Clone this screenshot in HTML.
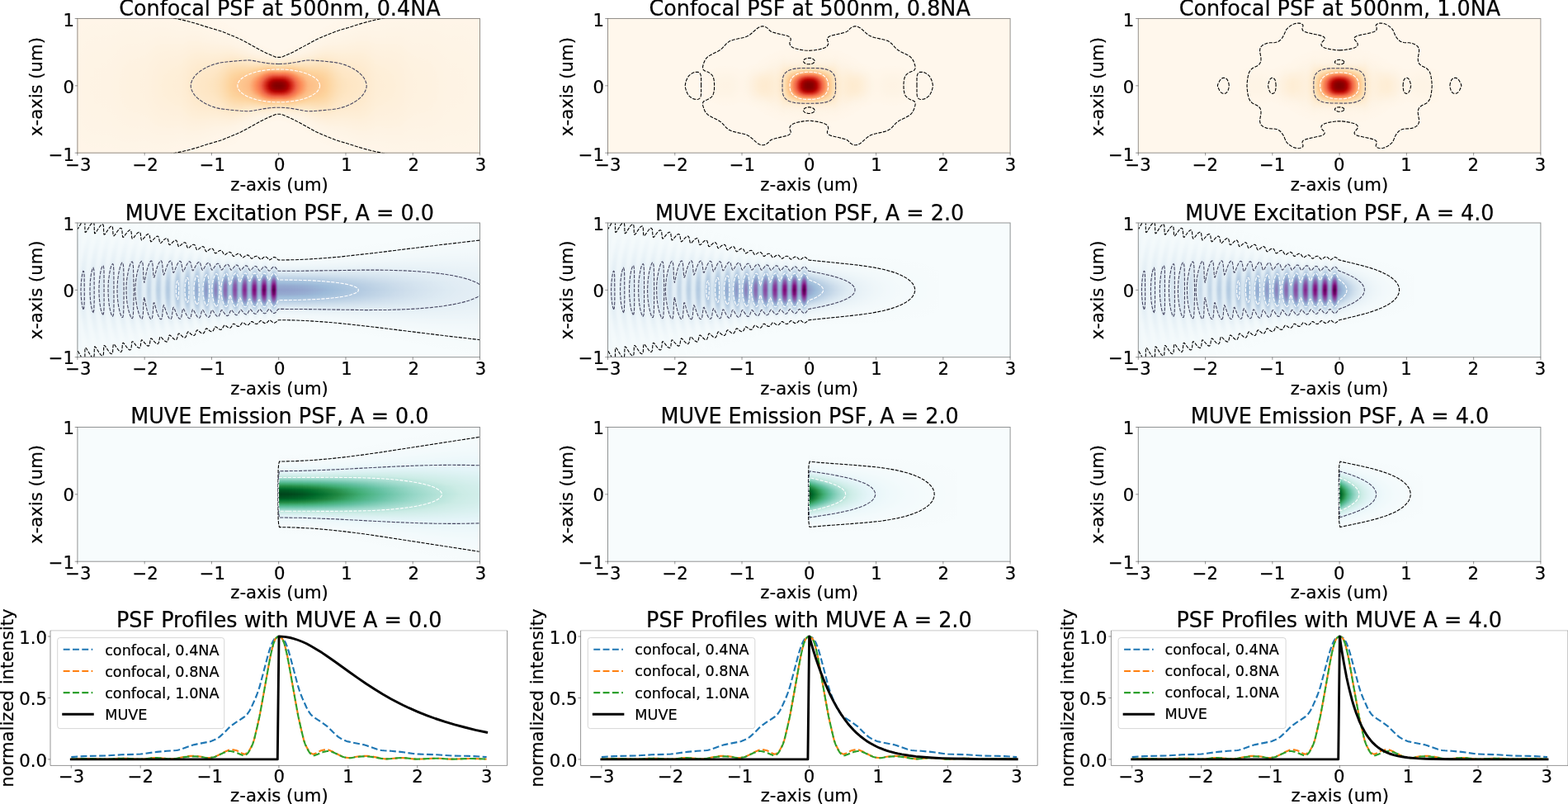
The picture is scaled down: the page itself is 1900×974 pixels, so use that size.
<!DOCTYPE html>
<html lang="en"><head><meta charset="utf-8"><title>PSF comparison</title>
<style>html,body{margin:0;padding:0;background:#fff}body{width:1900px;height:974px;overflow:hidden}svg{display:block}text{font-family:'DejaVu Sans','Liberation Sans',sans-serif;fill:#000;text-anchor:middle;stroke:#000;stroke-width:.22px}.e{text-anchor:end}.s{text-anchor:start}stop{stop-color:#fff}</style>
</head><body>
<svg width="1900" height="974" viewBox="0 0 1900 974" role="img" aria-label="PSF comparison figure">
<defs><filter id="cm0" filterUnits="userSpaceOnUse" x="0" y="0" width="1900" height="700" color-interpolation-filters="sRGB"><feComponentTransfer><feFuncR type="table" tableValues="1.0004 .9994 .9984 .9974 .9965 .9955 .9945 .9935 .9926 .9926 .9926 .9926 .9925 .9915 .9905 .9896 .9878 .975 .9622 .9495 .9358 .9122 .8886 .8649 .8402 .8048 .7694 .7339 .6968 .6456 .5944 .5432 .4984"/><feFuncG type="table" tableValues=".969 .9543 .9395 .9247 .9099 .8902 .8705 .8508 .831 .8064 .7818 .7572 .7316 .6863 .6411 .5958 .5509 .5115 .4721 .4328 .3924 .3402 .2881 .2359 .1842 .137 .0897 .0425 .0004 .0004 .0004 .0004 .0004"/><feFuncB type="table" tableValues=".9259 .8905 .855 .8196 .7841 .7427 .7014 .6601 .6192 .5936 .568 .5424 .5161 .4737 .4314 .3891 .3484 .3316 .3149 .2982 .2796 .2392 .1989 .1585 .1191 .0886 .0581 .0276 .0004 .0004 .0004 .0004 .0004"/></feComponentTransfer></filter><filter id="cm1" filterUnits="userSpaceOnUse" x="0" y="0" width="1900" height="700" color-interpolation-filters="sRGB"><feComponentTransfer><feFuncR type="table" tableValues=".969 .9464 .9238 .9011 .8783 .8458 .8134 .7809 .7484 .7159 .6834 .651 .6192 .6015 .5837 .566 .5494 .5494 .5494 .5494 .5491 .5452 .5412 .5373 .5331 .5262 .5193 .5124 .5007 .4495 .3983 .3471 .3024"/><feFuncG type="table" tableValues=".9886 .9729 .9571 .9414 .9255 .9009 .8763 .8517 .8271 .8045 .7819 .7592 .7359 .6985 .6611 .6237 .586 .5437 .5013 .459 .4168 .3754 .3341 .2928 .2507 .2015 .1523 .1031 .0576 .0428 .0281 .0133 .0004"/><feFuncB type="table" tableValues=".9926 .9837 .9748 .966 .957 .9433 .9295 .9157 .902 .8902 .8784 .8666 .8544 .8347 .815 .7953 .7756 .7549 .7342 .7136 .693 .6733 .6536 .6339 .613 .5806 .5481 .5156 .4814 .4332 .3849 .3367 .2945"/></feComponentTransfer></filter><filter id="cm2" filterUnits="userSpaceOnUse" x="0" y="0" width="1900" height="700" color-interpolation-filters="sRGB"><feComponentTransfer><feFuncR type="table" tableValues=".969 .9513 .9336 .9159 .8981 .8734 .8488 .8242 .7988 .7486 .6984 .6482 .598 .5479 .4977 .4475 .3981 .3617 .3253 .2889 .253 .2235 .1939 .1644 .1344 .1 .0655 .0311 .0004 .0004 .0004 .0004 .0004"/><feFuncG type="table" tableValues=".9886 .9817 .9749 .968 .961 .9522 .9433 .9345 .9253 .9056 .8859 .8662 .8464 .8248 .8031 .7815 .76 .7403 .7206 .7009 .6801 .6456 .6112 .5767 .5427 .5132 .4837 .4541 .4234 .3831 .3427 .3024 .2671"/><feFuncB type="table" tableValues=".9926 .9886 .9847 .9807 .9766 .9579 .9392 .9205 .9015 .8729 .8444 .8158 .7869 .7505 .7141 .6777 .6407 .5954 .5502 .5049 .4594 .4111 .3629 .3147 .2687 .2441 .2195 .1949 .1711 .1544 .1377 .1209 .1063"/></feComponentTransfer></filter><filter id="blr" filterUnits="userSpaceOnUse" x="0" y="0" width="1900" height="700"><feGaussianBlur stdDeviation="1.3"/></filter><linearGradient id="gG" x1="0" y1="0" x2="0" y2="1"><stop offset="0" stop-opacity="0"/><stop offset=".042" stop-opacity="0"/><stop offset=".083" stop-opacity=".001"/><stop offset=".125" stop-opacity=".003"/><stop offset=".167" stop-opacity=".009"/><stop offset=".208" stop-opacity=".027"/><stop offset=".25" stop-opacity=".071"/><stop offset=".292" stop-opacity=".159"/><stop offset=".333" stop-opacity=".309"/><stop offset=".375" stop-opacity=".516"/><stop offset=".417" stop-opacity=".745"/><stop offset=".458" stop-opacity=".929"/><stop offset=".5" stop-opacity="1"/><stop offset=".542" stop-opacity=".929"/><stop offset=".583" stop-opacity=".745"/><stop offset=".625" stop-opacity=".516"/><stop offset=".667" stop-opacity=".309"/><stop offset=".708" stop-opacity=".159"/><stop offset=".75" stop-opacity=".071"/><stop offset=".792" stop-opacity=".027"/><stop offset=".833" stop-opacity=".009"/><stop offset=".875" stop-opacity=".003"/><stop offset=".917" stop-opacity=".001"/><stop offset=".958" stop-opacity="0"/><stop offset="1" stop-opacity="0"/></linearGradient><linearGradient id="gA" x1="0" y1="0" x2="0" y2="1"><stop offset="0" stop-opacity=".003"/><stop offset=".042" stop-opacity=".008"/><stop offset=".083" stop-opacity=".02"/><stop offset=".125" stop-opacity=".043"/><stop offset=".167" stop-opacity=".086"/><stop offset=".208" stop-opacity=".157"/><stop offset=".25" stop-opacity=".262"/><stop offset=".292" stop-opacity=".401"/><stop offset=".333" stop-opacity=".564"/><stop offset=".375" stop-opacity=".731"/><stop offset=".417" stop-opacity=".875"/><stop offset=".458" stop-opacity=".969"/><stop offset=".5" stop-opacity="1"/><stop offset=".542" stop-opacity=".969"/><stop offset=".583" stop-opacity=".875"/><stop offset=".625" stop-opacity=".731"/><stop offset=".667" stop-opacity=".564"/><stop offset=".708" stop-opacity=".401"/><stop offset=".75" stop-opacity=".262"/><stop offset=".792" stop-opacity=".157"/><stop offset=".833" stop-opacity=".086"/><stop offset=".875" stop-opacity=".043"/><stop offset=".917" stop-opacity=".02"/><stop offset=".958" stop-opacity=".008"/><stop offset="1" stop-opacity=".003"/></linearGradient><linearGradient id="gB" x1="0" y1="0" x2="0" y2="1"><stop offset="0" stop-opacity=".003"/><stop offset=".042" stop-opacity=".009"/><stop offset=".083" stop-opacity=".025"/><stop offset=".125" stop-opacity=".06"/><stop offset=".167" stop-opacity=".125"/><stop offset=".208" stop-opacity=".227"/><stop offset=".25" stop-opacity=".368"/><stop offset=".292" stop-opacity=".534"/><stop offset=".333" stop-opacity=".701"/><stop offset=".375" stop-opacity=".843"/><stop offset=".417" stop-opacity=".941"/><stop offset=".458" stop-opacity=".99"/><stop offset=".5" stop-opacity="1"/><stop offset=".542" stop-opacity=".99"/><stop offset=".583" stop-opacity=".941"/><stop offset=".625" stop-opacity=".843"/><stop offset=".667" stop-opacity=".701"/><stop offset=".708" stop-opacity=".534"/><stop offset=".75" stop-opacity=".368"/><stop offset=".792" stop-opacity=".227"/><stop offset=".833" stop-opacity=".125"/><stop offset=".875" stop-opacity=".06"/><stop offset=".917" stop-opacity=".025"/><stop offset=".958" stop-opacity=".009"/><stop offset="1" stop-opacity=".003"/></linearGradient><radialGradient id="halo"><stop offset="0" stop-opacity=".06"/><stop offset=".35" stop-opacity=".045"/><stop offset=".6" stop-opacity=".022"/><stop offset=".8" stop-opacity=".008"/><stop offset="1" stop-opacity="0"/></radialGradient><clipPath id="cp00"><rect x="93.9" y="22.5" width="487.6" height="162.7"/></clipPath><clipPath id="cp01"><rect x="736.5" y="22.5" width="487.6" height="162.7"/></clipPath><clipPath id="cp02"><rect x="1379.3" y="22.5" width="487.6" height="162.7"/></clipPath><clipPath id="cp10"><rect x="93.9" y="270" width="487.6" height="162.7"/></clipPath><clipPath id="cl10"><rect x="91.9" y="270" width="246.1" height="162.7"/></clipPath><clipPath id="cp11"><rect x="736.5" y="270" width="487.6" height="162.7"/></clipPath><clipPath id="cl11"><rect x="734.5" y="270" width="245.5" height="162.7"/></clipPath><clipPath id="cp12"><rect x="1379.3" y="270" width="487.6" height="162.7"/></clipPath><clipPath id="cl12"><rect x="1377.3" y="270" width="245.7" height="162.7"/></clipPath><clipPath id="cp20"><rect x="93.9" y="517.5" width="487.6" height="162.7"/></clipPath><clipPath id="cp21"><rect x="736.5" y="517.5" width="487.6" height="162.7"/></clipPath><clipPath id="cp22"><rect x="1379.3" y="517.5" width="487.6" height="162.7"/></clipPath></defs>
<g id="ax00">
<rect x="93.9" y="22.5" width="487.6" height="162.7" fill="#fff7ec"/>
<g clip-path="url(#cp00)"><g filter="url(#cm0)"><rect x="92.9" y="21.5" width="489.6" height="164.7" fill="#000"/><g fill="url(#gA)"><rect x="93.9" y="-120.3" width="1.1" height="448.3" opacity=".019"/><rect x="95" y="-119.5" width="1" height="446.8" opacity=".02"/><rect x="96" y="-118.8" width="1" height="445.3" opacity=".02"/><rect x="97" y="-118.1" width="1" height="443.9" opacity=".021"/><rect x="98" y="-117.4" width="1" height="442.5" opacity=".021"/><rect x="99" y="-116.7" width="1" height="441.1" opacity=".022"/><rect x="100" y="-116" width="1" height="439.6" opacity=".022"/><rect x="101" y="-115.2" width="1" height="438.2" opacity=".023"/><rect x="102" y="-114.5" width="1" height="436.7" opacity=".023"/><rect x="103" y="-113.8" width="1" height="435.3" opacity=".024"/><rect x="104" y="-113.1" width="1" height="433.8" opacity=".024"/><rect x="105" y="-112.4" width="1" height="432.4" opacity=".024"/><rect x="106" y="-111.6" width="1" height="431" opacity=".025"/><rect x="107" y="-110.9" width="1" height="429.5" opacity=".025"/><rect x="108" y="-110.2" width="1" height="428" opacity=".025"/><rect x="109" y="-109.4" width="1" height="426.6" opacity=".026"/><rect x="110" y="-108.7" width="1" height="425.1" opacity=".026"/><rect x="111" y="-108" width="1" height="423.7" opacity=".026"/><rect x="112" y="-107.3" width="1" height="422.2" opacity=".026"/><rect x="113" y="-106.5" width="1" height="420.7" opacity=".026"/><rect x="114" y="-105.8" width="1" height="419.3" opacity=".027"/><rect x="115" y="-105.1" width="1" height="417.8" opacity=".027"/><rect x="116" y="-104.3" width="1" height="416.3" opacity=".027"/><rect x="117" y="-103.6" width="1" height="414.9" opacity=".027"/><rect x="118" y="-102.8" width="1" height="413.4" opacity=".027"/><rect x="119" y="-102.1" width="1" height="411.9" opacity=".027"/><rect x="120" y="-101.4" width="1" height="410.4" opacity=".027"/><rect x="121" y="-100.6" width="1" height="409" opacity=".027"/><rect x="122" y="-99.9" width="1" height="407.5" opacity=".028"/><rect x="123" y="-99.1" width="1" height="406" opacity=".028"/><rect x="124" y="-98.4" width="1" height="404.5" opacity=".028"/><rect x="125" y="-97.7" width="1" height="403" opacity=".028"/><rect x="126" y="-96.9" width="1" height="401.5" opacity=".028"/><rect x="127" y="-96.2" width="1" height="400" opacity=".028"/><rect x="128" y="-95.4" width="1" height="398.5" opacity=".028"/><rect x="129" y="-94.7" width="1" height="397" opacity=".028"/><rect x="130" y="-93.9" width="1" height="395.5" opacity=".029"/><rect x="131" y="-93.2" width="1" height="394" opacity=".029"/><rect x="132" y="-92.4" width="1" height="392.5" opacity=".029"/><rect x="133" y="-91.7" width="1" height="391" opacity=".029"/><rect x="134" y="-90.9" width="1" height="389.5" opacity=".029"/><rect x="135" y="-90.2" width="1" height="388" opacity=".03"/><rect x="136" y="-89.4" width="1" height="386.5" opacity=".03"/><rect x="137" y="-88.7" width="1" height="385" opacity=".031"/><rect x="138" y="-87.9" width="1" height="383.5" opacity=".031"/><rect x="139" y="-87.1" width="1" height="382" opacity=".031"/><rect x="140" y="-86.4" width="1" height="380.5" opacity=".032"/><rect x="141" y="-85.6" width="1" height="378.9" opacity=".032"/><rect x="142" y="-84.9" width="1" height="377.4" opacity=".033"/><rect x="143" y="-84.1" width="1" height="375.9" opacity=".033"/><rect x="144" y="-83.3" width="1" height="374.4" opacity=".034"/><rect x="145" y="-82.6" width="1" height="372.8" opacity=".034"/><rect x="146" y="-81.8" width="1" height="371.3" opacity=".035"/><rect x="147" y="-81" width="1" height="369.8" opacity=".035"/><rect x="148" y="-80.3" width="1" height="368.3" opacity=".036"/><rect x="149" y="-79.5" width="1" height="366.7" opacity=".036"/><rect x="150" y="-78.7" width="1" height="365.2" opacity=".037"/><rect x="151" y="-78" width="1" height="363.7" opacity=".037"/><rect x="152" y="-77.2" width="1" height="362.1" opacity=".037"/><rect x="153" y="-76.4" width="1" height="360.6" opacity=".038"/><rect x="154" y="-75.7" width="1" height="359" opacity=".038"/><rect x="155" y="-74.9" width="1" height="357.5" opacity=".038"/><rect x="156" y="-74.1" width="1" height="356" opacity=".039"/><rect x="157" y="-73.4" width="1" height="354.4" opacity=".039"/><rect x="158" y="-72.6" width="1" height="352.9" opacity=".039"/><rect x="159" y="-71.8" width="1" height="351.3" opacity=".039"/><rect x="160" y="-71" width="1" height="349.8" opacity=".039"/><rect x="161" y="-70.3" width="1" height="348.2" opacity=".04"/><rect x="162" y="-69.5" width="1" height="346.7" opacity=".04"/><rect x="163" y="-68.7" width="1" height="345.1" opacity=".04"/><rect x="164" y="-67.9" width="1" height="343.5" opacity=".04"/><rect x="165" y="-67.1" width="1" height="342" opacity=".04"/><rect x="166" y="-66.4" width="1" height="340.4" opacity=".041"/><rect x="167" y="-65.6" width="1" height="338.9" opacity=".041"/><rect x="168" y="-64.8" width="1" height="337.3" opacity=".041"/><rect x="169" y="-64" width="1" height="335.7" opacity=".041"/><rect x="170" y="-63.2" width="1" height="334.2" opacity=".042"/><rect x="171" y="-62.5" width="1" height="332.6" opacity=".042"/><rect x="172" y="-61.7" width="1" height="331" opacity=".042"/><rect x="173" y="-60.9" width="1" height="329.5" opacity=".043"/><rect x="174" y="-60.1" width="1" height="327.9" opacity=".043"/><rect x="175" y="-59.3" width="1" height="326.3" opacity=".043"/><rect x="176" y="-58.5" width="1" height="324.8" opacity=".044"/><rect x="177" y="-57.7" width="1" height="323.2" opacity=".045"/><rect x="178" y="-57" width="1" height="321.6" opacity=".045"/><rect x="179" y="-56.2" width="1" height="320" opacity=".046"/><rect x="180" y="-55.4" width="1" height="318.5" opacity=".047"/><rect x="181" y="-54.6" width="1" height="316.9" opacity=".048"/><rect x="182" y="-53.8" width="1" height="315.3" opacity=".049"/><rect x="183" y="-53" width="1" height="313.7" opacity=".05"/><rect x="184" y="-52.2" width="1" height="312.1" opacity=".051"/><rect x="185" y="-51.4" width="1" height="310.5" opacity=".052"/><rect x="186" y="-50.6" width="1" height="308.9" opacity=".053"/><rect x="187" y="-49.8" width="1" height="307.4" opacity=".054"/><rect x="188" y="-49" width="1" height="305.8" opacity=".055"/><rect x="189" y="-48.2" width="1" height="304.2" opacity=".056"/><rect x="190" y="-47.4" width="1" height="302.6" opacity=".057"/><rect x="191" y="-46.6" width="1" height="301" opacity=".058"/><rect x="192" y="-45.9" width="1" height="299.4" opacity=".059"/><rect x="193" y="-45.1" width="1" height="297.8" opacity=".06"/><rect x="194" y="-44.3" width="1" height="296.2" opacity=".061"/><rect x="195" y="-43.5" width="1" height="294.6" opacity=".061"/><rect x="196" y="-42.7" width="1" height="293" opacity=".062"/><rect x="197" y="-41.9" width="1" height="291.4" opacity=".063"/><rect x="198" y="-41.1" width="1" height="289.8" opacity=".063"/><rect x="199" y="-40.3" width="1" height="288.2" opacity=".064"/><rect x="200" y="-39.5" width="1" height="286.6" opacity=".064"/><rect x="201" y="-38.7" width="1" height="285" opacity=".065"/><rect x="202" y="-37.8" width="1" height="283.4" opacity=".065"/><rect x="203" y="-37" width="1" height="281.8" opacity=".066"/><rect x="204" y="-36.2" width="1" height="280.2" opacity=".067"/><rect x="205" y="-35.4" width="1" height="278.6" opacity=".067"/><rect x="206" y="-34.6" width="1" height="277" opacity=".068"/><rect x="207" y="-33.8" width="1" height="275.4" opacity=".068"/><rect x="208" y="-33" width="1" height="273.7" opacity=".069"/><rect x="209" y="-32.2" width="1" height="272.1" opacity=".069"/><rect x="210" y="-31.4" width="1" height="270.5" opacity=".07"/><rect x="211" y="-30.6" width="1" height="268.9" opacity=".07"/><rect x="212" y="-29.8" width="1" height="267.3" opacity=".071"/><rect x="213" y="-29" width="1" height="265.7" opacity=".071"/><rect x="214" y="-28.2" width="1" height="264.1" opacity=".072"/><rect x="215" y="-27.4" width="1" height="262.4" opacity=".072"/><rect x="216" y="-26.6" width="1" height="260.8" opacity=".073"/><rect x="217" y="-25.7" width="1" height="259.2" opacity=".074"/><rect x="218" y="-24.9" width="1" height="257.5" opacity=".074"/><rect x="219" y="-24.1" width="1" height="255.9" opacity=".076"/><rect x="220" y="-23.3" width="1" height="254.2" opacity=".077"/><rect x="221" y="-22.4" width="1" height="252.6" opacity=".079"/><rect x="222" y="-21.6" width="1" height="250.9" opacity=".082"/><rect x="223" y="-20.8" width="1" height="249.2" opacity=".084"/><rect x="224" y="-19.9" width="1" height="247.6" opacity=".086"/><rect x="225" y="-19.1" width="1" height="245.9" opacity=".089"/><rect x="226" y="-18.2" width="1" height="244.2" opacity=".091"/><rect x="227" y="-17.4" width="1" height="242.5" opacity=".094"/><rect x="228" y="-16.6" width="1" height="240.8" opacity=".096"/><rect x="229" y="-15.7" width="1" height="239.1" opacity=".099"/><rect x="230" y="-14.8" width="1" height="237.4" opacity=".102"/><rect x="231" y="-14" width="1" height="235.7" opacity=".104"/><rect x="232" y="-13.1" width="1" height="234" opacity=".106"/><rect x="233" y="-12.3" width="1" height="232.3" opacity=".109"/><rect x="234" y="-11.4" width="1" height="230.6" opacity=".111"/><rect x="235" y="-10.6" width="1" height="228.8" opacity=".113"/><rect x="236" y="-9.7" width="1" height="227.1" opacity=".115"/><rect x="237" y="-8.9" width="1" height="225.4" opacity=".117"/><rect x="238" y="-8" width="1" height="223.7" opacity=".119"/><rect x="239" y="-7.1" width="1" height="222" opacity=".121"/><rect x="240" y="-6.3" width="1" height="220.3" opacity=".123"/><rect x="241" y="-5.4" width="1" height="218.6" opacity=".124"/><rect x="242" y="-4.6" width="1" height="216.9" opacity=".125"/><rect x="243" y="-3.7" width="1" height="215.1" opacity=".127"/><rect x="244" y="-2.9" width="1" height="213.4" opacity=".128"/><rect x="245" y="-2" width="1" height="211.7" opacity=".129"/><rect x="246" y="-1.2" width="1" height="210" opacity=".131"/><rect x="247" y="-.3" width="1" height="208.4" opacity=".132"/><rect x="248" y=".5" width="1" height="206.7" opacity=".133"/><rect x="249" y="1.4" width="1" height="205" opacity=".135"/><rect x="250" y="2.2" width="1" height="203.3" opacity=".136"/><rect x="251" y="3" width="1" height="201.6" opacity=".137"/><rect x="252" y="3.9" width="1" height="200" opacity=".138"/><rect x="253" y="4.7" width="1" height="198.3" opacity=".14"/><rect x="254" y="5.5" width="1" height="196.6" opacity=".141"/><rect x="255" y="6.4" width="1" height="195" opacity=".143"/><rect x="256" y="7.2" width="1" height="193.4" opacity=".145"/><rect x="257" y="8" width="1" height="191.7" opacity=".147"/><rect x="258" y="8.8" width="1" height="190.1" opacity=".149"/><rect x="259" y="9.6" width="1" height="188.5" opacity=".152"/><rect x="260" y="10.4" width="1" height="186.9" opacity=".154"/><rect x="261" y="11.2" width="1" height="185.2" opacity=".157"/><rect x="262" y="12" width="1" height="183.6" opacity=".16"/><rect x="263" y="12.8" width="1" height="182" opacity=".164"/><rect x="264" y="13.6" width="1" height="180.4" opacity=".168"/><rect x="265" y="14.4" width="1" height="178.8" opacity=".172"/><rect x="266" y="15.2" width="1" height="177.2" opacity=".176"/><rect x="267" y="16" width="1" height="175.6" opacity=".181"/><rect x="268" y="16.8" width="1" height="174" opacity=".186"/><rect x="269" y="17.6" width="1" height="172.4" opacity=".192"/><rect x="270" y="18.4" width="1" height="170.8" opacity=".198"/><rect x="271" y="19.2" width="1" height="169.3" opacity=".204"/><rect x="272" y="20" width="1" height="167.7" opacity=".21"/><rect x="273" y="20.8" width="1" height="166.1" opacity=".217"/><rect x="274" y="21.6" width="1" height="164.5" opacity=".224"/><rect x="275" y="22.4" width="1" height="162.9" opacity=".23"/><rect x="276" y="23.2" width="1" height="161.3" opacity=".238"/><rect x="277" y="24" width="1" height="159.8" opacity=".245"/><rect x="278" y="24.8" width="1" height="158.2" opacity=".252"/><rect x="279" y="25.5" width="1" height="156.6" opacity=".259"/><rect x="280" y="26.3" width="1" height="155" opacity=".265"/><rect x="281" y="27.1" width="1" height="153.5" opacity=".271"/><rect x="282" y="27.9" width="1" height="151.9" opacity=".277"/><rect x="283" y="28.7" width="1" height="150.3" opacity=".282"/><rect x="284" y="29.5" width="1" height="148.8" opacity=".287"/><rect x="285" y="30.3" width="1" height="147.2" opacity=".292"/><rect x="286" y="31" width="1" height="145.6" opacity=".297"/><rect x="287" y="31.8" width="1" height="144" opacity=".301"/><rect x="288" y="32.6" width="1" height="142.5" opacity=".306"/><rect x="289" y="33.4" width="1" height="140.9" opacity=".31"/><rect x="290" y="34.2" width="1" height="139.3" opacity=".315"/><rect x="291" y="35" width="1" height="137.7" opacity=".319"/><rect x="292" y="35.8" width="1" height="136.1" opacity=".324"/><rect x="293" y="36.6" width="1" height="134.6" opacity=".328"/><rect x="294" y="37.4" width="1" height="133" opacity=".333"/><rect x="295" y="38.1" width="1" height="131.4" opacity=".337"/><rect x="296" y="38.9" width="1" height="129.8" opacity=".342"/><rect x="297" y="39.7" width="1" height="128.2" opacity=".347"/><rect x="298" y="40.6" width="1" height="126.6" opacity=".353"/><rect x="299" y="41.4" width="1" height="124.9" opacity=".36"/><rect x="300" y="42.3" width="1" height="123.2" opacity=".368"/><rect x="301" y="43.1" width="1" height="121.4" opacity=".376"/><rect x="302" y="44" width="1" height="119.6" opacity=".386"/><rect x="303" y="44.9" width="1" height="117.9" opacity=".398"/><rect x="304" y="45.8" width="1" height="116.1" opacity=".411"/><rect x="305" y="46.7" width="1" height="114.4" opacity=".425"/><rect x="306" y="47.5" width="1" height="112.7" opacity=".441"/><rect x="307" y="48.3" width="1" height="111.1" opacity=".457"/><rect x="308" y="49.1" width="1" height="109.5" opacity=".472"/><rect x="309" y="49.9" width="1" height="108" opacity=".487"/><rect x="310" y="50.6" width="1" height="106.5" opacity=".503"/><rect x="311" y="51.2" width="1" height="105.2" opacity=".52"/><rect x="312" y="51.8" width="1" height="104" opacity=".538"/><rect x="313" y="52.4" width="1" height="102.9" opacity=".558"/><rect x="314" y="52.9" width="1" height="101.9" opacity=".579"/><rect x="315" y="53.4" width="1" height="100.8" opacity=".602"/><rect x="316" y="54" width="1" height="99.8" opacity=".627"/><rect x="317" y="54.5" width="1" height="98.8" opacity=".653"/><rect x="318" y="55" width="1" height="97.8" opacity=".679"/><rect x="319" y="55.4" width="1" height="96.8" opacity=".705"/><rect x="320" y="55.9" width="1" height="95.9" opacity=".732"/><rect x="321" y="56.4" width="1" height="94.9" opacity=".758"/><rect x="322" y="56.8" width="1" height="94" opacity=".785"/><rect x="323" y="57.3" width="1" height="93.1" opacity=".811"/><rect x="324" y="57.7" width="1" height="92.3" opacity=".837"/><rect x="325" y="58.1" width="1" height="91.4" opacity=".862"/><rect x="326" y="58.5" width="1" height="90.6" opacity=".885"/><rect x="327" y="58.9" width="1" height="89.9" opacity=".906"/><rect x="328" y="59.3" width="1" height="89.2" opacity=".926"/><rect x="329" y="59.6" width="1" height="88.5" opacity=".944"/><rect x="330" y="59.9" width="1" height="87.8" opacity=".958"/><rect x="331" y="60.2" width="1" height="87.2" opacity=".97"/><rect x="332" y="60.5" width="1" height="86.7" opacity=".98"/><rect x="333" y="60.8" width="1" height="86.2" opacity=".987"/><rect x="334" y="61.2" width="3" height="85.3" opacity=".996"/><rect x="337" y="61.4" width="4" height="85" opacity=".998"/><rect x="341" y="60.9" width="1" height="86" opacity=".989"/><rect x="342" y="60.6" width="1" height="86.5" opacity=".983"/><rect x="343" y="60.4" width="1" height="87" opacity=".974"/><rect x="344" y="60.1" width="1" height="87.6" opacity=".963"/><rect x="345" y="59.7" width="1" height="88.2" opacity=".95"/><rect x="346" y="59.4" width="1" height="88.9" opacity=".933"/><rect x="347" y="59.1" width="1" height="89.6" opacity=".914"/><rect x="348" y="58.7" width="1" height="90.3" opacity=".893"/><rect x="349" y="58.3" width="1" height="91.1" opacity=".871"/><rect x="350" y="57.9" width="1" height="91.9" opacity=".847"/><rect x="351" y="57.5" width="1" height="92.8" opacity=".821"/><rect x="352" y="57" width="1" height="93.6" opacity=".795"/><rect x="353" y="56.6" width="1" height="94.5" opacity=".769"/><rect x="354" y="56.1" width="1" height="95.5" opacity=".742"/><rect x="355" y="55.6" width="1" height="96.4" opacity=".716"/><rect x="356" y="55.2" width="1" height="97.4" opacity=".689"/><rect x="357" y="54.7" width="1" height="98.4" opacity=".663"/><rect x="358" y="54.2" width="1" height="99.4" opacity=".637"/><rect x="359" y="53.6" width="1" height="100.4" opacity=".612"/><rect x="360" y="53.1" width="1" height="101.4" opacity=".588"/><rect x="361" y="52.6" width="1" height="102.5" opacity=".566"/><rect x="362" y="52.1" width="1" height="103.5" opacity=".546"/><rect x="363" y="51.5" width="1" height="104.7" opacity=".527"/><rect x="364" y="50.9" width="1" height="106" opacity=".509"/><rect x="365" y="50.2" width="1" height="107.4" opacity=".493"/><rect x="366" y="49.4" width="1" height="108.9" opacity=".478"/><rect x="367" y="48.6" width="1" height="110.4" opacity=".463"/><rect x="368" y="47.8" width="1" height="112" opacity=".447"/><rect x="369" y="47" width="1" height="113.7" opacity=".431"/><rect x="370" y="46.1" width="1" height="115.4" opacity=".417"/><rect x="371" y="45.3" width="1" height="117.2" opacity=".403"/><rect x="372" y="44.4" width="1" height="118.9" opacity=".391"/><rect x="373" y="43.5" width="1" height="120.7" opacity=".38"/><rect x="374" y="42.6" width="1" height="122.5" opacity=".371"/><rect x="375" y="41.8" width="1" height="124.2" opacity=".363"/><rect x="376" y="40.9" width="1" height="125.9" opacity=".356"/><rect x="377" y="40.1" width="1" height="127.6" opacity=".35"/><rect x="378" y="39.3" width="1" height="129.2" opacity=".344"/><rect x="379" y="38.5" width="1" height="130.8" opacity=".339"/><rect x="380" y="37.7" width="1" height="132.4" opacity=".335"/><rect x="381" y="36.9" width="1" height="133.9" opacity=".33"/><rect x="382" y="36.1" width="1" height="135.5" opacity=".325"/><rect x="383" y="35.3" width="1" height="137.1" opacity=".321"/><rect x="384" y="34.5" width="1" height="138.7" opacity=".316"/><rect x="385" y="33.7" width="1" height="140.3" opacity=".312"/><rect x="386" y="32.9" width="1" height="141.8" opacity=".308"/><rect x="387" y="32.1" width="1" height="143.4" opacity=".303"/><rect x="388" y="31.4" width="1" height="145" opacity=".299"/><rect x="389" y="30.6" width="1" height="146.6" opacity=".294"/><rect x="390" y="29.8" width="1" height="148.1" opacity=".289"/><rect x="391" y="29" width="1" height="149.7" opacity=".284"/><rect x="392" y="28.2" width="1" height="151.3" opacity=".279"/><rect x="393" y="27.4" width="1" height="152.8" opacity=".273"/><rect x="394" y="26.6" width="1" height="154.4" opacity=".268"/><rect x="395" y="25.9" width="1" height="156" opacity=".262"/><rect x="396" y="25.1" width="1" height="157.6" opacity=".255"/><rect x="397" y="24.3" width="1" height="159.1" opacity=".248"/><rect x="398" y="23.5" width="1" height="160.7" opacity=".241"/><rect x="399" y="22.7" width="1" height="162.3" opacity=".233"/><rect x="400" y="21.9" width="1" height="163.9" opacity=".226"/><rect x="401" y="21.1" width="1" height="165.5" opacity=".22"/><rect x="402" y="20.3" width="1" height="167" opacity=".213"/><rect x="403" y="19.5" width="1" height="168.6" opacity=".207"/><rect x="404" y="18.7" width="1" height="170.2" opacity=".2"/><rect x="405" y="18" width="1" height="171.8" opacity=".194"/><rect x="406" y="17.2" width="1" height="173.4" opacity=".188"/><rect x="407" y="16.4" width="1" height="175" opacity=".183"/><rect x="408" y="15.6" width="1" height="176.6" opacity=".178"/><rect x="409" y="14.8" width="1" height="178.2" opacity=".173"/><rect x="410" y="14" width="1" height="179.8" opacity=".169"/><rect x="411" y="13.2" width="1" height="181.4" opacity=".165"/><rect x="412" y="12.4" width="1" height="183" opacity=".162"/><rect x="413" y="11.6" width="1" height="184.6" opacity=".158"/><rect x="414" y="10.7" width="1" height="186.2" opacity=".155"/><rect x="415" y="9.9" width="1" height="187.8" opacity=".153"/><rect x="416" y="9.1" width="1" height="189.4" opacity=".15"/><rect x="417" y="8.3" width="1" height="191.1" opacity=".148"/><rect x="418" y="7.5" width="1" height="192.7" opacity=".146"/><rect x="419" y="6.7" width="1" height="194.3" opacity=".144"/><rect x="420" y="5.9" width="1" height="196" opacity=".142"/><rect x="421" y="5" width="1" height="197.6" opacity=".14"/><rect x="422" y="4.2" width="1" height="199.3" opacity=".139"/><rect x="423" y="3.4" width="1" height="201" opacity=".138"/><rect x="424" y="2.5" width="1" height="202.6" opacity=".136"/><rect x="425" y="1.7" width="1" height="204.3" opacity=".135"/><rect x="426" y=".9" width="1" height="206" opacity=".134"/><rect x="427" y="0" width="1" height="207.7" opacity=".133"/><rect x="428" y="-.8" width="1" height="209.4" opacity=".131"/><rect x="429" y="-1.7" width="1" height="211.1" opacity=".13"/><rect x="430" y="-2.5" width="1" height="212.8" opacity=".129"/><rect x="431" y="-3.4" width="1" height="214.5" opacity=".127"/><rect x="432" y="-4.2" width="1" height="216.2" opacity=".126"/><rect x="433" y="-5.1" width="1" height="217.9" opacity=".125"/><rect x="434" y="-5.9" width="1" height="219.6" opacity=".123"/><rect x="435" y="-6.8" width="1" height="221.3" opacity=".122"/><rect x="436" y="-7.7" width="1" height="223" opacity=".12"/><rect x="437" y="-8.5" width="1" height="224.7" opacity=".118"/><rect x="438" y="-9.4" width="1" height="226.4" opacity=".116"/><rect x="439" y="-10.2" width="1" height="228.2" opacity=".114"/><rect x="440" y="-11.1" width="1" height="229.9" opacity=".112"/><rect x="441" y="-11.9" width="1" height="231.6" opacity=".11"/><rect x="442" y="-12.8" width="1" height="233.3" opacity=".107"/><rect x="443" y="-13.7" width="1" height="235" opacity=".105"/><rect x="444" y="-14.5" width="1" height="236.7" opacity=".103"/><rect x="445" y="-15.4" width="1" height="238.4" opacity=".1"/><rect x="446" y="-16.2" width="1" height="240.1" opacity=".097"/><rect x="447" y="-17.1" width="1" height="241.8" opacity=".095"/><rect x="448" y="-17.9" width="1" height="243.5" opacity=".092"/><rect x="449" y="-18.8" width="1" height="245.2" opacity=".09"/><rect x="450" y="-19.6" width="1" height="246.9" opacity=".087"/><rect x="451" y="-20.4" width="1" height="248.6" opacity=".085"/><rect x="452" y="-21.3" width="1" height="250.2" opacity=".083"/><rect x="453" y="-22.1" width="1" height="251.9" opacity=".08"/><rect x="454" y="-22.9" width="1" height="253.6" opacity=".078"/><rect x="455" y="-23.8" width="1" height="255.2" opacity=".076"/><rect x="456" y="-24.6" width="1" height="256.9" opacity=".075"/><rect x="457" y="-25.4" width="1" height="258.5" opacity=".074"/><rect x="458" y="-26.2" width="1" height="260.2" opacity=".073"/><rect x="459" y="-27" width="1" height="261.8" opacity=".072"/><rect x="460" y="-27.9" width="1" height="263.4" opacity=".072"/><rect x="461" y="-28.7" width="1" height="265" opacity=".071"/><rect x="462" y="-29.5" width="1" height="266.6" opacity=".071"/><rect x="463" y="-30.3" width="1" height="268.3" opacity=".07"/><rect x="464" y="-31.1" width="1" height="269.9" opacity=".07"/><rect x="465" y="-31.9" width="1" height="271.5" opacity=".069"/><rect x="466" y="-32.7" width="1" height="273.1" opacity=".069"/><rect x="467" y="-33.5" width="1" height="274.7" opacity=".068"/><rect x="468" y="-34.3" width="1" height="276.3" opacity=".068"/><rect x="469" y="-35.1" width="1" height="277.9" opacity=".067"/><rect x="470" y="-35.9" width="1" height="279.5" opacity=".067"/><rect x="471" y="-36.7" width="1" height="281.1" opacity=".066"/><rect x="472" y="-37.5" width="1" height="282.8" opacity=".066"/><rect x="473" y="-38.3" width="1" height="284.4" opacity=".065"/><rect x="474" y="-39.1" width="1" height="286" opacity=".065"/><rect x="475" y="-39.9" width="1" height="287.6" opacity=".064"/><rect x="476" y="-40.7" width="1" height="289.2" opacity=".063"/><rect x="477" y="-41.5" width="1" height="290.8" opacity=".063"/><rect x="478" y="-42.3" width="1" height="292.4" opacity=".062"/><rect x="479" y="-43.1" width="1" height="294" opacity=".062"/><rect x="480" y="-43.9" width="1" height="295.6" opacity=".061"/><rect x="481" y="-44.7" width="1" height="297.2" opacity=".06"/><rect x="482" y="-45.5" width="1" height="298.8" opacity=".059"/><rect x="483" y="-46.3" width="1" height="300.4" opacity=".059"/><rect x="484" y="-47.1" width="1" height="302" opacity=".058"/><rect x="485" y="-47.9" width="1" height="303.5" opacity=".057"/><rect x="486" y="-48.7" width="1" height="305.1" opacity=".056"/><rect x="487" y="-49.5" width="1" height="306.7" opacity=".055"/><rect x="488" y="-50.3" width="1" height="308.3" opacity=".054"/><rect x="489" y="-51.1" width="1" height="309.9" opacity=".052"/><rect x="490" y="-51.9" width="1" height="311.5" opacity=".051"/><rect x="491" y="-52.7" width="1" height="313.1" opacity=".05"/><rect x="492" y="-53.5" width="1" height="314.7" opacity=".049"/><rect x="493" y="-54.3" width="1" height="316.2" opacity=".048"/><rect x="494" y="-55.1" width="1" height="317.8" opacity=".047"/><rect x="495" y="-55.8" width="1" height="319.4" opacity=".046"/><rect x="496" y="-56.6" width="1" height="321" opacity=".046"/><rect x="497" y="-57.4" width="1" height="322.6" opacity=".045"/><rect x="498" y="-58.2" width="1" height="324.1" opacity=".044"/><rect x="499" y="-59" width="1" height="325.7" opacity=".044"/><rect x="500" y="-59.8" width="1" height="327.3" opacity=".043"/><rect x="501" y="-60.6" width="1" height="328.8" opacity=".043"/><rect x="502" y="-61.4" width="1" height="330.4" opacity=".042"/><rect x="503" y="-62.1" width="1" height="332" opacity=".042"/><rect x="504" y="-62.9" width="1" height="333.6" opacity=".042"/><rect x="505" y="-63.7" width="1" height="335.1" opacity=".041"/><rect x="506" y="-64.5" width="1" height="336.7" opacity=".041"/><rect x="507" y="-65.3" width="1" height="338.2" opacity=".041"/><rect x="508" y="-66.1" width="1" height="339.8" opacity=".041"/><rect x="509" y="-66.8" width="1" height="341.4" opacity=".041"/><rect x="510" y="-67.6" width="1" height="342.9" opacity=".04"/><rect x="511" y="-68.4" width="1" height="344.5" opacity=".04"/><rect x="512" y="-69.2" width="1" height="346" opacity=".04"/><rect x="513" y="-69.9" width="1" height="347.6" opacity=".04"/><rect x="514" y="-70.7" width="1" height="349.1" opacity=".04"/><rect x="515" y="-71.5" width="1" height="350.7" opacity=".039"/><rect x="516" y="-72.3" width="1" height="352.2" opacity=".039"/><rect x="517" y="-73" width="1" height="353.8" opacity=".039"/><rect x="518" y="-73.8" width="1" height="355.3" opacity=".039"/><rect x="519" y="-74.6" width="1" height="356.9" opacity=".038"/><rect x="520" y="-75.4" width="1" height="358.4" opacity=".038"/><rect x="521" y="-76.1" width="1" height="360" opacity=".038"/><rect x="522" y="-76.9" width="1" height="361.5" opacity=".038"/><rect x="523" y="-77.7" width="1" height="363" opacity=".037"/><rect x="524" y="-78.4" width="1" height="364.6" opacity=".037"/><rect x="525" y="-79.2" width="1" height="366.1" opacity=".036"/><rect x="526" y="-80" width="1" height="367.6" opacity=".036"/><rect x="527" y="-80.7" width="1" height="369.2" opacity=".036"/><rect x="528" y="-81.5" width="1" height="370.7" opacity=".035"/><rect x="529" y="-82.3" width="1" height="372.2" opacity=".035"/><rect x="530" y="-83" width="1" height="373.8" opacity=".034"/><rect x="531" y="-83.8" width="1" height="375.3" opacity=".034"/><rect x="532" y="-84.6" width="1" height="376.8" opacity=".033"/><rect x="533" y="-85.3" width="1" height="378.3" opacity=".033"/><rect x="534" y="-86.1" width="1" height="379.9" opacity=".032"/><rect x="535" y="-86.8" width="1" height="381.4" opacity=".032"/><rect x="536" y="-87.6" width="1" height="382.9" opacity=".031"/><rect x="537" y="-88.3" width="1" height="384.4" opacity=".031"/><rect x="538" y="-89.1" width="1" height="385.9" opacity=".03"/><rect x="539" y="-89.9" width="1" height="387.4" opacity=".03"/><rect x="540" y="-90.6" width="1" height="388.9" opacity=".03"/><rect x="541" y="-91.4" width="1" height="390.4" opacity=".029"/><rect x="542" y="-92.1" width="1" height="391.9" opacity=".029"/><rect x="543" y="-92.9" width="1" height="393.4" opacity=".029"/><rect x="544" y="-93.6" width="1" height="394.9" opacity=".029"/><rect x="545" y="-94.4" width="1" height="396.4" opacity=".028"/><rect x="546" y="-95.1" width="1" height="397.9" opacity=".028"/><rect x="547" y="-95.9" width="1" height="399.4" opacity=".028"/><rect x="548" y="-96.6" width="1" height="400.9" opacity=".028"/><rect x="549" y="-97.4" width="1" height="402.4" opacity=".028"/><rect x="550" y="-98.1" width="1" height="403.9" opacity=".028"/><rect x="551" y="-98.8" width="1" height="405.4" opacity=".028"/><rect x="552" y="-99.6" width="1" height="406.9" opacity=".028"/><rect x="553" y="-100.3" width="1" height="408.4" opacity=".028"/><rect x="554" y="-101.1" width="1" height="409.8" opacity=".027"/><rect x="555" y="-101.8" width="1" height="411.3" opacity=".027"/><rect x="556" y="-102.6" width="1" height="412.8" opacity=".027"/><rect x="557" y="-103.3" width="1" height="414.3" opacity=".027"/><rect x="558" y="-104" width="1" height="415.8" opacity=".027"/><rect x="559" y="-104.8" width="1" height="417.2" opacity=".027"/><rect x="560" y="-105.5" width="1" height="418.7" opacity=".027"/><rect x="561" y="-106.2" width="1" height="420.2" opacity=".027"/><rect x="562" y="-107" width="1" height="421.6" opacity=".026"/><rect x="563" y="-107.7" width="1" height="423.1" opacity=".026"/><rect x="564" y="-108.4" width="1" height="424.6" opacity=".026"/><rect x="565" y="-109.2" width="1" height="426" opacity=".026"/><rect x="566" y="-109.9" width="1" height="427.5" opacity=".025"/><rect x="567" y="-110.6" width="1" height="428.9" opacity=".025"/><rect x="568" y="-111.3" width="1" height="430.4" opacity=".025"/><rect x="569" y="-112.1" width="1" height="431.8" opacity=".024"/><rect x="570" y="-112.8" width="1" height="433.3" opacity=".024"/><rect x="571" y="-113.5" width="1" height="434.7" opacity=".024"/><rect x="572" y="-114.2" width="1" height="436.2" opacity=".023"/><rect x="573" y="-115" width="1" height="437.6" opacity=".023"/><rect x="574" y="-115.7" width="1" height="439" opacity=".022"/><rect x="575" y="-116.4" width="1" height="440.5" opacity=".022"/><rect x="576" y="-117.1" width="1" height="441.9" opacity=".022"/><rect x="577" y="-117.8" width="1" height="443.3" opacity=".021"/><rect x="578" y="-118.5" width="1" height="444.8" opacity=".021"/><rect x="579" y="-119.3" width="1" height="446.2" opacity=".02"/><rect x="580" y="-120.1" width="1.5" height="448" opacity=".019"/></g></g><g fill="none" stroke-width="1.1" stroke-dasharray="4.15 1.5"><path d="M204.4 20.9 220.4 24 230.9 26.6 239.6 29.1 253.3 33.5 263.7 36.5 268.9 38.2 280.6 42.9 287.3 45.7 292.2 48 297 50.5 317.6 61.8 324.1 64.9 332.4 68.5 334.1 69.1 335.8 69.4 337.7 69.4 339.6 69.4 341.3 69.1 343 68.5 351.3 64.9 357.8 61.8 378.4 50.5 383.2 48 388.1 45.7 394.8 42.9 406.5 38.2 411.7 36.5 422.1 33.5 435.8 29.1 444.5 26.6 455 24 471 20.9M204.4 186.8 220.4 183.7 230.9 181.1 239.6 178.6 253.3 174.2 263.7 171.2 268.9 169.5 280.6 164.8 287.3 162 292.2 159.7 297 157.2 317.6 145.9 324.1 142.8 332.4 139.2 334.1 138.6 335.8 138.3 337.7 138.3 339.6 138.3 341.3 138.6 343 139.2 351.3 142.8 357.8 145.9 378.4 157.2 383.2 159.7 388.1 162 394.8 164.8 406.5 169.5 411.7 171.2 422.1 174.2 435.8 178.6 444.5 181.1 455 183.7 471 186.8" stroke="#000"/><path d="M337.7 77.5 344.1 77.3 350.4 76.7 358.3 75.5 369.2 73.4 372.4 73 377.2 73 386.7 73.6 397.8 74.7 404.1 75.4 408.9 76.1 413.5 77.2 418.1 78.6 424 81.1 428.2 83.3 432.2 85.8 436 88.8 438.3 91 440.3 93.5 441.2 94.8 442.7 97.6 443.8 100.7 444.1 102.3 444.2 103.8 444.1 105.4 443.8 107 442.7 110.1 441.2 112.9 440.3 114.2 438.3 116.7 436 118.9 432.2 121.9 428.2 124.4 424 126.6 418.1 129.1 413.5 130.5 410.4 131.3 407.3 131.9 401 132.7 385.1 134.2 375.6 134.8 372.4 134.7 369.2 134.3 358.3 132.2 352 131.2 345.7 130.5 340.9 130.2 332.9 130.3 326.6 130.8 318.7 131.9 306.2 134.3 301.4 134.8 298.2 134.7 291.9 134.3 279.2 133.2 271.3 132.3 266.5 131.6 263.4 130.9 260.3 130.1 257.3 129.1 254.3 128 250 125.9 247.2 124.4 244.5 122.7 241.9 120.9 239.4 118.9 237.1 116.7 236 115.5 234.2 112.9 233.4 111.5 232.1 108.6 231.6 107 231.3 105.4 231.2 103.9 231.3 102.3 231.6 100.7 232.1 99.1 232.7 97.6 234.2 94.8 236 92.2 238.2 89.9 240.6 87.8 243.2 85.8 245.8 84.1 248.6 82.5 251.4 81.1 255.8 79.2 258.8 78.1 261.9 77.2 265 76.4 268.1 75.8 274.4 75 290.3 73.5 299.8 72.9 303 73 306.2 73.4 317.1 75.5 325 76.7 331.3 77.3Z" stroke="#454560"/><path d="M387.6 103.8 387.4 102.3 386.6 100 385.2 97.7 383.8 96.2 382.2 94.8 379.2 92.8 375.6 90.9 373 89.7 368.6 88.2 365.4 87.2 362.1 86.4 356.8 85.4 353.1 84.9 347.4 84.3 343.6 84 337.7 83.9 331.8 84 328 84.3 322.3 84.9 318.6 85.4 313.3 86.4 310 87.2 305.3 88.7 302.4 89.7 298.5 91.5 296.2 92.8 293.2 94.8 291.6 96.2 290.2 97.7 288.8 100 288 102.3 287.8 103.8 288 105.4 288.8 107.7 290.2 110 291.6 111.5 294.2 113.6 296.2 114.9 298.5 116.2 302.4 118 305.3 119 310 120.5 313.3 121.3 318.6 122.3 324.2 123.1 328 123.4 331.8 123.7 337.7 123.8 343.6 123.7 347.4 123.4 353.1 122.8 356.8 122.3 362.1 121.3 365.4 120.5 368.6 119.5 373 118 376.9 116.2 379.2 114.9 382.2 112.9 383.8 111.5 385.2 110 386.6 107.7 387.4 105.4Z" stroke="#fff"/></g></g>
<path d="M93.9 185.2v3.2M175.17 185.2v3.2M256.43 185.2v3.2M337.7 185.2v3.2M418.97 185.2v3.2M500.23 185.2v3.2M581.5 185.2v3.2M93.9 22.5h-3.2M93.9 103.85h-3.2M93.9 185.2h-3.2" stroke="#000" stroke-opacity="0.42" stroke-width="1.0" fill="none"/>
<rect x="93.9" y="22.5" width="487.6" height="162.7" fill="none" stroke="#000" stroke-opacity="0.42" stroke-width="1.0"/>
<text x="94.9" y="207.3" font-size="21.2">−3</text>
<text x="176.17" y="207.3" font-size="21.2">−2</text>
<text x="257.43" y="207.3" font-size="21.2">−1</text>
<text x="338.7" y="207.3" font-size="21.2">0</text>
<text x="419.97" y="207.3" font-size="21.2">1</text>
<text x="501.23" y="207.3" font-size="21.2">2</text>
<text x="582.5" y="207.3" font-size="21.2">3</text>
<text x="90.05" y="31.8" font-size="21.2" class="e">1</text>
<text x="90.05" y="113.15" font-size="21.2" class="e">0</text>
<text x="90.05" y="194.5" font-size="21.2" class="e">−1</text>
<text x="338.55" y="230.8" font-size="21.2">z-axis (um)</text>
<text transform="translate(51.1 105.05) rotate(-90) scale(1 1)" font-size="21.2">x-axis (um)</text>
<text transform="translate(338.9 19.2) scale(1 1.025)" font-size="25.47">Confocal PSF at 500nm, 0.4NA</text>
</g>
<g id="ax01">
<rect x="736.5" y="22.5" width="487.6" height="162.7" fill="#fff7ec"/>
<g clip-path="url(#cp01)"><g filter="url(#cm0)"><rect x="735.5" y="21.5" width="489.6" height="164.7" fill="#000"/><ellipse cx="980.3" cy="103.8" rx="81.3" ry="50.4" fill="url(#halo)"/><g fill="url(#gB)"><rect x="858" y="71.3" width="1" height="65.1" opacity=".006"/><rect x="859" y="71.3" width="1" height="65.1" opacity=".007"/><rect x="860" y="71.3" width="1" height="65.1" opacity=".008"/><rect x="861" y="71.3" width="1" height="65.1" opacity=".01"/><rect x="862" y="71.3" width="1" height="65.1" opacity=".011"/><rect x="863" y="71.3" width="1" height="65.1" opacity=".013"/><rect x="864" y="71.3" width="1" height="65.1" opacity=".014"/><rect x="865" y="71.3" width="1" height="65.1" opacity=".015"/><rect x="866" y="71.3" width="1" height="65.1" opacity=".017"/><rect x="867" y="71.3" width="1" height="65.1" opacity=".018"/><rect x="868" y="71.3" width="1" height="65.1" opacity=".019"/><rect x="869" y="71.3" width="1" height="65.1" opacity=".021"/><rect x="870" y="71.3" width="1" height="65.1" opacity=".022"/><rect x="871" y="71.3" width="1" height="65.1" opacity=".024"/><rect x="872" y="71.3" width="1" height="65.1" opacity=".025"/><rect x="873" y="71.3" width="3" height="65.1" opacity=".026"/><rect x="876" y="71.3" width="4" height="65.1" opacity=".027"/><rect x="880" y="71.3" width="4" height="65.1" opacity=".027"/><rect x="884" y="71.3" width="1" height="65.1" opacity=".026"/><rect x="885" y="71.3" width="1" height="65.1" opacity=".026"/><rect x="886" y="71.3" width="1" height="65.1" opacity=".025"/><rect x="887" y="71.3" width="1" height="65.1" opacity=".024"/><rect x="888" y="71.3" width="1" height="65.1" opacity=".022"/><rect x="889" y="71.3" width="1" height="65.1" opacity=".021"/><rect x="890" y="71.3" width="1" height="65.1" opacity=".02"/><rect x="891" y="71.3" width="1" height="65.1" opacity=".019"/><rect x="892" y="71.3" width="1" height="65.1" opacity=".017"/><rect x="893" y="71.3" width="1" height="65.1" opacity=".016"/><rect x="894" y="71.3" width="1" height="65.1" opacity=".014"/><rect x="895" y="71.3" width="1" height="65.1" opacity=".013"/><rect x="896" y="71.3" width="4" height="65.1" opacity=".012"/><rect x="900" y="71.3" width="1" height="65.1" opacity=".014"/><rect x="901" y="71.3" width="1" height="65.1" opacity=".015"/><rect x="902" y="71.3" width="1" height="65.1" opacity=".016"/><rect x="903" y="71.3" width="1" height="65.1" opacity=".017"/><rect x="904" y="71.3" width="1" height="65.1" opacity=".019"/><rect x="905" y="71.3" width="1" height="65.1" opacity=".022"/><rect x="906" y="71.3" width="1" height="65.1" opacity=".025"/><rect x="907" y="71.3" width="1" height="65.1" opacity=".028"/><rect x="908" y="71.3" width="1" height="65.1" opacity=".032"/><rect x="909" y="71.3" width="1" height="65.1" opacity=".035"/><rect x="910" y="71.3" width="1" height="65.1" opacity=".038"/><rect x="911" y="71.3" width="1" height="65.1" opacity=".042"/><rect x="912" y="71.3" width="1" height="65.1" opacity=".046"/><rect x="913" y="71.3" width="1" height="65.1" opacity=".05"/><rect x="914" y="71.3" width="1" height="65.1" opacity=".054"/><rect x="915" y="71.3" width="1" height="65.1" opacity=".057"/><rect x="916" y="71.3" width="1" height="65.1" opacity=".06"/><rect x="917" y="71.3" width="1" height="65.1" opacity=".064"/><rect x="918" y="71.3" width="1" height="65.1" opacity=".067"/><rect x="919" y="71.3" width="1" height="65.1" opacity=".07"/><rect x="920" y="71.3" width="1" height="65.1" opacity=".073"/><rect x="921" y="71.3" width="1" height="65.1" opacity=".075"/><rect x="922" y="71.3" width="1" height="65.1" opacity=".077"/><rect x="923" y="71.1" width="4" height="65.5" opacity=".078"/><rect x="927" y="70.1" width="1" height="67.5" opacity=".077"/><rect x="928" y="69.5" width="1" height="68.6" opacity=".075"/><rect x="929" y="68.9" width="1" height="70" opacity=".074"/><rect x="930" y="68.1" width="1" height="71.5" opacity=".072"/><rect x="931" y="67.3" width="1" height="73" opacity=".069"/><rect x="932" y="66.5" width="1" height="74.7" opacity=".066"/><rect x="933" y="65.7" width="1" height="76.3" opacity=".062"/><rect x="934" y="64.8" width="1" height="78" opacity=".059"/><rect x="935" y="64" width="1" height="79.7" opacity=".055"/><rect x="936" y="63.2" width="1" height="81.3" opacity=".052"/><rect x="937" y="62.5" width="1" height="82.7" opacity=".048"/><rect x="938" y="61.8" width="1" height="84.1" opacity=".044"/><rect x="939" y="60.9" width="2" height="85.8" opacity=".043"/><rect x="941" y="60.3" width="1" height="87.1" opacity=".046"/><rect x="942" y="60" width="1" height="87.6" opacity=".05"/><rect x="943" y="59.9" width="1" height="87.8" opacity=".055"/><rect x="944" y="59.9" width="1" height="87.8" opacity=".062"/><rect x="945" y="60" width="1" height="87.7" opacity=".072"/><rect x="946" y="60.1" width="1" height="87.5" opacity=".083"/><rect x="947" y="60.3" width="1" height="87.2" opacity=".096"/><rect x="948" y="60.5" width="1" height="86.7" opacity=".11"/><rect x="949" y="60.8" width="1" height="86.2" opacity=".127"/><rect x="950" y="62.3" width="1" height="83.1" opacity=".146"/><rect x="951" y="64.4" width="1" height="78.8" opacity=".168"/><rect x="952" y="65.6" width="1" height="76.5" opacity=".196"/><rect x="953" y="66.5" width="1" height="74.8" opacity=".226"/><rect x="954" y="67.2" width="1" height="73.3" opacity=".255"/><rect x="955" y="67.8" width="1" height="72.1" opacity=".286"/><rect x="956" y="68.4" width="1" height="70.9" opacity=".317"/><rect x="957" y="69" width="1" height="69.6" opacity=".349"/><rect x="958" y="69.6" width="1" height="68.4" opacity=".383"/><rect x="959" y="70.2" width="1" height="67.2" opacity=".422"/><rect x="960" y="70.8" width="1" height="66.2" opacity=".459"/><rect x="961" y="71.2" width="1" height="65.2" opacity=".497"/><rect x="962" y="71.6" width="1" height="64.5" opacity=".536"/><rect x="963" y="71.9" width="1" height="63.9" opacity=".576"/><rect x="964" y="72" width="1" height="63.7" opacity=".615"/><rect x="965" y="72.1" width="1" height="63.5" opacity=".653"/><rect x="966" y="72.2" width="1" height="63.2" opacity=".692"/><rect x="967" y="72.3" width="1" height="63.1" opacity=".731"/><rect x="968" y="72.4" width="1" height="62.9" opacity=".771"/><rect x="969" y="72.5" width="1" height="62.7" opacity=".809"/><rect x="970" y="72.6" width="1" height="62.6" opacity=".844"/><rect x="971" y="72.6" width="1" height="62.4" opacity=".877"/><rect x="972" y="72.7" width="1" height="62.3" opacity=".905"/><rect x="973" y="72.8" width="1" height="62.2" opacity=".931"/><rect x="974" y="72.8" width="1" height="62.1" opacity=".952"/><rect x="975" y="72.8" width="1" height="62" opacity=".97"/><rect x="976" y="72.9" width="1" height="61.9" opacity=".983"/><rect x="977" y="72.9" width="1" height="61.9" opacity=".99"/><rect x="978" y="72.9" width="4" height="61.8" opacity="1"/><rect x="982" y="72.9" width="1" height="61.9" opacity=".994"/><rect x="983" y="72.9" width="1" height="61.9" opacity=".987"/><rect x="984" y="72.9" width="1" height="62" opacity=".979"/><rect x="985" y="72.8" width="1" height="62" opacity=".963"/><rect x="986" y="72.8" width="1" height="62.1" opacity=".944"/><rect x="987" y="72.7" width="1" height="62.2" opacity=".921"/><rect x="988" y="72.7" width="1" height="62.3" opacity=".894"/><rect x="989" y="72.6" width="1" height="62.5" opacity=".864"/><rect x="990" y="72.5" width="1" height="62.6" opacity=".831"/><rect x="991" y="72.5" width="1" height="62.8" opacity=".794"/><rect x="992" y="72.4" width="1" height="62.9" opacity=".755"/><rect x="993" y="72.3" width="1" height="63.1" opacity=".716"/><rect x="994" y="72.2" width="1" height="63.3" opacity=".677"/><rect x="995" y="72.1" width="1" height="63.5" opacity=".638"/><rect x="996" y="72" width="1" height="63.8" opacity=".599"/><rect x="997" y="71.8" width="1" height="64.1" opacity=".56"/><rect x="998" y="71.5" width="1" height="64.7" opacity=".521"/><rect x="999" y="71.1" width="1" height="65.6" opacity=".482"/><rect x="1000" y="70.6" width="1" height="66.6" opacity=".445"/><rect x="1001" y="70" width="1" height="67.7" opacity=".406"/><rect x="1002" y="69.4" width="1" height="68.9" opacity=".369"/><rect x="1003" y="68.8" width="1" height="70.1" opacity=".336"/><rect x="1004" y="68.2" width="1" height="71.4" opacity=".304"/><rect x="1005" y="67.6" width="1" height="72.6" opacity=".273"/><rect x="1006" y="66.9" width="1" height="73.9" opacity=".243"/><rect x="1007" y="66.2" width="1" height="75.4" opacity=".214"/><rect x="1008" y="65.2" width="1" height="77.3" opacity=".185"/><rect x="1009" y="63.6" width="1" height="80.4" opacity=".158"/><rect x="1010" y="61.5" width="1" height="84.7" opacity=".138"/><rect x="1011" y="60.6" width="1" height="86.4" opacity=".12"/><rect x="1012" y="60.4" width="1" height="86.9" opacity=".105"/><rect x="1013" y="60.2" width="1" height="87.3" opacity=".091"/><rect x="1014" y="60.1" width="1" height="87.6" opacity=".078"/><rect x="1015" y="60" width="1" height="87.8" opacity=".067"/><rect x="1016" y="59.9" width="1" height="87.9" opacity=".059"/><rect x="1017" y="60" width="1" height="87.8" opacity=".053"/><rect x="1018" y="60.1" width="1" height="87.4" opacity=".048"/><rect x="1019" y="60.4" width="1" height="86.8" opacity=".045"/><rect x="1020" y="61.1" width="2" height="85.4" opacity=".042"/><rect x="1022" y="62.1" width="1" height="83.6" opacity=".045"/><rect x="1023" y="62.8" width="1" height="82.2" opacity=".049"/><rect x="1024" y="63.5" width="1" height="80.6" opacity=".053"/><rect x="1025" y="64.3" width="1" height="79" opacity=".057"/><rect x="1026" y="65.2" width="1" height="77.4" opacity=".06"/><rect x="1027" y="66" width="1" height="75.7" opacity=".064"/><rect x="1028" y="66.8" width="1" height="74" opacity=".067"/><rect x="1029" y="67.7" width="1" height="72.4" opacity=".07"/><rect x="1030" y="68.4" width="1" height="70.9" opacity=".073"/><rect x="1031" y="69.1" width="1" height="69.4" opacity=".074"/><rect x="1032" y="69.8" width="1" height="68.2" opacity=".076"/><rect x="1033" y="70.3" width="1" height="67.1" opacity=".077"/><rect x="1034" y="71.2" width="4" height="65.3" opacity=".078"/><rect x="1038" y="71.3" width="1" height="65.1" opacity=".077"/><rect x="1039" y="71.3" width="1" height="65.1" opacity=".075"/><rect x="1040" y="71.3" width="1" height="65.1" opacity=".072"/><rect x="1041" y="71.3" width="1" height="65.1" opacity=".069"/><rect x="1042" y="71.3" width="1" height="65.1" opacity=".066"/><rect x="1043" y="71.3" width="1" height="65.1" opacity=".062"/><rect x="1044" y="71.3" width="1" height="65.1" opacity=".059"/><rect x="1045" y="71.3" width="1" height="65.1" opacity=".056"/><rect x="1046" y="71.3" width="1" height="65.1" opacity=".052"/><rect x="1047" y="71.3" width="1" height="65.1" opacity=".049"/><rect x="1048" y="71.3" width="1" height="65.1" opacity=".045"/><rect x="1049" y="71.3" width="1" height="65.1" opacity=".041"/><rect x="1050" y="71.3" width="1" height="65.1" opacity=".037"/><rect x="1051" y="71.3" width="1" height="65.1" opacity=".034"/><rect x="1052" y="71.3" width="1" height="65.1" opacity=".03"/><rect x="1053" y="71.3" width="1" height="65.1" opacity=".027"/><rect x="1054" y="71.3" width="1" height="65.1" opacity=".024"/><rect x="1055" y="71.3" width="1" height="65.1" opacity=".021"/><rect x="1056" y="71.3" width="1" height="65.1" opacity=".018"/><rect x="1057" y="71.3" width="1" height="65.1" opacity=".016"/><rect x="1058" y="71.3" width="1" height="65.1" opacity=".015"/><rect x="1059" y="71.3" width="1" height="65.1" opacity=".014"/><rect x="1060" y="71.3" width="2" height="65.1" opacity=".013"/><rect x="1062" y="71.3" width="3" height="65.1" opacity=".012"/><rect x="1065" y="71.3" width="1" height="65.1" opacity=".014"/><rect x="1066" y="71.3" width="1" height="65.1" opacity=".015"/><rect x="1067" y="71.3" width="1" height="65.1" opacity=".016"/><rect x="1068" y="71.3" width="1" height="65.1" opacity=".018"/><rect x="1069" y="71.3" width="1" height="65.1" opacity=".019"/><rect x="1070" y="71.3" width="1" height="65.1" opacity=".021"/><rect x="1071" y="71.3" width="1" height="65.1" opacity=".022"/><rect x="1072" y="71.3" width="1" height="65.1" opacity=".023"/><rect x="1073" y="71.3" width="1" height="65.1" opacity=".024"/><rect x="1074" y="71.3" width="1" height="65.1" opacity=".025"/><rect x="1075" y="71.3" width="2" height="65.1" opacity=".026"/><rect x="1077" y="71.3" width="4" height="65.1" opacity=".027"/><rect x="1081" y="71.3" width="4" height="65.1" opacity=".027"/><rect x="1085" y="71.3" width="2" height="65.1" opacity=".026"/><rect x="1087" y="71.3" width="1" height="65.1" opacity=".025"/><rect x="1088" y="71.3" width="1" height="65.1" opacity=".024"/><rect x="1089" y="71.3" width="1" height="65.1" opacity=".023"/><rect x="1090" y="71.3" width="1" height="65.1" opacity=".022"/><rect x="1091" y="71.3" width="1" height="65.1" opacity=".02"/><rect x="1092" y="71.3" width="1" height="65.1" opacity=".019"/><rect x="1093" y="71.3" width="1" height="65.1" opacity=".017"/><rect x="1094" y="71.3" width="1" height="65.1" opacity=".016"/><rect x="1095" y="71.3" width="1" height="65.1" opacity=".015"/><rect x="1096" y="71.3" width="1" height="65.1" opacity=".013"/><rect x="1097" y="71.3" width="1" height="65.1" opacity=".012"/><rect x="1098" y="71.3" width="1" height="65.1" opacity=".011"/><rect x="1099" y="71.3" width="1" height="65.1" opacity=".009"/><rect x="1100" y="71.3" width="1" height="65.1" opacity=".008"/><rect x="1101" y="71.3" width="1" height="65.1" opacity=".007"/></g></g><g fill="none" stroke-width="1.1" stroke-dasharray="4.15 1.5"><path d="M980.3 61.4 985.4 61 992.1 60 997.1 58.7 1000.2 57.4 1001.7 56.4 1002.3 55.9 1003.2 54.4 1003.5 53.6 1003.7 52.8 1003.7 51.9 1003.5 51 1002.5 48.6 1002.4 47.8 1002.4 47 1002.7 46.2 1003.3 45.5 1004.6 44.3 1005.4 43.9 1007 43.3 1019.4 40.4 1023.5 39.3 1025.2 38.7 1026.7 37.9 1027.3 37.5 1030.3 34.4 1031.7 33.4 1033.2 32.5 1034 32.3 1035.7 31.9 1037.4 31.9 1039 32.3 1040.6 32.9 1042.1 33.7 1044.2 35.3 1048.6 39.3 1051.2 41.5 1053.3 43 1055.5 44.1 1057.1 44.8 1059.6 45.5 1067.9 47.3 1072 48.3 1074.5 49.1 1076.8 50.1 1078.2 51.1 1080.2 52.7 1085.4 58.3 1087.3 60 1088.7 61 1091.6 62.7 1099.3 66.4 1101.5 67.7 1102.9 68.7 1104.1 69.9 1105.7 71.9 1107 74.1 1107.9 76.5 1108.9 79.8 1109.1 81.5 1108.9 83.2 1108.6 84 1108.1 84.7 1107.5 85.2 1106.7 85.7 1103.5 86.9 1101.2 88.1 1099.1 89.6 1097.9 90.8 1096.9 92.2 1096 94.5 1095.3 97.9 1095 101.3 1095 106.4 1095.3 109.8 1096 113.2 1096.9 115.5 1097.9 116.9 1099.8 118.7 1101.2 119.6 1102.7 120.5 1106.7 122 1107.5 122.5 1108.1 123 1108.6 123.7 1108.9 124.5 1109.1 126.2 1108.9 127.9 1107.6 132 1106.2 135.1 1105.2 136.5 1104.1 137.8 1102.9 139 1101.5 140 1097.8 142.1 1090.9 145.4 1088 147.2 1085.4 149.4 1080.2 155 1078.9 156.1 1077.5 157.1 1075.3 158.3 1072 159.4 1067.9 160.4 1059.6 162.2 1057.1 162.9 1055.5 163.6 1053.3 164.7 1051.2 166.2 1048.6 168.4 1044.2 172.4 1042.1 174 1039.9 175.1 1037.4 175.8 1035.7 175.8 1034.8 175.6 1034 175.4 1032.4 174.8 1030.3 173.3 1027.3 170.2 1025.9 169.3 1024.4 168.7 1018.5 167.1 1007.8 164.6 1005.4 163.8 1003.9 162.8 1003.3 162.2 1002.7 161.5 1002.4 160.7 1002.4 159.9 1002.5 159.1 1003.5 156.7 1003.7 155.8 1003.7 154.9 1003.2 153.3 1002.8 152.5 1001.7 151.3 999.4 149.9 997.9 149.3 995.4 148.5 990.4 147.4 984.5 146.6 982 146.3 979.5 146.3 976.9 146.5 973.5 146.9 969.3 147.6 966 148.3 963.5 149 961.2 149.9 958.9 151.3 957.8 152.5 957.4 153.3 956.9 154.9 956.9 155.8 957.1 156.7 958.1 159.1 958.2 159.9 958.2 160.7 957.9 161.5 957.3 162.2 956 163.4 955.2 163.8 953.6 164.4 941.2 167.3 937.1 168.4 935.4 169 933.9 169.8 933.3 170.2 930.3 173.3 928.9 174.3 927.4 175.2 926.6 175.4 924.9 175.8 923.2 175.8 921.6 175.4 920 174.8 918.5 174 916.4 172.4 912 168.4 909.4 166.2 907.3 164.7 905.1 163.6 903.5 162.9 901 162.2 892.7 160.4 888.6 159.4 886.1 158.6 883.8 157.6 882.4 156.6 880.4 155 875.2 149.4 872.6 147.2 869.7 145.4 863.6 142.4 860.6 140.8 858.4 139.5 857.1 138.4 855.9 137.2 854.4 135.1 853.3 132.8 852.5 130.4 851.7 127.9 851.5 126.2 851.7 124.5 852 123.7 852.5 123 853.1 122.5 853.9 122 857.1 120.8 859.4 119.6 861.5 118.1 862.7 116.9 863.7 115.5 864.6 113.2 865.2 110.6 865.5 108.1 865.6 102.2 865.3 97.9 864.6 94.5 863.7 92.2 862.7 90.8 860.8 89 859.4 88.1 857.9 87.2 853.9 85.7 853.1 85.2 852.5 84.7 852 84 851.7 83.2 851.5 82.4 851.6 80.7 852 79 853 75.7 854.4 72.6 855.4 71.2 856.5 69.9 858.4 68.2 860.6 66.9 863.6 65.3 869.7 62.3 872.6 60.5 875.2 58.3 880.4 52.7 882.4 51.1 883.8 50.1 886.1 49.1 888.6 48.3 892.7 47.3 901 45.5 903.5 44.8 905.1 44.1 907.3 43 909.4 41.5 912 39.3 916.4 35.3 918.5 33.7 920.7 32.6 923.2 31.9 924.9 31.9 925.8 32.1 926.6 32.3 928.2 32.9 930.3 34.4 933.3 37.5 934.7 38.4 936.2 39 942.1 40.6 953.6 43.3 955.2 43.9 956 44.3 957.3 45.5 957.9 46.2 958.2 47 958.2 47.8 958.1 48.6 957.1 51 956.9 51.9 956.9 52.8 957.1 53.6 957.4 54.4 958.3 55.9 958.9 56.4 960.4 57.4 963.5 58.7 968.5 60 975.2 61ZM1111 103.8 1111 94.5 1111.2 92.3 1111.5 90.8 1112.1 89.4 1112.9 88.3 1114.1 87.6 1114.8 87.4 1116.3 87.2 1118.5 87.4 1119.9 87.8 1121.3 88.4 1123.7 89.9 1125.9 91.8 1127.5 94.2 1129 97.5 1130 101 1130.4 103.8 1130 106.7 1129 110.2 1127.5 113.5 1125.9 115.9 1123.7 117.8 1121.3 119.3 1119.9 119.9 1118.5 120.3 1116.3 120.5 1114.8 120.3 1114.1 120.1 1112.9 119.4 1112.1 118.3 1111.5 116.9 1111.2 115.4 1111 113.2ZM849.6 103.8 849.6 94.5 849.4 92.3 849.1 90.8 848.5 89.4 847.7 88.3 846.5 87.6 845.8 87.4 844.3 87.2 842.1 87.4 840.7 87.8 839.3 88.4 836.9 89.9 834.7 91.8 833.1 94.2 831.6 97.5 830.6 101 830.2 103.8 830.6 106.7 831.6 110.2 833.1 113.5 834.7 115.9 836.9 117.8 839.3 119.3 840.7 119.9 842.1 120.3 844.3 120.5 845.8 120.3 846.5 120.1 847.7 119.4 848.5 118.3 849.1 116.9 849.4 115.4 849.6 113.2ZM987 74 987 73.4 986.3 72.3 985.1 71.4 984.3 71 982.4 70.4 980.3 70.2 978.2 70.4 977.2 70.7 975.5 71.4 974.8 71.8 973.9 72.9 973.6 73.4 973.6 74 973.6 74.6 973.9 75.2 974.8 76.3 975.5 76.7 977.2 77.4 978.2 77.6 980.3 77.8 982.4 77.6 983.4 77.4 985.1 76.7 986.3 75.8 987 74.6ZM987 133.7 987 133.1 986.3 131.9 985.1 131 983.4 130.3 981.4 129.9 980.3 129.9 979.2 129.9 977.2 130.3 975.5 131 974.8 131.4 973.9 132.5 973.6 133.1 973.6 133.7 973.6 134.3 973.9 134.8 974.8 135.9 975.5 136.3 977.2 137 979.2 137.4 980.3 137.5 981.4 137.4 983.4 137 985.1 136.3 986.3 135.4 987 134.3Z" stroke="#000"/><path d="M1012.6 103.8 1012.5 97.8 1012.1 94.8 1011.7 93.1 1011.2 91.7 1010.5 90.4 1009.3 88.7 1007.3 86.8 1005.4 85.6 1004 85 1001.5 84.1 999.7 83.6 995.3 82.9 991.2 82.6 987.5 82.5 971.1 82.5 967.9 82.7 964.1 83.1 961.9 83.4 959.1 84.1 956.6 85 954.5 86 952.8 87.3 951.3 88.7 950.1 90.4 949.1 92.4 948.5 94.8 948.2 96.7 948 100.7 948 107 948.1 109.9 948.3 112 948.7 113.8 949.1 115.3 950.1 117.3 950.9 118.5 952.2 120 953.9 121.3 955.9 122.4 958.2 123.3 960 123.8 963 124.5 965.3 124.8 969.4 125.1 973.1 125.2 985.1 125.2 991.2 125.1 995.3 124.8 998.7 124.3 1001.5 123.6 1004 122.7 1006.1 121.7 1008.4 120 1009.3 119 1010.2 117.9 1011.2 116 1011.9 113.8 1012.4 111 1012.6 108.6Z" stroke="#454560"/><path d="M1003.6 103.8 1003.6 101.9 1003.2 99.6 1002.9 98.3 1002.1 96.4 1001.5 95.3 1000.3 93.7 999.4 92.7 997.8 91.4 995.9 90.3 994.6 89.6 992.4 88.8 990.8 88.3 986.3 87.5 983.1 87.3 980.3 87.3 977.5 87.3 974.3 87.5 969.8 88.3 968.2 88.8 966 89.6 964.7 90.3 962.8 91.4 961.2 92.7 960.3 93.7 959.1 95.3 958.5 96.4 957.7 98.3 957.4 99.6 957 101.9 957 103.8 957 105.8 957.4 108.1 957.7 109.4 958.5 111.3 959.1 112.4 960.3 114 961.2 115 962.8 116.3 964.7 117.4 966 118.1 968.2 118.9 969.8 119.4 974.3 120.2 977.5 120.4 980.3 120.4 983.1 120.4 986.3 120.2 990.8 119.4 992.4 118.9 994.6 118.1 995.9 117.4 997.8 116.3 999.4 115 1000.3 114 1001.5 112.4 1002.1 111.3 1002.9 109.4 1003.2 108.1 1003.6 105.8Z" stroke="#fff"/></g></g>
<path d="M736.5 185.2v3.2M817.77 185.2v3.2M899.03 185.2v3.2M980.3 185.2v3.2M1061.57 185.2v3.2M1142.83 185.2v3.2M1224.1 185.2v3.2M736.5 22.5h-3.2M736.5 103.85h-3.2M736.5 185.2h-3.2" stroke="#000" stroke-opacity="0.42" stroke-width="1.0" fill="none"/>
<rect x="736.5" y="22.5" width="487.6" height="162.7" fill="none" stroke="#000" stroke-opacity="0.42" stroke-width="1.0"/>
<text x="736.85" y="207.3" font-size="21.2">−3</text>
<text x="818.12" y="207.3" font-size="21.2">−2</text>
<text x="899.38" y="207.3" font-size="21.2">−1</text>
<text x="980.65" y="207.3" font-size="21.2">0</text>
<text x="1061.92" y="207.3" font-size="21.2">1</text>
<text x="1143.18" y="207.3" font-size="21.2">2</text>
<text x="1224.45" y="207.3" font-size="21.2">3</text>
<text x="732.05" y="31.8" font-size="21.2" class="e">1</text>
<text x="732.05" y="113.15" font-size="21.2" class="e">0</text>
<text x="732.05" y="194.5" font-size="21.2" class="e">−1</text>
<text x="980.65" y="230.8" font-size="21.2">z-axis (um)</text>
<text transform="translate(693.7 105.05) rotate(-90) scale(1 1)" font-size="21.2">x-axis (um)</text>
<text transform="translate(981.1 19.2) scale(1 1.025)" font-size="25.47">Confocal PSF at 500nm, 0.8NA</text>
</g>
<g id="ax02">
<rect x="1379.3" y="22.5" width="487.6" height="162.7" fill="#fff7ec"/>
<g clip-path="url(#cp02)"><g filter="url(#cm0)"><rect x="1378.3" y="21.5" width="489.6" height="164.7" fill="#000"/><ellipse cx="1623.1" cy="103.8" rx="81.3" ry="50.4" fill="url(#halo)" opacity=".75"/><g fill="url(#gB)"><rect x="1502" y="71.3" width="1" height="65.1" opacity=".006"/><rect x="1503" y="71.3" width="1" height="65.1" opacity=".008"/><rect x="1504" y="71.3" width="1" height="65.1" opacity=".009"/><rect x="1505" y="71.3" width="1" height="65.1" opacity=".01"/><rect x="1506" y="71.3" width="1" height="65.1" opacity=".011"/><rect x="1507" y="71.3" width="1" height="65.1" opacity=".012"/><rect x="1508" y="71.3" width="1" height="65.1" opacity=".013"/><rect x="1509" y="71.3" width="1" height="65.1" opacity=".014"/><rect x="1510" y="71.3" width="1" height="65.1" opacity=".016"/><rect x="1511" y="71.3" width="1" height="65.1" opacity=".017"/><rect x="1512" y="71.3" width="1" height="65.1" opacity=".018"/><rect x="1513" y="71.3" width="1" height="65.1" opacity=".02"/><rect x="1514" y="71.3" width="1" height="65.1" opacity=".021"/><rect x="1515" y="71.3" width="3" height="65.1" opacity=".022"/><rect x="1518" y="71.3" width="4" height="65.1" opacity=".023"/><rect x="1522" y="71.3" width="4" height="65.1" opacity=".023"/><rect x="1526" y="71.3" width="2" height="65.1" opacity=".023"/><rect x="1528" y="71.3" width="1" height="65.1" opacity=".022"/><rect x="1529" y="71.3" width="1" height="65.1" opacity=".021"/><rect x="1530" y="71.3" width="1" height="65.1" opacity=".02"/><rect x="1531" y="71.3" width="1" height="65.1" opacity=".019"/><rect x="1532" y="71.3" width="1" height="65.1" opacity=".018"/><rect x="1533" y="71.3" width="1" height="65.1" opacity=".018"/><rect x="1534" y="71.3" width="1" height="65.1" opacity=".017"/><rect x="1535" y="71.3" width="1" height="65.1" opacity=".015"/><rect x="1536" y="71.3" width="1" height="65.1" opacity=".014"/><rect x="1537" y="71.3" width="1" height="65.1" opacity=".013"/><rect x="1538" y="71.3" width="4" height="65.1" opacity=".011"/><rect x="1542" y="71.3" width="1" height="65.1" opacity=".012"/><rect x="1543" y="71.3" width="1" height="65.1" opacity=".013"/><rect x="1544" y="71.3" width="1" height="65.1" opacity=".014"/><rect x="1545" y="71.3" width="1" height="65.1" opacity=".015"/><rect x="1546" y="71.3" width="1" height="65.1" opacity=".017"/><rect x="1547" y="71.3" width="1" height="65.1" opacity=".019"/><rect x="1548" y="71.3" width="1" height="65.1" opacity=".022"/><rect x="1549" y="71.3" width="1" height="65.1" opacity=".025"/><rect x="1550" y="71.3" width="1" height="65.1" opacity=".028"/><rect x="1551" y="71.3" width="1" height="65.1" opacity=".032"/><rect x="1552" y="71.3" width="1" height="65.1" opacity=".035"/><rect x="1553" y="71.3" width="1" height="65.1" opacity=".038"/><rect x="1554" y="71.3" width="1" height="65.1" opacity=".042"/><rect x="1555" y="71.3" width="1" height="65.1" opacity=".045"/><rect x="1556" y="71.3" width="1" height="65.1" opacity=".049"/><rect x="1557" y="71.3" width="1" height="65.1" opacity=".052"/><rect x="1558" y="71.3" width="1" height="65.1" opacity=".054"/><rect x="1559" y="71.3" width="1" height="65.1" opacity=".057"/><rect x="1560" y="71.3" width="1" height="65.1" opacity=".059"/><rect x="1561" y="71.3" width="1" height="65.1" opacity=".062"/><rect x="1562" y="71.3" width="1" height="65.1" opacity=".064"/><rect x="1563" y="71.3" width="1" height="65.1" opacity=".065"/><rect x="1564" y="71.3" width="4" height="65.1" opacity=".067"/><rect x="1568" y="70.9" width="1" height="65.9" opacity=".064"/><rect x="1569" y="70.5" width="1" height="66.7" opacity=".062"/><rect x="1570" y="70" width="1" height="67.7" opacity=".06"/><rect x="1571" y="69.4" width="1" height="68.9" opacity=".058"/><rect x="1572" y="68.7" width="1" height="70.3" opacity=".056"/><rect x="1573" y="68" width="1" height="71.8" opacity=".054"/><rect x="1574" y="67.2" width="1" height="73.4" opacity=".051"/><rect x="1575" y="66.3" width="1" height="75" opacity=".047"/><rect x="1576" y="65.5" width="1" height="76.7" opacity=".044"/><rect x="1577" y="64.7" width="1" height="78.4" opacity=".041"/><rect x="1578" y="63.9" width="1" height="80" opacity=".039"/><rect x="1579" y="63.1" width="1" height="81.6" opacity=".036"/><rect x="1580" y="62.3" width="1" height="83" opacity=".033"/><rect x="1581" y="61.4" width="2" height="85" opacity=".031"/><rect x="1583" y="60.6" width="1" height="86.5" opacity=".033"/><rect x="1584" y="60.2" width="1" height="87.2" opacity=".038"/><rect x="1585" y="60" width="1" height="87.7" opacity=".043"/><rect x="1586" y="59.9" width="1" height="87.9" opacity=".049"/><rect x="1587" y="59.9" width="1" height="87.8" opacity=".058"/><rect x="1588" y="60" width="1" height="87.7" opacity=".069"/><rect x="1589" y="60.1" width="1" height="87.4" opacity=".082"/><rect x="1590" y="60.3" width="1" height="87.1" opacity=".096"/><rect x="1591" y="60.5" width="1" height="86.6" opacity=".111"/><rect x="1592" y="60.9" width="1" height="85.9" opacity=".128"/><rect x="1593" y="62.7" width="1" height="82.2" opacity=".148"/><rect x="1594" y="64.8" width="1" height="78.2" opacity=".172"/><rect x="1595" y="65.8" width="1" height="76.1" opacity=".202"/><rect x="1596" y="66.6" width="1" height="74.5" opacity=".231"/><rect x="1597" y="67.3" width="1" height="73.1" opacity=".261"/><rect x="1598" y="67.9" width="1" height="71.9" opacity=".291"/><rect x="1599" y="68.5" width="1" height="70.6" opacity=".323"/><rect x="1600" y="69.2" width="1" height="69.4" opacity=".355"/><rect x="1601" y="69.8" width="1" height="68.2" opacity=".39"/><rect x="1602" y="70.3" width="1" height="67" opacity=".429"/><rect x="1603" y="70.9" width="1" height="66" opacity=".467"/><rect x="1604" y="71.3" width="1" height="65.1" opacity=".505"/><rect x="1605" y="71.7" width="1" height="64.3" opacity=".544"/><rect x="1606" y="71.9" width="1" height="63.9" opacity=".584"/><rect x="1607" y="72" width="1" height="63.6" opacity=".622"/><rect x="1608" y="72.1" width="1" height="63.4" opacity=".661"/><rect x="1609" y="72.2" width="1" height="63.2" opacity=".7"/><rect x="1610" y="72.3" width="1" height="63" opacity=".739"/><rect x="1611" y="72.4" width="1" height="62.8" opacity=".779"/><rect x="1612" y="72.5" width="1" height="62.7" opacity=".816"/><rect x="1613" y="72.6" width="1" height="62.5" opacity=".851"/><rect x="1614" y="72.7" width="1" height="62.4" opacity=".883"/><rect x="1615" y="72.7" width="1" height="62.3" opacity=".911"/><rect x="1616" y="72.8" width="1" height="62.2" opacity=".935"/><rect x="1617" y="72.8" width="1" height="62.1" opacity=".956"/><rect x="1618" y="72.9" width="1" height="62" opacity=".974"/><rect x="1619" y="72.9" width="1" height="61.9" opacity=".985"/><rect x="1620" y="72.9" width="1" height="61.9" opacity=".991"/><rect x="1621" y="72.9" width="4" height="61.8" opacity="1"/><rect x="1625" y="72.9" width="1" height="61.9" opacity=".992"/><rect x="1626" y="72.9" width="1" height="61.9" opacity=".986"/><rect x="1627" y="72.9" width="1" height="62" opacity=".977"/><rect x="1628" y="72.8" width="1" height="62" opacity=".96"/><rect x="1629" y="72.8" width="1" height="62.1" opacity=".94"/><rect x="1630" y="72.7" width="1" height="62.2" opacity=".916"/><rect x="1631" y="72.7" width="1" height="62.4" opacity=".888"/><rect x="1632" y="72.6" width="1" height="62.5" opacity=".858"/><rect x="1633" y="72.5" width="1" height="62.6" opacity=".823"/><rect x="1634" y="72.4" width="1" height="62.8" opacity=".786"/><rect x="1635" y="72.4" width="1" height="63" opacity=".747"/><rect x="1636" y="72.3" width="1" height="63.2" opacity=".708"/><rect x="1637" y="72.2" width="1" height="63.4" opacity=".669"/><rect x="1638" y="72.1" width="1" height="63.6" opacity=".63"/><rect x="1639" y="71.9" width="1" height="63.8" opacity=".591"/><rect x="1640" y="71.7" width="1" height="64.2" opacity=".552"/><rect x="1641" y="71.4" width="1" height="64.9" opacity=".513"/><rect x="1642" y="71" width="1" height="65.8" opacity=".474"/><rect x="1643" y="70.5" width="1" height="66.8" opacity=".437"/><rect x="1644" y="69.9" width="1" height="67.9" opacity=".398"/><rect x="1645" y="69.3" width="1" height="69.1" opacity=".362"/><rect x="1646" y="68.7" width="1" height="70.4" opacity=".329"/><rect x="1647" y="68" width="1" height="71.6" opacity=".298"/><rect x="1648" y="67.4" width="1" height="72.8" opacity=".267"/><rect x="1649" y="66.8" width="1" height="74.2" opacity=".237"/><rect x="1650" y="66" width="1" height="75.7" opacity=".207"/><rect x="1651" y="65" width="1" height="77.7" opacity=".178"/><rect x="1652" y="63.2" width="1" height="81.3" opacity=".152"/><rect x="1653" y="61.2" width="1" height="85.4" opacity=".132"/><rect x="1654" y="60.6" width="1" height="86.5" opacity=".114"/><rect x="1655" y="60.3" width="1" height="87" opacity=".099"/><rect x="1656" y="60.2" width="1" height="87.4" opacity=".085"/><rect x="1657" y="60" width="1" height="87.6" opacity=".072"/><rect x="1658" y="60" width="1" height="87.8" opacity=".06"/><rect x="1659" y="59.9" width="1" height="87.9" opacity=".051"/><rect x="1660" y="60" width="1" height="87.7" opacity=".044"/><rect x="1661" y="60.2" width="1" height="87.3" opacity=".039"/><rect x="1662" y="60.5" width="1" height="86.7" opacity=".034"/><rect x="1663" y="61.3" width="2" height="85.2" opacity=".031"/><rect x="1665" y="62.2" width="1" height="83.3" opacity=".032"/><rect x="1666" y="62.9" width="1" height="81.9" opacity=".035"/><rect x="1667" y="63.7" width="1" height="80.3" opacity=".038"/><rect x="1668" y="64.5" width="1" height="78.7" opacity=".041"/><rect x="1669" y="65.3" width="1" height="77" opacity=".044"/><rect x="1670" y="66.2" width="1" height="75.3" opacity=".047"/><rect x="1671" y="67" width="1" height="73.7" opacity=".05"/><rect x="1672" y="67.8" width="1" height="72.1" opacity=".053"/><rect x="1673" y="68.6" width="1" height="70.6" opacity=".056"/><rect x="1674" y="69.3" width="1" height="69.2" opacity=".058"/><rect x="1675" y="69.9" width="1" height="67.9" opacity=".06"/><rect x="1676" y="70.4" width="1" height="66.9" opacity=".062"/><rect x="1677" y="70.8" width="1" height="66" opacity=".064"/><rect x="1678" y="71.1" width="1" height="65.4" opacity=".065"/><rect x="1679" y="71.3" width="4" height="65.1" opacity=".067"/><rect x="1683" y="71.3" width="1" height="65.1" opacity=".064"/><rect x="1684" y="71.3" width="1" height="65.1" opacity=".062"/><rect x="1685" y="71.3" width="1" height="65.1" opacity=".06"/><rect x="1686" y="71.3" width="1" height="65.1" opacity=".057"/><rect x="1687" y="71.3" width="1" height="65.1" opacity=".055"/><rect x="1688" y="71.3" width="1" height="65.1" opacity=".052"/><rect x="1689" y="71.3" width="1" height="65.1" opacity=".049"/><rect x="1690" y="71.3" width="1" height="65.1" opacity=".046"/><rect x="1691" y="71.3" width="1" height="65.1" opacity=".043"/><rect x="1692" y="71.3" width="1" height="65.1" opacity=".039"/><rect x="1693" y="71.3" width="1" height="65.1" opacity=".035"/><rect x="1694" y="71.3" width="1" height="65.1" opacity=".032"/><rect x="1695" y="71.3" width="1" height="65.1" opacity=".029"/><rect x="1696" y="71.3" width="1" height="65.1" opacity=".026"/><rect x="1697" y="71.3" width="1" height="65.1" opacity=".023"/><rect x="1698" y="71.3" width="1" height="65.1" opacity=".02"/><rect x="1699" y="71.3" width="1" height="65.1" opacity=".017"/><rect x="1700" y="71.3" width="1" height="65.1" opacity=".016"/><rect x="1701" y="71.3" width="1" height="65.1" opacity=".014"/><rect x="1702" y="71.3" width="1" height="65.1" opacity=".013"/><rect x="1703" y="71.3" width="1" height="65.1" opacity=".012"/><rect x="1704" y="71.3" width="4" height="65.1" opacity=".011"/><rect x="1708" y="71.3" width="1" height="65.1" opacity=".012"/><rect x="1709" y="71.3" width="1" height="65.1" opacity=".014"/><rect x="1710" y="71.3" width="1" height="65.1" opacity=".015"/><rect x="1711" y="71.3" width="1" height="65.1" opacity=".016"/><rect x="1712" y="71.3" width="1" height="65.1" opacity=".017"/><rect x="1713" y="71.3" width="1" height="65.1" opacity=".018"/><rect x="1714" y="71.3" width="1" height="65.1" opacity=".019"/><rect x="1715" y="71.3" width="1" height="65.1" opacity=".02"/><rect x="1716" y="71.3" width="1" height="65.1" opacity=".021"/><rect x="1717" y="71.3" width="2" height="65.1" opacity=".022"/><rect x="1719" y="71.3" width="4" height="65.1" opacity=".023"/><rect x="1723" y="71.3" width="4" height="65.1" opacity=".023"/><rect x="1727" y="71.3" width="4" height="65.1" opacity=".022"/><rect x="1731" y="71.3" width="1" height="65.1" opacity=".021"/><rect x="1732" y="71.3" width="1" height="65.1" opacity=".02"/><rect x="1733" y="71.3" width="1" height="65.1" opacity=".019"/><rect x="1734" y="71.3" width="1" height="65.1" opacity=".017"/><rect x="1735" y="71.3" width="1" height="65.1" opacity=".016"/><rect x="1736" y="71.3" width="1" height="65.1" opacity=".015"/><rect x="1737" y="71.3" width="1" height="65.1" opacity=".014"/><rect x="1738" y="71.3" width="1" height="65.1" opacity=".013"/><rect x="1739" y="71.3" width="1" height="65.1" opacity=".011"/><rect x="1740" y="71.3" width="1" height="65.1" opacity=".01"/><rect x="1741" y="71.3" width="1" height="65.1" opacity=".009"/><rect x="1742" y="71.3" width="1" height="65.1" opacity=".008"/><rect x="1743" y="71.3" width="1" height="65.1" opacity=".007"/></g></g><g fill="none" stroke-width="1.1" stroke-dasharray="4.15 1.5"><path d="M1623.1 60.9 1628 60.6 1634.6 59.6 1637.8 58.9 1640.2 58.3 1641.7 57.7 1643.3 56.9 1644.6 55.7 1645 55.1 1645.2 54.3 1645.2 53.4 1645 52.6 1644.2 51.1 1641.9 48.7 1641.5 48 1641.2 47.2 1641.1 46.3 1641.3 45.6 1641.8 45 1643.3 44 1645.7 43.1 1661.7 39.6 1665 38.6 1666.5 37.8 1667.2 37.3 1667.7 36.7 1668 36 1668.2 35.1 1668.2 34.3 1668 33.4 1667.3 31.8 1667.2 31 1667.4 30.3 1667.9 29.7 1669.4 28.7 1670.3 28.4 1671.9 28.1 1673.5 28.1 1675.2 28.2 1676.8 28.6 1678.4 29.1 1681.3 30.5 1683.4 31.9 1685.4 33.5 1687.1 35.3 1688 36.6 1690.6 42.7 1692.3 45.6 1694.4 48.1 1695.7 49.2 1697 50.2 1698.6 50.9 1701 51.5 1702.6 51.7 1707.6 51.8 1710.8 52.4 1713.2 53.2 1714.7 53.9 1716.2 54.7 1717.4 55.8 1718 56.4 1718.8 57.9 1719.4 59.5 1719.6 61.1 1719.4 63.6 1718.5 68.5 1718.2 71 1718.3 73.5 1718.7 75.1 1719.4 76.6 1719.8 77.3 1721 78.5 1723 80 1727.5 82.1 1728.9 83 1730.7 84.8 1732.1 86.8 1732.8 88.3 1733.3 89.9 1734.1 93.1 1734.9 98.9 1735.2 103.9 1734.9 108.8 1734.1 114.6 1733.3 117.8 1732.8 119.4 1732.1 120.9 1730.7 122.9 1728.9 124.7 1727.5 125.6 1723 127.7 1721 129.2 1719.8 130.4 1719.4 131.1 1718.7 132.6 1718.3 134.2 1718.2 136.7 1718.5 139.2 1719.4 144.1 1719.6 146.6 1719.4 148.2 1718.8 149.8 1718 151.3 1717.4 151.9 1716.8 152.5 1715.5 153.4 1714 154.2 1711.6 155.1 1708.4 155.8 1702.6 156 1701 156.2 1698.6 156.8 1696.3 158 1695 159 1693.9 160.2 1691.8 162.8 1690.2 165.7 1688.7 169.6 1688 171.1 1687.1 172.4 1686 173.6 1682.7 176.3 1680.6 177.6 1679.1 178.3 1677.6 178.9 1676 179.3 1672.7 179.7 1671.1 179.5 1669.4 179 1667.9 178 1667.4 177.4 1667.2 176.7 1667.3 175.9 1668.2 173.4 1668.2 172.6 1668 171.7 1667.7 171 1667.2 170.4 1665.8 169.5 1663.3 168.6 1660.9 167.9 1645.7 164.6 1643.3 163.7 1641.8 162.7 1641.3 162.1 1641.1 161.4 1641.2 160.5 1641.5 159.7 1641.9 159 1643.7 157.2 1644.7 155.9 1645.2 154.3 1645.2 153.4 1645 152.6 1644.6 152 1644 151.4 1643.3 150.8 1641.7 150 1639.4 149.2 1634.6 148.1 1630.5 147.4 1626.4 146.9 1623.1 146.8 1619.8 146.9 1614.9 147.5 1610 148.4 1606 149.4 1603.7 150.4 1602.2 151.4 1601.6 152 1601.2 152.6 1601 153.4 1601 154.3 1601.2 155.1 1602 156.6 1604.3 159 1604.7 159.7 1605 160.5 1605.1 161.4 1604.9 162.1 1604.4 162.7 1602.9 163.7 1600.5 164.6 1585.3 167.9 1582.9 168.6 1580.4 169.5 1579 170.4 1578.5 171 1578.2 171.7 1578 172.6 1578 173.4 1578.9 175.9 1579 176.7 1578.8 177.4 1578.3 178 1576.8 179 1575.1 179.5 1573.5 179.7 1570.2 179.3 1568.6 178.9 1567.1 178.3 1565.6 177.6 1563.5 176.3 1560.2 173.6 1559.1 172.4 1558.2 171.1 1557.5 169.6 1556 165.7 1554.4 162.8 1552.3 160.2 1551.2 159 1549.9 158 1547.6 156.8 1545.2 156.2 1543.6 156 1537.8 155.8 1534.6 155.1 1532.2 154.2 1530.7 153.4 1529.4 152.5 1528.8 151.9 1528.2 151.3 1527.4 149.8 1526.8 148.2 1526.6 146.6 1526.8 144.1 1527.7 139.2 1528 136.7 1527.9 134.2 1527.5 132.6 1526.8 131.1 1526.4 130.4 1525.2 129.2 1523.2 127.7 1518.7 125.6 1517.3 124.7 1515.5 122.9 1514.1 120.9 1513.4 119.4 1512.9 117.8 1512.1 114.6 1511.3 108.8 1511 103.8 1511.3 98.9 1512.1 93.1 1512.9 89.9 1513.4 88.3 1514.1 86.8 1515.5 84.8 1517.3 83 1518.7 82.1 1523.2 80 1525.2 78.5 1526.4 77.3 1526.8 76.6 1527.5 75.1 1527.9 73.5 1528 71 1527.7 68.5 1526.8 63.6 1526.6 61.1 1526.8 59.5 1527.4 57.9 1528.2 56.4 1528.8 55.8 1530 54.7 1531.5 53.9 1533 53.2 1535.4 52.4 1538.6 51.8 1543.6 51.7 1545.2 51.5 1547.6 50.9 1549.2 50.2 1550.5 49.2 1551.8 48.1 1553.9 45.6 1555.6 42.7 1558.2 36.6 1559.1 35.3 1560.8 33.5 1562.8 31.9 1564.9 30.5 1567.8 29.1 1569.4 28.6 1571 28.2 1572.7 28.1 1574.3 28.1 1575.9 28.4 1576.8 28.7 1578.3 29.7 1578.8 30.3 1579 31 1578.9 31.8 1578.2 33.4 1578 34.3 1578 35.1 1578.2 36 1578.5 36.7 1579 37.3 1579.7 37.8 1581.2 38.6 1584.5 39.6 1600.5 43.1 1602.9 44 1604.4 45 1604.9 45.6 1605.1 46.3 1605 47.2 1604.7 48 1604.3 48.7 1602 51.1 1601.2 52.6 1601 53.4 1601 54.3 1601.2 55.1 1601.6 55.7 1602.9 56.9 1604.5 57.7 1606 58.3 1608.4 58.9 1611.6 59.6 1618.2 60.6ZM1700.1 103.8 1700.2 101.6 1700.7 98.5 1701.1 97 1701.6 96 1702.7 94.9 1703.8 94.3 1704.9 94.3 1705.9 94.7 1707.1 95.9 1708 97.6 1709.2 101.2 1709.6 103.5 1709.4 105.4 1708.6 108.3 1708 110.1 1707.3 111.5 1706.2 112.7 1705.6 113.2 1704.9 113.4 1704.1 113.4 1703.4 113.2 1702.7 112.8 1702.1 112.3 1701.2 111.1 1700.7 109.6 1700.2 106.5ZM1546.1 103.8 1546 101.6 1545.5 98.5 1545.1 97 1544.6 96 1543.5 94.9 1542.4 94.3 1541.3 94.3 1540.3 94.7 1539.1 95.9 1538.2 97.6 1537 101.2 1536.6 103.5 1536.8 105.4 1537.6 108.3 1538.2 110.1 1538.9 111.5 1540 112.7 1540.6 113.2 1541.3 113.4 1542.1 113.4 1542.8 113.2 1543.5 112.8 1544.1 112.3 1545 111.1 1545.5 109.6 1546 106.5ZM1756.9 103.8 1757.1 102.2 1757.4 100.5 1758.1 98.5 1758.9 96.9 1759.6 95.9 1760.6 95 1761.8 94.5 1763 94.2 1764.3 94.4 1765.5 94.9 1766.5 95.6 1767.4 96.6 1768.4 98 1770.1 101.4 1770.6 102.6 1770.8 103.8 1770.6 105.1 1770.1 106.3 1768.4 109.7 1767.4 111.1 1766.5 112.1 1765.5 112.8 1764.3 113.3 1763 113.5 1761.8 113.2 1760.6 112.7 1759.6 111.8 1758.9 110.8 1758.1 109.2 1757.4 107.2 1757.1 105.5ZM1489.3 103.8 1489.1 102.2 1488.8 100.5 1488.1 98.5 1487.3 96.9 1486.6 95.9 1485.6 95 1484.4 94.5 1483.2 94.2 1481.9 94.4 1480.7 94.9 1479.7 95.6 1478.8 96.6 1477.8 98 1476.1 101.4 1475.6 102.6 1475.4 103.8 1475.6 105.1 1476.1 106.3 1477.8 109.7 1478.8 111.1 1479.7 112.1 1480.7 112.8 1481.9 113.3 1483.2 113.5 1484.4 113.2 1485.6 112.7 1486.6 111.8 1487.3 110.8 1488.1 109.2 1488.8 107.2 1489.1 105.5ZM1628.8 75.2 1628.5 74.4 1627.7 73.6 1627.1 73.3 1625.7 72.8 1623.1 72.4 1620.5 72.8 1619.1 73.3 1618 74 1617.5 74.8 1617.4 75.2 1617.5 75.6 1618 76.5 1619.1 77.2 1620.5 77.7 1623.1 78 1625.7 77.7 1627.1 77.2 1627.7 76.8 1628.5 76.1ZM1628.8 132.5 1628.5 131.6 1628.2 131.2 1627.1 130.5 1625.7 130 1623.1 129.7 1620.5 130 1619.1 130.5 1618 131.2 1617.5 132.1 1617.4 132.5 1617.5 132.9 1618 133.7 1619.1 134.4 1621.3 135.1 1623.1 135.3 1624.9 135.1 1627.1 134.4 1628.2 133.7 1628.5 133.3Z" stroke="#000"/><path d="M1654.4 103.8 1654.3 97.8 1653.9 94.8 1653.5 93.2 1653 91.8 1652.3 90.5 1651.2 88.8 1649.2 86.9 1647.4 85.8 1646 85.1 1643.6 84.3 1641.8 83.8 1637.6 83.1 1633.6 82.8 1630.1 82.7 1614.2 82.7 1611.1 82.9 1607.4 83.2 1605.3 83.6 1602.6 84.3 1600.2 85.1 1598.2 86.1 1596.5 87.4 1595 88.8 1593.9 90.5 1593 92.5 1592.3 94.8 1592 96.7 1591.8 100.7 1591.9 109.9 1592.2 112 1592.5 113.7 1593 115.2 1593.9 117.2 1594.6 118.3 1596 119.9 1597.6 121.2 1599.5 122.3 1601.7 123.2 1603.4 123.7 1606.3 124.3 1608.6 124.6 1612.6 124.9 1616.1 125 1627.8 125.1 1633.6 124.9 1637.6 124.6 1640.9 124.1 1643.6 123.4 1646 122.6 1648 121.6 1650.2 119.9 1652 117.8 1653 115.9 1653.7 113.7 1654.2 111 1654.3 108.6Z" stroke="#454560"/><path d="M1646.6 103.8 1646.5 101.9 1646.2 99.7 1645.8 98.4 1645.1 96.7 1644.4 95.6 1643.2 94 1642.3 93.1 1640.7 91.8 1638.8 90.7 1637.5 90.1 1633.6 88.8 1629.1 88.1 1623.1 87.8 1617.1 88.1 1612.6 88.8 1608.7 90.1 1607.4 90.7 1605.5 91.8 1603.9 93.1 1603 94 1601.8 95.6 1601.1 96.7 1600.4 98.4 1600 99.7 1599.7 101.9 1599.6 103.8 1599.7 105.8 1600 108 1600.4 109.3 1601.1 111 1601.8 112.1 1603 113.7 1603.9 114.6 1605.5 115.9 1607.4 117 1608.7 117.6 1612.6 118.9 1617.1 119.6 1623.1 119.9 1629.1 119.6 1633.6 118.9 1637.5 117.6 1638.8 117 1640.7 115.9 1642.3 114.6 1643.2 113.7 1644.4 112.1 1645.1 111 1645.8 109.3 1646.2 108 1646.5 105.8Z" stroke="#fff"/></g></g>
<path d="M1379.3 185.2v3.2M1460.57 185.2v3.2M1541.83 185.2v3.2M1623.1 185.2v3.2M1704.37 185.2v3.2M1785.63 185.2v3.2M1866.9 185.2v3.2M1379.3 22.5h-3.2M1379.3 103.85h-3.2M1379.3 185.2h-3.2" stroke="#000" stroke-opacity="0.42" stroke-width="1.0" fill="none"/>
<rect x="1379.3" y="22.5" width="487.6" height="162.7" fill="none" stroke="#000" stroke-opacity="0.42" stroke-width="1.0"/>
<text x="1379" y="207.3" font-size="21.2">−3</text>
<text x="1460.27" y="207.3" font-size="21.2">−2</text>
<text x="1541.53" y="207.3" font-size="21.2">−1</text>
<text x="1622.8" y="207.3" font-size="21.2">0</text>
<text x="1704.07" y="207.3" font-size="21.2">1</text>
<text x="1785.33" y="207.3" font-size="21.2">2</text>
<text x="1866.6" y="207.3" font-size="21.2">3</text>
<text x="1374.2" y="31.8" font-size="21.2" class="e">1</text>
<text x="1374.2" y="113.15" font-size="21.2" class="e">0</text>
<text x="1374.2" y="194.5" font-size="21.2" class="e">−1</text>
<text x="1622.95" y="230.8" font-size="21.2">z-axis (um)</text>
<text transform="translate(1336.5 105.05) rotate(-90) scale(1 1)" font-size="21.2">x-axis (um)</text>
<text transform="translate(1623.45 19.2) scale(1 1.025)" font-size="25.47">Confocal PSF at 500nm, 1.0NA</text>
</g>
<g id="ax10">
<rect x="93.9" y="270" width="487.6" height="162.7" fill="#f7fcfd"/>
<g clip-path="url(#cp10)"><g filter="url(#cm1)"><rect x="92.9" y="269" width="489.6" height="164.7" fill="#000"/><g fill="url(#gG)"><rect x="93.9" y="173.8" width="1.1" height="355" opacity=".115"/><rect x="95" y="174.5" width="1" height="353.7" opacity=".116"/><rect x="96" y="175.2" width="1" height="352.4" opacity=".117"/><rect x="97" y="175.8" width="1" height="351.1" opacity=".118"/><rect x="98" y="176.4" width="1" height="349.8" opacity=".119"/><rect x="99" y="177.1" width="1" height="348.5" opacity=".12"/><rect x="100" y="177.7" width="1" height="347.2" opacity=".12"/><rect x="101" y="178.4" width="1" height="345.9" opacity=".121"/><rect x="102" y="179" width="1" height="344.7" opacity=".122"/><rect x="103" y="179.7" width="1" height="343.4" opacity=".123"/><rect x="104" y="180.3" width="1" height="342.1" opacity=".124"/><rect x="105" y="181" width="1" height="340.8" opacity=".125"/><rect x="106" y="181.6" width="1" height="339.5" opacity=".126"/><rect x="107" y="182.2" width="1" height="338.2" opacity=".127"/><rect x="108" y="182.9" width="1" height="336.9" opacity=".128"/><rect x="109" y="183.5" width="1" height="335.7" opacity=".129"/><rect x="110" y="184.2" width="1" height="334.4" opacity=".13"/><rect x="111" y="184.8" width="1" height="333.1" opacity=".131"/><rect x="112" y="185.4" width="1" height="331.8" opacity=".132"/><rect x="113" y="186.1" width="1" height="330.5" opacity=".133"/><rect x="114" y="186.7" width="1" height="329.3" opacity=".134"/><rect x="115" y="187.4" width="1" height="328" opacity=".135"/><rect x="116" y="188" width="1" height="326.7" opacity=".136"/><rect x="117" y="188.6" width="1" height="325.4" opacity=".137"/><rect x="118" y="189.3" width="1" height="324.2" opacity=".138"/><rect x="119" y="189.9" width="1" height="322.9" opacity=".139"/><rect x="120" y="190.5" width="1" height="321.6" opacity=".14"/><rect x="121" y="191.2" width="1" height="320.3" opacity=".141"/><rect x="122" y="191.8" width="1" height="319.1" opacity=".143"/><rect x="123" y="192.4" width="1" height="317.8" opacity=".144"/><rect x="124" y="193.1" width="1" height="316.5" opacity=".145"/><rect x="125" y="193.7" width="1" height="315.3" opacity=".146"/><rect x="126" y="194.4" width="1" height="314" opacity=".147"/><rect x="127" y="195" width="1" height="312.7" opacity=".148"/><rect x="128" y="195.6" width="1" height="311.5" opacity=".15"/><rect x="129" y="196.3" width="1" height="310.2" opacity=".151"/><rect x="130" y="196.9" width="1" height="308.9" opacity=".152"/><rect x="131" y="197.5" width="1" height="307.7" opacity=".153"/><rect x="132" y="198.1" width="1" height="306.4" opacity=".155"/><rect x="133" y="198.8" width="1" height="305.1" opacity=".156"/><rect x="134" y="199.4" width="1" height="303.9" opacity=".157"/><rect x="135" y="200" width="1" height="302.6" opacity=".159"/><rect x="136" y="200.7" width="1" height="301.4" opacity=".16"/><rect x="137" y="201.3" width="1" height="300.1" opacity=".161"/><rect x="138" y="201.9" width="1" height="298.8" opacity=".163"/><rect x="139" y="202.6" width="1" height="297.6" opacity=".164"/><rect x="140" y="203.2" width="1" height="296.3" opacity=".165"/><rect x="141" y="203.8" width="1" height="295.1" opacity=".167"/><rect x="142" y="204.4" width="1" height="293.8" opacity=".168"/><rect x="143" y="205.1" width="1" height="292.6" opacity=".17"/><rect x="144" y="205.7" width="1" height="291.3" opacity=".171"/><rect x="145" y="206.3" width="1" height="290.1" opacity=".173"/><rect x="146" y="206.9" width="1" height="288.8" opacity=".174"/><rect x="147" y="207.6" width="1" height="287.6" opacity=".176"/><rect x="148" y="208.2" width="1" height="286.3" opacity=".177"/><rect x="149" y="208.8" width="1" height="285.1" opacity=".179"/><rect x="150" y="209.4" width="1" height="283.8" opacity=".18"/><rect x="151" y="210" width="1" height="282.6" opacity=".182"/><rect x="152" y="210.7" width="1" height="281.4" opacity=".183"/><rect x="153" y="211.3" width="1" height="280.1" opacity=".185"/><rect x="154" y="211.9" width="1" height="278.9" opacity=".187"/><rect x="155" y="212.5" width="1" height="277.6" opacity=".188"/><rect x="156" y="213.1" width="1" height="276.4" opacity=".19"/><rect x="157" y="213.8" width="1" height="275.2" opacity=".192"/><rect x="158" y="214.4" width="1" height="273.9" opacity=".193"/><rect x="159" y="215" width="1" height="272.7" opacity=".195"/><rect x="160" y="215.6" width="1" height="271.5" opacity=".197"/><rect x="161" y="216.2" width="1" height="270.3" opacity=".199"/><rect x="162" y="216.8" width="1" height="269" opacity=".201"/><rect x="163" y="217.5" width="1" height="267.8" opacity=".202"/><rect x="164" y="218.1" width="1" height="266.6" opacity=".204"/><rect x="165" y="218.7" width="1" height="265.3" opacity=".206"/><rect x="166" y="219.3" width="1" height="264.1" opacity=".208"/><rect x="167" y="219.9" width="1" height="262.9" opacity=".21"/><rect x="168" y="220.5" width="1" height="261.7" opacity=".212"/><rect x="169" y="221.1" width="1" height="260.5" opacity=".214"/><rect x="170" y="221.7" width="1" height="259.3" opacity=".216"/><rect x="171" y="222.3" width="1" height="258" opacity=".218"/><rect x="172" y="222.9" width="1" height="256.8" opacity=".22"/><rect x="173" y="223.5" width="1" height="255.6" opacity=".222"/><rect x="174" y="224.1" width="1" height="254.4" opacity=".224"/><rect x="175" y="224.8" width="1" height="253.2" opacity=".226"/><rect x="176" y="225.4" width="1" height="252" opacity=".229"/><rect x="177" y="226" width="1" height="250.8" opacity=".231"/><rect x="178" y="226.6" width="1" height="249.6" opacity=".233"/><rect x="179" y="227.2" width="1" height="248.4" opacity=".235"/><rect x="180" y="227.8" width="1" height="247.2" opacity=".238"/><rect x="181" y="228.4" width="1" height="246" opacity=".24"/><rect x="182" y="229" width="1" height="244.8" opacity=".242"/><rect x="183" y="229.6" width="1" height="243.6" opacity=".245"/><rect x="184" y="230.2" width="1" height="242.4" opacity=".247"/><rect x="185" y="230.7" width="1" height="241.2" opacity=".25"/><rect x="186" y="231.3" width="1" height="240" opacity=".252"/><rect x="187" y="231.9" width="1" height="238.8" opacity=".255"/><rect x="188" y="232.5" width="1" height="237.6" opacity=".257"/><rect x="189" y="233.1" width="1" height="236.5" opacity=".26"/><rect x="190" y="233.7" width="1" height="235.3" opacity=".262"/><rect x="191" y="234.3" width="1" height="234.1" opacity=".265"/><rect x="192" y="234.9" width="1" height="232.9" opacity=".268"/><rect x="193" y="235.5" width="1" height="231.8" opacity=".27"/><rect x="194" y="236.1" width="1" height="230.6" opacity=".273"/><rect x="195" y="236.6" width="1" height="229.4" opacity=".276"/><rect x="196" y="237.2" width="1" height="228.2" opacity=".279"/><rect x="197" y="237.8" width="1" height="227.1" opacity=".282"/><rect x="198" y="238.4" width="1" height="225.9" opacity=".284"/><rect x="199" y="239" width="1" height="224.8" opacity=".287"/><rect x="200" y="239.5" width="1" height="223.6" opacity=".29"/><rect x="201" y="240.1" width="1" height="222.4" opacity=".293"/><rect x="202" y="240.7" width="1" height="221.3" opacity=".296"/><rect x="203" y="241.3" width="1" height="220.1" opacity=".3"/><rect x="204" y="241.9" width="1" height="219" opacity=".303"/><rect x="205" y="242.4" width="1" height="217.9" opacity=".306"/><rect x="206" y="243" width="1" height="216.7" opacity=".309"/><rect x="207" y="243.6" width="1" height="215.6" opacity=".312"/><rect x="208" y="244.1" width="1" height="214.4" opacity=".316"/><rect x="209" y="244.7" width="1" height="213.3" opacity=".319"/><rect x="210" y="245.3" width="1" height="212.2" opacity=".323"/><rect x="211" y="245.8" width="1" height="211" opacity=".326"/><rect x="212" y="246.4" width="1" height="209.9" opacity=".33"/><rect x="213" y="247" width="1" height="208.8" opacity=".333"/><rect x="214" y="247.5" width="1" height="207.7" opacity=".337"/><rect x="215" y="248.1" width="1" height="206.6" opacity=".34"/><rect x="216" y="248.6" width="1" height="205.4" opacity=".344"/><rect x="217" y="249.2" width="1" height="204.3" opacity=".348"/><rect x="218" y="249.7" width="1" height="203.2" opacity=".352"/><rect x="219" y="250.3" width="1" height="202.1" opacity=".355"/><rect x="220" y="250.8" width="1" height="201" opacity=".359"/><rect x="221" y="251.4" width="1" height="199.9" opacity=".363"/><rect x="222" y="251.9" width="1" height="198.8" opacity=".367"/><rect x="223" y="252.5" width="1" height="197.7" opacity=".371"/><rect x="224" y="253" width="1" height="196.7" opacity=".375"/><rect x="225" y="253.6" width="1" height="195.6" opacity=".38"/><rect x="226" y="254.1" width="1" height="194.5" opacity=".384"/><rect x="227" y="254.6" width="1" height="193.4" opacity=".388"/><rect x="228" y="255.2" width="1" height="192.3" opacity=".392"/><rect x="229" y="255.7" width="1" height="191.3" opacity=".397"/><rect x="230" y="256.2" width="1" height="190.2" opacity=".401"/><rect x="231" y="256.8" width="1" height="189.1" opacity=".406"/><rect x="232" y="257.3" width="1" height="188.1" opacity=".41"/><rect x="233" y="257.8" width="1" height="187" opacity=".415"/><rect x="234" y="258.4" width="1" height="186" opacity=".42"/><rect x="235" y="258.9" width="1" height="184.9" opacity=".424"/><rect x="236" y="259.4" width="1" height="183.9" opacity=".429"/><rect x="237" y="259.9" width="1" height="182.9" opacity=".434"/><rect x="238" y="260.4" width="1" height="181.8" opacity=".439"/><rect x="239" y="260.9" width="1" height="180.8" opacity=".444"/><rect x="240" y="261.5" width="1" height="179.8" opacity=".449"/><rect x="241" y="262" width="1" height="178.8" opacity=".454"/><rect x="242" y="262.5" width="1" height="177.8" opacity=".459"/><rect x="243" y="263" width="1" height="176.8" opacity=".465"/><rect x="244" y="263.5" width="1" height="175.8" opacity=".47"/><rect x="245" y="264" width="1" height="174.8" opacity=".475"/><rect x="246" y="264.5" width="1" height="173.8" opacity=".481"/><rect x="247" y="265" width="1" height="172.8" opacity=".486"/><rect x="248" y="265.4" width="1" height="171.8" opacity=".492"/><rect x="249" y="265.9" width="1" height="170.8" opacity=".498"/><rect x="250" y="266.4" width="1" height="169.9" opacity=".503"/><rect x="251" y="266.9" width="1" height="168.9" opacity=".509"/><rect x="252" y="267.4" width="1" height="167.9" opacity=".515"/><rect x="253" y="267.9" width="1" height="167" opacity=".521"/><rect x="254" y="268.3" width="1" height="166" opacity=".527"/><rect x="255" y="268.8" width="1" height="165.1" opacity=".533"/><rect x="256" y="269.3" width="1" height="164.2" opacity=".539"/><rect x="257" y="269.7" width="1" height="163.2" opacity=".545"/><rect x="258" y="270.2" width="1" height="162.3" opacity=".551"/><rect x="259" y="270.7" width="1" height="161.4" opacity=".557"/><rect x="260" y="271.1" width="1" height="160.5" opacity=".564"/><rect x="261" y="271.6" width="1" height="159.6" opacity=".57"/><rect x="262" y="272" width="1" height="158.7" opacity=".577"/><rect x="263" y="272.5" width="1" height="157.8" opacity=".583"/><rect x="264" y="272.9" width="1" height="156.9" opacity=".59"/><rect x="265" y="273.3" width="1" height="156" opacity=".596"/><rect x="266" y="273.8" width="1" height="155.2" opacity=".603"/><rect x="267" y="274.2" width="1" height="154.3" opacity=".61"/><rect x="268" y="274.6" width="1" height="153.4" opacity=".617"/><rect x="269" y="275.1" width="1" height="152.6" opacity=".624"/><rect x="270" y="275.5" width="1" height="151.8" opacity=".63"/><rect x="271" y="275.9" width="1" height="150.9" opacity=".637"/><rect x="272" y="276.3" width="1" height="150.1" opacity=".644"/><rect x="273" y="276.7" width="1" height="149.3" opacity=".651"/><rect x="274" y="277.1" width="1" height="148.5" opacity=".659"/><rect x="275" y="277.5" width="1" height="147.7" opacity=".666"/><rect x="276" y="277.9" width="1" height="146.9" opacity=".673"/><rect x="277" y="278.3" width="1" height="146.1" opacity=".68"/><rect x="278" y="278.7" width="1" height="145.3" opacity=".687"/><rect x="279" y="279.1" width="1" height="144.6" opacity=".695"/><rect x="280" y="279.4" width="1" height="143.8" opacity=".702"/><rect x="281" y="279.8" width="1" height="143.1" opacity=".709"/><rect x="282" y="280.2" width="1" height="142.3" opacity=".717"/><rect x="283" y="280.5" width="1" height="141.6" opacity=".724"/><rect x="284" y="280.9" width="1" height="140.9" opacity=".731"/><rect x="285" y="281.3" width="1" height="140.2" opacity=".739"/><rect x="286" y="281.6" width="1" height="139.5" opacity=".746"/><rect x="287" y="281.9" width="1" height="138.8" opacity=".753"/><rect x="288" y="282.3" width="1" height="138.1" opacity=".761"/><rect x="289" y="282.6" width="1" height="137.5" opacity=".768"/><rect x="290" y="282.9" width="1" height="136.8" opacity=".776"/><rect x="291" y="283.3" width="1" height="136.2" opacity=".783"/><rect x="292" y="283.6" width="1" height="135.5" opacity=".79"/><rect x="293" y="283.9" width="1" height="134.9" opacity=".798"/><rect x="294" y="284.2" width="1" height="134.3" opacity=".805"/><rect x="295" y="284.5" width="1" height="133.7" opacity=".812"/><rect x="296" y="284.8" width="1" height="133.1" opacity=".819"/><rect x="297" y="285.1" width="1" height="132.5" opacity=".827"/><rect x="298" y="285.4" width="1" height="132" opacity=".834"/><rect x="299" y="285.6" width="1" height="131.4" opacity=".841"/><rect x="300" y="285.9" width="1" height="130.9" opacity=".848"/><rect x="301" y="286.2" width="1" height="130.3" opacity=".855"/><rect x="302" y="286.4" width="1" height="129.8" opacity=".861"/><rect x="303" y="286.7" width="1" height="129.3" opacity=".868"/><rect x="304" y="286.9" width="1" height="128.8" opacity=".875"/><rect x="305" y="287.2" width="1" height="128.3" opacity=".881"/><rect x="306" y="287.4" width="1" height="127.9" opacity=".888"/><rect x="307" y="287.6" width="1" height="127.4" opacity=".894"/><rect x="308" y="287.9" width="1" height="127" opacity=".9"/><rect x="309" y="288.1" width="1" height="126.6" opacity=".906"/><rect x="310" y="288.3" width="1" height="126.1" opacity=".912"/><rect x="311" y="288.5" width="1" height="125.7" opacity=".918"/><rect x="312" y="288.7" width="1" height="125.4" opacity=".924"/><rect x="313" y="288.9" width="1" height="125" opacity=".929"/><rect x="314" y="289" width="1" height="124.6" opacity=".935"/><rect x="315" y="289.2" width="1" height="124.3" opacity=".94"/><rect x="316" y="289.4" width="1" height="124" opacity=".945"/><rect x="317" y="289.6" width="2" height="123.5" opacity=".952"/><rect x="319" y="289.9" width="2" height="122.9" opacity=".961"/><rect x="321" y="290.1" width="2" height="122.4" opacity=".969"/><rect x="323" y="290.4" width="2" height="122" opacity=".976"/><rect x="325" y="290.6" width="3" height="121.5" opacity=".984"/><rect x="328" y="290.9" width="4" height="121" opacity=".992"/><rect x="332" y="291" width="4" height="120.6" opacity=".998"/><rect x="336" y="291.1" width="2" height="120.5" opacity="1"/></g><g filter="url(#blr)" clip-path="url(#cl10)"><path d="M337.7 444.9 337.7 257.8M330.2 444.9 326.8 388 326.2 371.7 325.8 355.4 326 339.1 326.8 314.7 330.2 257.8M322.6 444.9 317.6 404.2 315.8 388 314.6 371.7 314 355.4 314.2 339.1 314.6 331 315.8 314.7 317.6 298.5 322.6 257.8M314.8 444.9 307.3 404.2 304.8 388 303.8 379.8 303 371.7 302.5 363.6 302.2 355.4 302.2 347.3 302.5 339.1 303 331 303.8 322.9 304.8 314.7 307.3 298.5 314.8 257.8M306.6 444.9 298.5 412.4 295 396.1 293.6 388 292.3 379.8 291.4 371.7 290.8 363.6 290.4 355.4 290.4 347.3 290.8 339.1 291.4 331 292.3 322.9 293.6 314.7 295 306.6 298.5 290.3 306.6 257.8M298 444.9 292.9 428.6 288 412.4 285.8 404.2 283.9 396.1 282.2 388 280.8 379.8 279.8 371.7 279.1 363.6 278.7 355.4 278.7 347.3 279.1 339.1 279.8 331 280.8 322.9 282.2 314.7 283.9 306.6 285.8 298.5 288 290.3 292.9 274.1 298 257.8M288.8 444.9 282.7 428.6 279.8 420.5 277.1 412.4 274.7 404.2 272.6 396.1 270.7 388 269.3 379.8 268.2 371.7 267.4 363.6 267 355.4 267 347.3 267.4 339.1 268.2 331 269.3 322.9 270.7 314.7 272.6 306.6 274.7 298.5 277.1 290.3 282.7 274.1 288.8 257.8M278.9 444.9 272 428.6 268.9 420.5 265.9 412.4 263.4 404.2 261.1 396.1 259.2 388 257.7 379.8 256.5 371.7 255.8 363.6 255.4 355.4 255.4 347.3 255.8 339.1 256.5 331 257.7 322.9 259.2 314.7 261.1 306.6 263.4 298.5 265.9 290.3 268.9 282.2 272 274.1 278.9 257.8M268.5 444.9 264.6 436.8 260.9 428.6 257.5 420.5 254.5 412.4 251.8 404.2 249.5 396.1 247.6 388 246.1 379.8 244.9 371.7 244.1 363.6 243.8 355.4 243.8 347.3 244.1 339.1 244.9 331 246.1 322.9 247.6 314.7 249.5 306.6 251.8 298.5 254.5 290.3 257.5 282.2 260.9 274.1 264.6 265.9 268.5 257.8M257.4 444.9 253.3 436.8 249.4 428.6 246 420.5 242.9 412.4 240.2 404.2 237.9 396.1 236 388 234.4 379.8 233.3 371.7 232.6 363.6 232.2 355.4 232.2 347.3 232.6 339.1 233.3 331 234.4 322.9 236 314.7 237.9 306.6 240.2 298.5 242.9 290.3 246 282.2 249.4 274.1 253.3 265.9 257.4 257.8M245.9 444.9 241.6 436.8 237.7 428.6 234.2 420.5 231.1 412.4 228.5 404.2 226.2 396.1 224.3 388 222.8 379.8 221.7 371.7 221 363.6 220.6 355.4 220.6 347.3 221 339.1 221.7 331 222.8 322.9 224.3 314.7 226.2 306.6 228.5 298.5 231.1 290.3 234.2 282.2 237.7 274.1 241.6 265.9 245.9 257.8M233.9 444.9 229.6 436.8 225.8 428.6 222.3 420.5 219.3 412.4 216.7 404.2 214.5 396.1 212.7 388 211.2 379.8 210.1 371.7 209.4 363.6 209.1 355.4 209.1 347.3 209.4 339.1 210.1 331 211.2 322.9 212.7 314.7 214.5 306.6 216.7 298.5 219.3 290.3 222.3 282.2 225.8 274.1 229.6 265.9 233.9 257.8M221.8 444.9 217.5 436.8 213.7 428.6 210.4 420.5 207.4 412.4 204.9 404.2 202.8 396.1 201 388 199.6 379.8 198.6 371.7 197.9 363.6 197.6 355.4 197.6 347.3 197.9 339.1 198.6 331 199.6 322.9 201 314.7 202.8 306.6 204.9 298.5 207.4 290.3 210.4 282.2 213.7 274.1 217.5 265.9 221.8 257.8M209.5 444.9 205.3 436.8 201.6 428.6 198.4 420.5 195.6 412.4 193.1 404.2 191.1 396.1 189.4 388 188 379.8 187 371.7 186.4 363.6 186 355.4 186 347.3 186.4 339.1 187 331 188 322.9 189.4 314.7 191.1 306.6 193.1 298.5 195.6 290.3 198.4 282.2 201.6 274.1 205.3 265.9 209.5 257.8M197.1 444.9 193.1 436.8 189.6 428.6 186.4 420.5 183.7 412.4 181.4 404.2 179.4 396.1 177.8 388 176.5 379.8 175.5 371.7 174.9 363.6 174.6 355.4 174.6 347.3 174.9 339.1 175.5 331 176.5 322.9 177.8 314.7 179.4 306.6 181.4 298.5 183.7 290.3 186.4 282.2 189.6 274.1 193.1 265.9 197.1 257.8M184.7 444.9 180.9 436.8 177.5 428.6 174.5 420.5 171.9 412.4 169.6 404.2 167.7 396.1 166.2 388 164.9 379.8 164 371.7 163.4 363.6 163.1 355.4 163.1 347.3 163.4 339.1 164 331 164.9 322.9 166.2 314.7 167.7 306.6 169.6 298.5 171.9 290.3 174.5 282.2 177.5 274.1 180.9 265.9 184.7 257.8M172.3 444.9 168.7 436.8 165.4 428.6 162.5 420.5 160 412.4 157.9 404.2 156.1 396.1 154.6 388 153.4 379.8 152.5 371.7 151.9 363.6 151.6 355.4 151.6 347.3 151.9 339.1 152.5 331 153.4 322.9 154.6 314.7 156.1 306.6 157.9 298.5 160 290.3 162.5 282.2 165.4 274.1 168.7 265.9 172.3 257.8M160 444.9 156.5 436.8 153.4 428.6 150.6 420.5 148.2 412.4 146.2 404.2 144.4 396.1 143 388 141.8 379.8 141 371.7 140.4 363.6 140.1 355.4 140.1 347.3 140.4 339.1 141 331 141.8 322.9 143 314.7 144.4 306.6 146.2 298.5 148.2 290.3 150.6 282.2 153.4 274.1 156.5 265.9 160 257.8M147.7 444.9 144.4 436.8 141.4 428.6 138.8 420.5 136.5 412.4 134.5 404.2 132.8 396.1 131.4 388 130.3 379.8 129.5 371.7 129 363.6 128.7 355.4 128.7 347.3 129 339.1 129.5 331 130.3 322.9 131.4 314.7 132.8 306.6 134.5 298.5 136.5 290.3 138.8 282.2 141.4 274.1 144.4 265.9 147.7 257.8M135.5 444.9 132.3 436.8 129.4 428.6 126.9 420.5 124.7 412.4 122.8 404.2 121.2 396.1 119.9 388 118.8 379.8 118 371.7 117.5 363.6 117.2 355.4 117.2 347.3 117.5 339.1 118 331 118.8 322.9 119.9 314.7 121.2 306.6 122.8 298.5 124.7 290.3 126.9 282.2 129.4 274.1 132.3 265.9 135.5 257.8M123.3 444.9 120.3 436.8 117.5 428.6 115.1 420.5 113 412.4 111.2 404.2 109.6 396.1 108.3 388 107.3 379.8 106.6 371.7 106.1 363.6 105.8 355.4 105.8 347.3 106.1 339.1 106.6 331 107.3 322.9 108.3 314.7 109.6 306.6 111.2 298.5 113 290.3 115.1 282.2 117.5 274.1 120.3 265.9 123.3 257.8M111.2 444.9 108.3 436.8 105.6 428.6 103.3 420.5 101.3 412.4 99.5 404.2 98 396.1 96.8 388 95.8 379.8 95.1 371.7 94.6 363.6 94.4 355.4 94.4 347.3 94.6 339.1 95.1 331 95.8 322.9 96.8 314.7 98 306.6 99.5 298.5 101.3 290.3 103.3 282.2 105.6 274.1 108.3 265.9 111.2 257.8M99.1 444.9 96.3 436.8 93.8 428.6 91.5 420.5 89.6 412.4 87.9 404.2 86.5 396.1 85.3 388 84.3 379.8 83.6 371.7 83.2 363.6 82.9 355.4 82.9 347.3 83.2 339.1 83.6 331 84.3 322.9 85.3 314.7 86.5 306.6 87.9 298.5 89.6 290.3 91.5 282.2 93.8 274.1 96.3 265.9 99.1 257.8M87.1 444.9 84.4 436.8 82 428.6 79.8 420.5 77.9 412.4 76.3 404.2 74.9 396.1 73.8 388 72.9 379.8 72.2 371.7 71.7 363.6 71.5 355.4 71.5 347.3 71.7 339.1 72.2 331 72.9 322.9 73.8 314.7 74.9 306.6 76.3 298.5 77.9 290.3 79.8 282.2 82 274.1 84.4 265.9 87.1 257.8" fill="none" stroke="#000" stroke-opacity=".533" stroke-width="5.89"/></g><g fill="url(#gG)"><rect x="338" y="291.1" width="4" height="120.5" opacity=".467"/><rect x="342" y="291" width="4" height="120.6" opacity=".466"/><rect x="346" y="290.9" width="4" height="120.9" opacity=".464"/><rect x="350" y="290.7" width="4" height="121.2" opacity=".462"/><rect x="354" y="290.5" width="4" height="121.7" opacity=".458"/><rect x="358" y="290.3" width="3" height="122.2" opacity=".454"/><rect x="361" y="290" width="3" height="122.7" opacity=".451"/><rect x="364" y="289.7" width="3" height="123.2" opacity=".447"/><rect x="367" y="289.5" width="2" height="123.8" opacity=".443"/><rect x="369" y="289.3" width="2" height="124.2" opacity=".44"/><rect x="371" y="289" width="2" height="124.7" opacity=".437"/><rect x="373" y="288.8" width="2" height="125.1" opacity=".433"/><rect x="375" y="288.5" width="2" height="125.7" opacity=".43"/><rect x="377" y="288.3" width="2" height="126.2" opacity=".426"/><rect x="379" y="288" width="2" height="126.8" opacity=".422"/><rect x="381" y="287.7" width="2" height="127.4" opacity=".418"/><rect x="383" y="287.4" width="2" height="128" opacity=".414"/><rect x="385" y="287.1" width="1" height="128.4" opacity=".411"/><rect x="386" y="287" width="1" height="128.8" opacity=".409"/><rect x="387" y="286.8" width="1" height="129.1" opacity=".407"/><rect x="388" y="286.6" width="1" height="129.4" opacity=".405"/><rect x="389" y="286.5" width="1" height="129.8" opacity=".403"/><rect x="390" y="286.3" width="1" height="130.1" opacity=".401"/><rect x="391" y="286.1" width="1" height="130.5" opacity=".398"/><rect x="392" y="285.9" width="1" height="130.8" opacity=".396"/><rect x="393" y="285.7" width="1" height="131.2" opacity=".394"/><rect x="394" y="285.6" width="1" height="131.6" opacity=".392"/><rect x="395" y="285.4" width="1" height="132" opacity=".39"/><rect x="396" y="285.2" width="1" height="132.3" opacity=".387"/><rect x="397" y="285" width="1" height="132.7" opacity=".385"/><rect x="398" y="284.8" width="1" height="133.1" opacity=".383"/><rect x="399" y="284.6" width="1" height="133.5" opacity=".38"/><rect x="400" y="284.4" width="1" height="133.9" opacity=".378"/><rect x="401" y="284.2" width="1" height="134.3" opacity=".376"/><rect x="402" y="284" width="1" height="134.7" opacity=".374"/><rect x="403" y="283.8" width="1" height="135.2" opacity=".371"/><rect x="404" y="283.6" width="1" height="135.6" opacity=".369"/><rect x="405" y="283.3" width="1" height="136" opacity=".367"/><rect x="406" y="283.1" width="1" height="136.5" opacity=".364"/><rect x="407" y="282.9" width="1" height="136.9" opacity=".362"/><rect x="408" y="282.7" width="1" height="137.3" opacity=".36"/><rect x="409" y="282.5" width="1" height="137.8" opacity=".357"/><rect x="410" y="282.2" width="1" height="138.2" opacity=".355"/><rect x="411" y="282" width="1" height="138.7" opacity=".353"/><rect x="412" y="281.8" width="1" height="139.2" opacity=".35"/><rect x="413" y="281.5" width="1" height="139.6" opacity=".348"/><rect x="414" y="281.3" width="1" height="140.1" opacity=".346"/><rect x="415" y="281.1" width="1" height="140.6" opacity=".343"/><rect x="416" y="280.8" width="1" height="141.1" opacity=".341"/><rect x="417" y="280.6" width="1" height="141.5" opacity=".339"/><rect x="418" y="280.3" width="1" height="142" opacity=".336"/><rect x="419" y="280.1" width="1" height="142.5" opacity=".334"/><rect x="420" y="279.8" width="1" height="143" opacity=".332"/><rect x="421" y="279.6" width="1" height="143.5" opacity=".329"/><rect x="422" y="279.3" width="1" height="144" opacity=".327"/><rect x="423" y="279.1" width="1" height="144.6" opacity=".325"/><rect x="424" y="278.8" width="1" height="145.1" opacity=".322"/><rect x="425" y="278.6" width="1" height="145.6" opacity=".32"/><rect x="426" y="278.3" width="1" height="146.1" opacity=".318"/><rect x="427" y="278" width="1" height="146.6" opacity=".315"/><rect x="428" y="277.8" width="1" height="147.2" opacity=".313"/><rect x="429" y="277.5" width="1" height="147.7" opacity=".311"/><rect x="430" y="277.2" width="1" height="148.3" opacity=".309"/><rect x="431" y="276.9" width="1" height="148.8" opacity=".306"/><rect x="432" y="276.7" width="1" height="149.3" opacity=".304"/><rect x="433" y="276.4" width="1" height="149.9" opacity=".302"/><rect x="434" y="276.1" width="1" height="150.5" opacity=".3"/><rect x="435" y="275.8" width="1" height="151" opacity=".297"/><rect x="436" y="275.6" width="1" height="151.6" opacity=".295"/><rect x="437" y="275.3" width="1" height="152.1" opacity=".293"/><rect x="438" y="275" width="1" height="152.7" opacity=".291"/><rect x="439" y="274.7" width="1" height="153.3" opacity=".289"/><rect x="440" y="274.4" width="1" height="153.9" opacity=".287"/><rect x="441" y="274.1" width="1" height="154.4" opacity=".284"/><rect x="442" y="273.8" width="1" height="155" opacity=".282"/><rect x="443" y="273.5" width="1" height="155.6" opacity=".28"/><rect x="444" y="273.2" width="1" height="156.2" opacity=".278"/><rect x="445" y="272.9" width="1" height="156.8" opacity=".276"/><rect x="446" y="272.7" width="1" height="157.4" opacity=".274"/><rect x="447" y="272.4" width="1" height="158" opacity=".272"/><rect x="448" y="272" width="1" height="158.6" opacity=".27"/><rect x="449" y="271.7" width="1" height="159.2" opacity=".268"/><rect x="450" y="271.4" width="1" height="159.8" opacity=".266"/><rect x="451" y="271.1" width="1" height="160.4" opacity=".264"/><rect x="452" y="270.8" width="1" height="161" opacity=".262"/><rect x="453" y="270.5" width="1" height="161.7" opacity=".26"/><rect x="454" y="270.2" width="1" height="162.3" opacity=".258"/><rect x="455" y="269.9" width="1" height="162.9" opacity=".256"/><rect x="456" y="269.6" width="1" height="163.5" opacity=".254"/><rect x="457" y="269.3" width="1" height="164.2" opacity=".252"/><rect x="458" y="268.9" width="1" height="164.8" opacity=".25"/><rect x="459" y="268.6" width="1" height="165.4" opacity=".248"/><rect x="460" y="268.3" width="1" height="166.1" opacity=".246"/><rect x="461" y="268" width="1" height="166.7" opacity=".244"/><rect x="462" y="267.7" width="1" height="167.4" opacity=".242"/><rect x="463" y="267.3" width="1" height="168" opacity=".24"/><rect x="464" y="267" width="1" height="168.7" opacity=".238"/><rect x="465" y="266.7" width="1" height="169.3" opacity=".237"/><rect x="466" y="266.4" width="1" height="170" opacity=".235"/><rect x="467" y="266" width="1" height="170.6" opacity=".233"/><rect x="468" y="265.7" width="1" height="171.3" opacity=".231"/><rect x="469" y="265.4" width="1" height="172" opacity=".229"/><rect x="470" y="265" width="1" height="172.6" opacity=".228"/><rect x="471" y="264.7" width="1" height="173.3" opacity=".226"/><rect x="472" y="264.4" width="1" height="174" opacity=".224"/><rect x="473" y="264" width="1" height="174.6" opacity=".222"/><rect x="474" y="263.7" width="1" height="175.3" opacity=".221"/><rect x="475" y="263.4" width="1" height="176" opacity=".219"/><rect x="476" y="263" width="1" height="176.7" opacity=".217"/><rect x="477" y="262.7" width="1" height="177.3" opacity=".216"/><rect x="478" y="262.3" width="1" height="178" opacity=".214"/><rect x="479" y="262" width="1" height="178.7" opacity=".212"/><rect x="480" y="261.6" width="1" height="179.4" opacity=".211"/><rect x="481" y="261.3" width="1" height="180.1" opacity=".209"/><rect x="482" y="261" width="1" height="180.8" opacity=".208"/><rect x="483" y="260.6" width="1" height="181.5" opacity=".206"/><rect x="484" y="260.3" width="1" height="182.2" opacity=".204"/><rect x="485" y="259.9" width="1" height="182.9" opacity=".203"/><rect x="486" y="259.6" width="1" height="183.6" opacity=".201"/><rect x="487" y="259.2" width="1" height="184.3" opacity=".2"/><rect x="488" y="258.9" width="1" height="185" opacity=".198"/><rect x="489" y="258.5" width="1" height="185.7" opacity=".197"/><rect x="490" y="258.1" width="1" height="186.4" opacity=".195"/><rect x="491" y="257.8" width="1" height="187.1" opacity=".194"/><rect x="492" y="257.4" width="1" height="187.8" opacity=".192"/><rect x="493" y="257.1" width="1" height="188.5" opacity=".191"/><rect x="494" y="256.7" width="1" height="189.3" opacity=".189"/><rect x="495" y="256.4" width="1" height="190" opacity=".188"/><rect x="496" y="256" width="1" height="190.7" opacity=".187"/><rect x="497" y="255.6" width="1" height="191.4" opacity=".185"/><rect x="498" y="255.3" width="1" height="192.1" opacity=".184"/><rect x="499" y="254.9" width="1" height="192.9" opacity=".182"/><rect x="500" y="254.6" width="1" height="193.6" opacity=".181"/><rect x="501" y="254.2" width="1" height="194.3" opacity=".18"/><rect x="502" y="253.8" width="1" height="195.1" opacity=".178"/><rect x="503" y="253.5" width="1" height="195.8" opacity=".177"/><rect x="504" y="253.1" width="1" height="196.5" opacity=".176"/><rect x="505" y="252.7" width="1" height="197.3" opacity=".174"/><rect x="506" y="252.3" width="1" height="198" opacity=".173"/><rect x="507" y="252" width="1" height="198.7" opacity=".172"/><rect x="508" y="251.6" width="1" height="199.5" opacity=".17"/><rect x="509" y="251.2" width="1" height="200.2" opacity=".169"/><rect x="510" y="250.9" width="1" height="201" opacity=".168"/><rect x="511" y="250.5" width="1" height="201.7" opacity=".167"/><rect x="512" y="250.1" width="1" height="202.5" opacity=".165"/><rect x="513" y="249.7" width="1" height="203.2" opacity=".164"/><rect x="514" y="249.4" width="1" height="204" opacity=".163"/><rect x="515" y="249" width="1" height="204.7" opacity=".162"/><rect x="516" y="248.6" width="1" height="205.5" opacity=".161"/><rect x="517" y="248.2" width="1" height="206.2" opacity=".16"/><rect x="518" y="247.9" width="1" height="207" opacity=".158"/><rect x="519" y="247.5" width="1" height="207.7" opacity=".157"/><rect x="520" y="247.1" width="1" height="208.5" opacity=".156"/><rect x="521" y="246.7" width="1" height="209.3" opacity=".155"/><rect x="522" y="246.3" width="1" height="210" opacity=".154"/><rect x="523" y="246" width="1" height="210.8" opacity=".153"/><rect x="524" y="245.6" width="1" height="211.5" opacity=".152"/><rect x="525" y="245.2" width="1" height="212.3" opacity=".15"/><rect x="526" y="244.8" width="1" height="213.1" opacity=".149"/><rect x="527" y="244.4" width="1" height="213.8" opacity=".148"/><rect x="528" y="244" width="1" height="214.6" opacity=".147"/><rect x="529" y="243.7" width="1" height="215.4" opacity=".146"/><rect x="530" y="243.3" width="1" height="216.2" opacity=".145"/><rect x="531" y="242.9" width="1" height="216.9" opacity=".144"/><rect x="532" y="242.5" width="1" height="217.7" opacity=".143"/><rect x="533" y="242.1" width="1" height="218.5" opacity=".142"/><rect x="534" y="241.7" width="1" height="219.3" opacity=".141"/><rect x="535" y="241.3" width="1" height="220" opacity=".14"/><rect x="536" y="240.9" width="1" height="220.8" opacity=".139"/><rect x="537" y="240.6" width="1" height="221.6" opacity=".138"/><rect x="538" y="240.2" width="1" height="222.4" opacity=".137"/><rect x="539" y="239.8" width="1" height="223.2" opacity=".136"/><rect x="540" y="239.4" width="1" height="223.9" opacity=".135"/><rect x="541" y="239" width="1" height="224.7" opacity=".134"/><rect x="542" y="238.6" width="1" height="225.5" opacity=".133"/><rect x="543" y="238.2" width="1" height="226.3" opacity=".132"/><rect x="544" y="237.8" width="1" height="227.1" opacity=".132"/><rect x="545" y="237.4" width="1" height="227.9" opacity=".131"/><rect x="546" y="237" width="1" height="228.7" opacity=".13"/><rect x="547" y="236.6" width="1" height="229.5" opacity=".129"/><rect x="548" y="236.2" width="1" height="230.3" opacity=".128"/><rect x="549" y="235.8" width="1" height="231" opacity=".127"/><rect x="550" y="235.4" width="1" height="231.8" opacity=".126"/><rect x="551" y="235" width="1" height="232.6" opacity=".125"/><rect x="552" y="234.6" width="1" height="233.4" opacity=".124"/><rect x="553" y="234.2" width="1" height="234.2" opacity=".124"/><rect x="554" y="233.8" width="1" height="235" opacity=".123"/><rect x="555" y="233.4" width="1" height="235.8" opacity=".122"/><rect x="556" y="233" width="1" height="236.6" opacity=".121"/><rect x="557" y="232.6" width="1" height="237.4" opacity=".12"/><rect x="558" y="232.2" width="1" height="238.2" opacity=".12"/><rect x="559" y="231.8" width="1" height="239" opacity=".119"/><rect x="560" y="231.4" width="1" height="239.8" opacity=".118"/><rect x="561" y="231" width="1" height="240.6" opacity=".117"/><rect x="562" y="230.6" width="1" height="241.5" opacity=".116"/><rect x="563" y="230.2" width="1" height="242.3" opacity=".116"/><rect x="564" y="229.8" width="1" height="243.1" opacity=".115"/><rect x="565" y="229.4" width="1" height="243.9" opacity=".114"/><rect x="566" y="228.8" width="2" height="245.1" opacity=".113"/><rect x="568" y="228" width="2" height="246.7" opacity=".111"/><rect x="570" y="227.2" width="2" height="248.3" opacity=".11"/><rect x="572" y="226.4" width="2" height="250" opacity=".109"/><rect x="574" y="225.5" width="2" height="251.6" opacity=".107"/><rect x="576" y="224.7" width="2" height="253.2" opacity=".106"/><rect x="578" y="223.9" width="2" height="254.9" opacity=".104"/><rect x="580" y="223.2" width="1.5" height="256.3" opacity=".103"/></g></g><g fill="none" stroke-width="1.1" stroke-dasharray="4.15 1.5"><path d="M102.9 432.3 102.9 424.2 103.2 421.4 104.1 421.5 104.9 422.5 108.9 429.3 111.3 432.3M113.8 432.3 114.2 429.9 114.3 422.5 114.6 420.1 115.4 420.1 116.2 421.1 119.7 426.6 121.9 429.6 123.6 430.9 124.4 430.9 125.2 429.9 125.5 428.2 125.7 420.9 126 418.7 126.8 418.6 127.6 419.5 131.7 425.6 133.3 427.6 134.1 428.3 134.9 428.7 135.8 428.6 136.4 427.4 136.6 426.6 137 419.3 137.4 417.1 138.2 417.1 139 417.9 143.9 424.7 145.5 426.1 146.3 426.4 147.1 426.1 147.9 424.2 148.3 417.7 148.8 415.5 149.6 415.4 150.4 416.3 153.6 420.7 155.3 422.6 156.9 423.9 157.7 424 158.5 423.4 159.1 421.7 159.7 415.2 160.1 413.7 160.9 413.7 161.8 414.5 165 418.8 166.6 420.5 168.3 421.5 169.1 421.5 169.9 420.6 170.3 419.3 170.9 413.6 171.5 411.8 172.3 412 173.1 412.8 177.2 417.7 178.8 418.9 179.6 419.1 180.4 418.9 181.3 417.5 182.1 411.9 182.3 411.1 182.9 409.9 183.7 410.2 184.5 411 188.6 415.5 190.2 416.5 191 416.6 191.8 416.1 192.3 415.2 192.7 413.6 193.5 409.1 194.3 408 195.1 408.3 198.3 411.8 200 413.3 201.6 414.1 202.4 414 203.2 413.1 203.9 411.1 204.8 406.6 205.6 406 206.5 406.4 210.5 410.5 212.1 411.5 213 411.6 213.8 411.2 214.4 410.3 216 404.6 216.2 404.2 217 404 217.8 404.5 221.9 408.4 223.5 409 224.3 408.9 225.1 408.2 225.7 407.1 226.8 403.4 227.6 402 228.4 402.1 229.2 402.6 231.6 405 233.3 406.1 234.1 406.5 234.9 406.5 235.7 406.2 236.5 405.1 238.1 400.5 239 399.9 239.8 400.1 243.8 403.5 245.5 404.1 246.3 403.9 247.1 403.3 247.9 401.9 248.7 399.7 249.5 398.1 250.3 397.9 251.2 398.3 254.4 401 256 401.7 256.8 401.7 257.7 401.3 258.5 400.4 260.1 396.8 260.9 395.9 261.7 396 262.5 396.5 265.8 399 267.4 399.4 268.2 399.2 269 398.6 271.5 394.4 272.3 394 273.1 394.3 276.3 396.8 278 397.3 278.8 397.2 279.6 396.8 280.4 395.9 282 393.1 282.8 392.3 283.7 392.3 287.7 395.2 288.5 395.4 289.3 395.4 290.2 395.1 291 394.5 293.4 391 294.2 390.7 295 391 298.3 393.4 299.9 393.8 300.7 393.6 301.5 393.1 304 390.1 304.8 389.5 305.6 389.6 308.9 392 310.5 392.5 311.3 392.4 312.1 392.1 315.4 388.7 316.2 388.5 317 388.9 320.2 391.4 321.9 391.6 322.7 391.3 323.5 390.8 325.9 388.3 326.7 387.9 327.5 388.1 330.8 390.7 331.6 391.1 332.4 391.2 334 390.6 336.5 388.3 337.3 387.8 341.4 387.7 357.6 388 373.9 388.7 393.3 390 411.8 391.6 449.2 395.7 538 406.6 581.1 411.6M94.3 425.3 98.4 432.3M581.1 291.1 538 296.1 449.2 307 411.8 311.1 393.3 312.7 373.9 314 357.6 314.7 341.4 315 337.3 314.9 336.5 314.4 334 312.1 332.4 311.5 331.6 311.6 330.8 312 327.5 314.6 326.7 314.8 325.9 314.4 323.5 311.9 322.7 311.4 321.9 311.1 320.2 311.3 317 313.8 316.2 314.2 315.4 314 312.1 310.6 311.3 310.3 310.5 310.2 308.9 310.7 305.6 313.1 304.8 313.2 304 312.6 301.5 309.6 300.7 309.1 299.9 308.9 298.3 309.3 295 311.7 294.2 312 293.4 311.7 291 308.2 290.2 307.6 289.3 307.3 288.5 307.3 287.7 307.5 283.7 310.4 282.8 310.4 282 309.6 280.4 306.8 279.6 305.9 278.8 305.5 278 305.4 276.3 305.9 273.1 308.4 272.3 308.7 271.5 308.3 269 304.1 268.2 303.5 267.4 303.3 265.8 303.7 262.5 306.2 261.7 306.7 260.9 306.8 260.1 305.9 258.5 302.3 257.7 301.4 256.8 301 256 301 254.4 301.7 251.2 304.4 250.3 304.8 249.5 304.6 248.7 303 247.9 300.8 247.1 299.4 246.3 298.8 245.5 298.6 243.8 299.2 239.8 302.6 239 302.8 238.1 302.2 236.5 297.6 235.7 296.5 234.9 296.2 234.1 296.2 233.3 296.6 231.6 297.7 229.2 300.1 228.4 300.6 227.6 300.7 226.8 299.3 225.7 295.6 225.1 294.5 224.3 293.8 223.5 293.7 221.9 294.3 217.8 298.2 217 298.7 216.2 298.5 216 298.1 214.4 292.4 213.8 291.5 213 291.1 212.1 291.2 210.5 292.2 206.5 296.3 205.6 296.7 204.8 296.1 203.9 291.6 203.2 289.6 202.4 288.7 201.6 288.6 200 289.4 198.3 290.9 195.1 294.4 194.3 294.7 193.5 293.6 192.7 289.1 192.3 287.5 191.8 286.6 191 286.1 190.2 286.2 188.6 287.2 184.5 291.7 183.7 292.5 182.9 292.8 182.3 291.6 182.1 290.8 181.3 285.2 180.4 283.8 179.6 283.6 178.8 283.8 177.2 285 173.1 289.9 172.3 290.7 171.5 290.9 170.9 289.1 170.3 283.4 169.9 282.1 169.1 281.2 168.3 281.2 166.6 282.2 165 283.9 161.8 288.2 160.9 289 160.1 289 159.7 287.5 159.1 281 158.5 279.3 157.7 278.7 156.9 278.8 155.3 280.1 153.6 282 150.4 286.4 149.6 287.3 148.8 287.2 148.3 285 147.9 278.5 147.1 276.6 146.3 276.3 145.5 276.6 143.9 278 139 284.8 138.2 285.6 137.4 285.6 137 283.4 136.6 276.1 136.4 275.3 135.8 274.1 134.9 274 134.1 274.4 133.3 275.1 131.7 277.1 127.6 283.2 126.8 284.1 126 284 125.7 281.8 125.5 274.5 125.2 272.8 124.4 271.8 123.6 271.8 121.9 273.1 119.7 276.1 116.2 281.6 115.4 282.6 114.6 282.6 114.3 280.2 114.2 272.8 113.8 270.4M98.4 270.4 94.3 277.4M111.3 270.4 108.9 273.4 104.9 280.2 104.1 281.2 103.2 281.3 102.9 278.5 102.9 270.4" stroke="#000"/><path d="M159.2 385.1 160.1 385.7 160.6 385.1 161 384.3 161.4 381 161.7 375.3 162.2 354.2 162.1 346.1 161.5 323.3 160.9 318.3 160.1 317 159.3 317.4 158.5 318.7 157.7 320.5 156.8 323.3 155.5 328.2 153.8 337.9 153.2 343.6 153 350.1 153.3 359.9 154 366.4 154.8 371.3 155.9 376.2 156.9 379.8 158.5 384ZM147.8 384.3 147.9 384.5 148.8 384.3 149.2 382.7 149.6 380.2 149.9 372.1 150.1 352.6 149.9 332.2 149.7 323.3 149 319.2 148.8 318.4 147.9 318.2 147.1 319.3 145.5 323.6 143.7 331.4 142.5 340.4 142 350.9 142.1 355.8 142.4 361.5 143.7 371.3 145.5 379.1 147.1 383.4ZM136.1 382.7 136.6 383.1 137.3 381.9 137.5 381 137.9 376.2 138 368 137.9 328.2 137.4 321 136.6 319.6 135.8 320.3 134.9 322 134 324.9 132.8 330.6 131.4 340.4 131 350.1 131.3 359.9 132.3 369.7 133.3 374.9 134.1 378.2 134.9 380.7 135.8 382.4ZM124.1 380.2 124.4 380.8 125.2 380.7 125.6 378.6 126 374.5 126.1 364.8 126 328.2 125.8 324.9 125.3 322.5 125.2 322 124.4 321.9 123.6 323.4 122.7 325.9 121.9 329.4 121.1 334.2 120.2 342.8 119.9 350.9 120.2 359.9 121.1 368.5 121.9 373.3 122.7 376.8 123.6 379.3ZM112.6 377.8 113 378.3 113.8 375.9 114.2 364 114.1 332.2 113.8 326.8 113 324.4 112.2 325.4 111.4 327.8 110.4 332.2 109.4 340.4 109 350.1 109.1 357.5 109.7 365.6 110.6 371.2 111.4 374.9 112.2 377.3ZM100.6 373.7 100.8 374.3 101.6 373.8 101.8 372.1 102.2 366.4 102.3 357.5 102.1 333.9 101.6 328.9 100.8 328.4 100 330.5 99 336.3 98.3 342.8 98 350.9 98.2 358.3 98.7 364 99.2 368.2 100 372.2ZM581.1 344.6 578.3 342.8 575.4 341.4 568.6 338.7 560.2 336.3 548.6 333.8 535.6 331.7 521.8 330.1 506.3 328.8 490.1 327.9 468.1 327.2 442.9 327.1 366.3 328.2 338.1 328.3 337.3 328.2 336.5 327.5 334 324.2 333.2 323.6 332.4 323.2 331.6 323.3 330.8 323.6 329.4 324.9 327.5 327.4 326.7 328.1 325.9 328.2 325.1 327.5 322.7 324 321.9 323.3 321 323 320.2 323 319.4 323.4 318.5 324.1 315.4 327.9 314.5 328.1 313.7 327.3 311.3 323.5 310.5 322.8 309.7 322.5 308.9 322.5 308 322.9 306.4 324.5 304 327.5 303.2 327.8 302.3 327.1 299.9 322.8 299.1 322.1 298.3 321.8 297.5 321.9 295.8 323 292.6 327.1 291.8 327.5 291 326.9 288.5 322.1 287.7 321.3 286.9 321 286.1 321.1 284.5 322.3 281.2 326.6 280.4 327.2 279.6 326.8 277.2 321.3 276.3 320.4 275.5 320.1 274.7 320.2 273.1 321.5 269.8 326.1 269 327 268.2 326.9 267.4 325.2 265.8 320.6 265 319.6 264.2 319.2 263.3 319.3 261.7 320.7 257.7 326.7 256.8 327.1 256 325.7 254.4 320.1 253.6 318.8 252.8 318.3 252 318.5 251.2 319 250.3 319.8 249.1 321.7 246.3 326.6 245.5 327.3 244.6 326.5 242.8 319.2 242.2 318.1 241.4 317.5 240.6 317.6 239.8 318.2 239 319.1 237.3 321.7 234.9 326.5 234.1 327.7 233.3 327.7 232.5 324.9 231.4 319.2 230.8 317.7 230 316.9 229.2 316.9 228.4 317.5 227.6 318.4 225.7 321.7 222.7 328.2 221.9 328.9 221.1 327 220.2 320.8 219.5 317.6 218.6 316.5 217.8 316.4 217 316.9 215.3 319.2 214.1 321.7 211.3 328.7 210.5 330.3 209.7 329.8 208.1 318.1 207.3 316.3 206.5 316 205.6 316.4 204.8 317.4 203.2 320.3 201.4 324.9 199.1 331.7 198.3 332.9 197.5 329.6 196.6 319.2 195.9 316.6 195.1 315.8 194.3 316.1 193.5 317 191.5 320.8 189.8 325.7 187 335.8 186.1 335.7 185.1 321.7 184.5 317.5 183.7 316 182.9 316.1 182.1 316.9 180.4 320.1 178.5 325.7 176.9 332.2 174.8 342.6 173.9 337.4 173.5 324.1 173 319.2 172.3 316.7 171.5 316.4 170.7 317 169.9 318.4 168.3 322.5 166.1 330.6 164.5 340.4 163.9 346.9 163.7 350.9 163.9 355.8 164.5 362.3 166.1 372.1 168.3 380.2 169.9 384.3 170.7 385.7 171.5 386.3 172.3 386 173 383.5 173.5 378.6 173.9 365.3 174.8 360.1 176.9 370.5 178.5 377 180.4 382.6 182.1 385.8 182.9 386.6 183.7 386.7 184.5 385.2 185.1 381 186.1 367 187 366.9 189.8 377 191.5 381.9 193.5 385.7 194.3 386.6 195.1 386.9 195.9 386.1 196.6 383.5 197.5 373.1 198.3 369.8 199.1 371 201.4 377.8 203.2 382.4 204.8 385.3 205.6 386.3 206.5 386.7 207.3 386.4 208.1 384.6 209.7 372.9 210.5 372.4 211.3 374 214.1 381 215.3 383.5 217 385.8 217.8 386.3 218.6 386.2 219.5 385.1 220.2 381.9 221.1 375.7 221.9 373.8 222.7 374.5 225.7 381 227.6 384.3 228.4 385.2 229.2 385.8 230 385.8 230.8 385 231.4 383.5 232.5 377.8 233.3 375 234.1 375 234.9 376.2 237.3 381 239 383.6 239.8 384.5 240.6 385.1 241.4 385.2 242.2 384.6 242.8 383.5 244.6 376.2 245.5 375.4 246.3 376.1 249.1 381 250.3 382.9 251.2 383.7 252 384.2 252.8 384.4 253.6 383.9 254.4 382.6 256 377 256.8 375.6 257.7 376 261.7 382 263.3 383.4 264.2 383.5 265 383.1 265.8 382.1 267.4 377.5 268.2 375.8 269 375.7 269.8 376.6 273.1 381.2 274.7 382.5 275.5 382.6 276.3 382.3 277.2 381.4 279.6 375.9 280.4 375.5 281.2 376.1 284.5 380.4 286.1 381.6 286.9 381.7 287.7 381.4 288.5 380.6 291 375.8 291.8 375.2 292.6 375.6 295.8 379.7 297.5 380.8 298.3 380.9 299.1 380.6 299.9 379.9 302.3 375.6 303.2 374.9 304 375.2 306.4 378.2 308 379.8 308.9 380.2 309.7 380.2 310.5 379.9 311.3 379.2 313.7 375.4 314.5 374.6 315.4 374.8 318.5 378.6 319.4 379.3 320.2 379.7 321 379.7 321.9 379.4 322.7 378.7 325.1 375.2 325.9 374.5 326.7 374.6 327.5 375.3 329.4 377.8 330.8 379.1 331.6 379.4 332.4 379.5 333.2 379.1 334 378.5 336.5 375.2 337.3 374.5 338.1 374.4 366.3 374.5 442.9 375.6 468.1 375.5 490.1 374.8 506.3 373.9 521.8 372.6 535.6 371 548.6 368.9 560.2 366.4 568.6 364 575.4 361.3 578.3 359.9 581.1 358.1" stroke="#454560"/><path d="M273.3 371.3 273.9 371.6 274.7 371.3 275.7 369.7 276.6 366.4 278 359.1 278.8 357.3 279.6 359.2 280.9 364 282.4 368 283.7 370.3 284.5 371.3 285.3 371.8 286.1 371.7 286.9 371 287.2 370.5 288.2 368 290.2 360.8 291 360.8 294.2 368.7 295.3 370.5 295.8 371.2 296.7 371.7 297.5 371.8 298.3 371.4 299.1 370.3 300 368 301.5 363.2 302.3 362.2 303.2 362.9 305.4 368 306.4 369.9 307.2 371 308 371.6 308.9 371.8 309.7 371.5 310.5 370.7 311.5 368.8 312.9 365 313.7 363.3 314.5 363.2 315.4 364.5 317.8 369.6 318.6 370.7 319.4 371.4 320.2 371.7 321 371.6 321.9 370.9 323.2 368.8 325.1 364.3 325.9 363.5 326.7 364.2 329 368.8 330 370.4 330.8 371.3 331.6 371.7 332.4 371.6 332.9 371.3 334 370.2 335.2 368 336.5 365.1 337.3 363.9 338.1 363.7 359.2 363.5 378.7 362.8 395 361.8 408.8 360.3 415.3 359.3 420.7 358.3 424 357.5 428.3 356.1 430.8 355 433.3 353.4 434 352.6 434.3 351.8 434.3 350.9 434 350.1 433.3 349.3 432.3 348.5 429.9 347.3 426.8 346.1 422.6 344.9 417.7 343.8 406.4 342.1 392.6 340.8 377.1 339.8 358.4 339.2 338.1 339 337.3 338.8 336.5 337.6 335.2 334.7 334 332.5 332.9 331.4 332.4 331.1 331.6 331 330.8 331.4 330 332.3 329 333.9 326.7 338.5 325.9 339.2 325.1 338.4 323.2 333.9 321.9 331.8 321 331.1 320.2 331 319.4 331.3 318.6 332 317.8 333.1 315.4 338.2 314.5 339.5 313.7 339.4 312.9 337.7 311.5 333.9 310.5 332 309.7 331.2 308.9 330.9 308 331.1 307.2 331.7 306.4 332.8 305.4 334.7 303.2 339.8 302.3 340.5 301.5 339.5 300 334.7 299.1 332.4 298.3 331.3 297.5 330.9 296.7 331 295.8 331.5 295.3 332.2 294.2 334 291 341.9 290.2 341.9 288.2 334.7 287.2 332.2 286.9 331.7 286.1 331 285.3 330.9 284.5 331.4 283.7 332.4 282.4 334.7 280.9 338.7 279.6 343.5 278.8 345.4 278 343.6 276.8 337.1 276 333.9 275.5 332.6 274.7 331.4 273.9 331.1 273.1 331.5 272.3 332.4 271.5 333.9 270.2 337.1 268.5 343.6 267.9 347.7 267.7 350.9 268 355.8 268.7 359.9 269.4 363.1 270.4 366.4 271.5 368.9 272.3 370.3ZM261.3 370.5 261.7 370.9 262.5 371 263.3 370.3 264.2 368.3 265.3 361.5 266.1 352.6 266 347.7 264.7 337.1 264.2 334.4 263.7 333 263.3 332.4 262.5 331.7 261.7 331.8 260.9 332.7 260.1 334.1 258.9 337.1 258.1 340.4 257.5 343.6 256.9 349.3 257.1 355.8 257.9 361.5 259.5 367.2 260.1 368.6ZM249.8 369.7 250.3 370.1 251.2 369.9 252 368.4 252.3 367.2 253.2 360.7 253.6 352.6 253.4 345.2 252.7 337.9 252 334.3 251.2 332.8 250.3 332.6 249.5 333.3 248.7 334.7 247.9 336.8 247.2 339.6 246.2 345.2 245.8 350.9 246.1 356.6 247 362.3 248.4 367.2 249.5 369.4ZM238 368 239 368.6 239.8 367.8 240.2 366.4 240.8 362.3 241.3 355 241.2 346.9 240.7 339.6 240.4 337.1 239.8 334.9 239 334.1 238.1 334.5 237.3 335.8 236.4 338.7 235.3 344.4 234.9 350.1 235 355.8 235.6 360.7 236.5 364.6 237.3 366.9ZM226.4 365.6 226.8 366.2 227.6 366 228.4 363.2 228.8 359.1 229 353.4 228.9 346.1 228.4 339.6 227.6 336.7 226.8 336.5 226 337.7 224.9 341.2 224.3 345.2 224 350.1 224.1 355 224.5 359.1 225.1 362.5 226 365ZM215.3 362.3 215.4 362.5 215.5 362.3 216.2 360.1 216.7 351.8 216.6 346.9 216.2 342.8 215.4 340.2 214.6 341 213.8 344 213.2 350.9 213.4 355 213.8 358.7 214.6 361.7Z" stroke="#fff"/></g></g>
<path d="M93.9 432.7v3.2M175.17 432.7v3.2M256.43 432.7v3.2M337.7 432.7v3.2M418.97 432.7v3.2M500.23 432.7v3.2M581.5 432.7v3.2M93.9 270h-3.2M93.9 351.35h-3.2M93.9 432.7h-3.2" stroke="#000" stroke-opacity="0.42" stroke-width="1.0" fill="none"/>
<rect x="93.9" y="270" width="487.6" height="162.7" fill="none" stroke="#000" stroke-opacity="0.42" stroke-width="1.0"/>
<text x="94.9" y="454" font-size="21.2">−3</text>
<text x="176.17" y="454" font-size="21.2">−2</text>
<text x="257.43" y="454" font-size="21.2">−1</text>
<text x="338.7" y="454" font-size="21.2">0</text>
<text x="419.97" y="454" font-size="21.2">1</text>
<text x="501.23" y="454" font-size="21.2">2</text>
<text x="582.5" y="454" font-size="21.2">3</text>
<text x="90.05" y="278.5" font-size="21.2" class="e">1</text>
<text x="90.05" y="359.85" font-size="21.2" class="e">0</text>
<text x="90.05" y="441.2" font-size="21.2" class="e">−1</text>
<text x="338.55" y="477.6" font-size="21.2">z-axis (um)</text>
<text transform="translate(51.1 351.35) rotate(-90) scale(1 1)" font-size="21.2">x-axis (um)</text>
<text transform="translate(338.9 266.7) scale(1 1.025)" font-size="25.47">MUVE Excitation PSF, A = 0.0</text>
</g>
<g id="ax11">
<rect x="736.5" y="270" width="487.6" height="162.7" fill="#f7fcfd"/>
<g clip-path="url(#cp11)"><g filter="url(#cm1)"><rect x="735.5" y="269" width="489.6" height="164.7" fill="#000"/><g fill="url(#gG)"><rect x="736.5" y="174" width="1.5" height="354.8" opacity=".115"/><rect x="738" y="174.8" width="1" height="353.2" opacity=".116"/><rect x="739" y="175.4" width="1" height="351.9" opacity=".117"/><rect x="740" y="176.1" width="1" height="350.6" opacity=".118"/><rect x="741" y="176.7" width="1" height="349.3" opacity=".119"/><rect x="742" y="177.4" width="1" height="348" opacity=".12"/><rect x="743" y="178" width="1" height="346.7" opacity=".121"/><rect x="744" y="178.6" width="1" height="345.4" opacity=".122"/><rect x="745" y="179.3" width="1" height="344.1" opacity=".123"/><rect x="746" y="179.9" width="1" height="342.9" opacity=".124"/><rect x="747" y="180.6" width="1" height="341.6" opacity=".124"/><rect x="748" y="181.2" width="1" height="340.3" opacity=".125"/><rect x="749" y="181.8" width="1" height="339" opacity=".126"/><rect x="750" y="182.5" width="1" height="337.7" opacity=".127"/><rect x="751" y="183.1" width="1" height="336.4" opacity=".128"/><rect x="752" y="183.8" width="1" height="335.2" opacity=".129"/><rect x="753" y="184.4" width="1" height="333.9" opacity=".13"/><rect x="754" y="185.1" width="1" height="332.6" opacity=".131"/><rect x="755" y="185.7" width="1" height="331.3" opacity=".132"/><rect x="756" y="186.3" width="1" height="330" opacity=".133"/><rect x="757" y="187" width="1" height="328.8" opacity=".134"/><rect x="758" y="187.6" width="1" height="327.5" opacity=".135"/><rect x="759" y="188.2" width="1" height="326.2" opacity=".136"/><rect x="760" y="188.9" width="1" height="324.9" opacity=".138"/><rect x="761" y="189.5" width="1" height="323.7" opacity=".139"/><rect x="762" y="190.2" width="1" height="322.4" opacity=".14"/><rect x="763" y="190.8" width="1" height="321.1" opacity=".141"/><rect x="764" y="191.4" width="1" height="319.8" opacity=".142"/><rect x="765" y="192.1" width="1" height="318.6" opacity=".143"/><rect x="766" y="192.7" width="1" height="317.3" opacity=".144"/><rect x="767" y="193.3" width="1" height="316" opacity=".145"/><rect x="768" y="194" width="1" height="314.8" opacity=".147"/><rect x="769" y="194.6" width="1" height="313.5" opacity=".148"/><rect x="770" y="195.2" width="1" height="312.2" opacity=".149"/><rect x="771" y="195.9" width="1" height="311" opacity=".15"/><rect x="772" y="196.5" width="1" height="309.7" opacity=".151"/><rect x="773" y="197.1" width="1" height="308.4" opacity=".153"/><rect x="774" y="197.8" width="1" height="307.2" opacity=".154"/><rect x="775" y="198.4" width="1" height="305.9" opacity=".155"/><rect x="776" y="199" width="1" height="304.6" opacity=".156"/><rect x="777" y="199.7" width="1" height="303.4" opacity=".158"/><rect x="778" y="200.3" width="1" height="302.1" opacity=".159"/><rect x="779" y="200.9" width="1" height="300.9" opacity=".16"/><rect x="780" y="201.5" width="1" height="299.6" opacity=".162"/><rect x="781" y="202.2" width="1" height="298.3" opacity=".163"/><rect x="782" y="202.8" width="1" height="297.1" opacity=".165"/><rect x="783" y="203.4" width="1" height="295.8" opacity=".166"/><rect x="784" y="204.1" width="1" height="294.6" opacity=".167"/><rect x="785" y="204.7" width="1" height="293.3" opacity=".169"/><rect x="786" y="205.3" width="1" height="292.1" opacity=".17"/><rect x="787" y="205.9" width="1" height="290.8" opacity=".172"/><rect x="788" y="206.6" width="1" height="289.6" opacity=".173"/><rect x="789" y="207.2" width="1" height="288.3" opacity=".175"/><rect x="790" y="207.8" width="1" height="287.1" opacity=".176"/><rect x="791" y="208.4" width="1" height="285.8" opacity=".178"/><rect x="792" y="209.1" width="1" height="284.6" opacity=".179"/><rect x="793" y="209.7" width="1" height="283.4" opacity=".181"/><rect x="794" y="210.3" width="1" height="282.1" opacity=".182"/><rect x="795" y="210.9" width="1" height="280.9" opacity=".184"/><rect x="796" y="211.5" width="1" height="279.6" opacity=".186"/><rect x="797" y="212.2" width="1" height="278.4" opacity=".187"/><rect x="798" y="212.8" width="1" height="277.2" opacity=".189"/><rect x="799" y="213.4" width="1" height="275.9" opacity=".191"/><rect x="800" y="214" width="1" height="274.7" opacity=".192"/><rect x="801" y="214.6" width="1" height="273.5" opacity=".194"/><rect x="802" y="215.2" width="1" height="272.2" opacity=".196"/><rect x="803" y="215.9" width="1" height="271" opacity=".198"/><rect x="804" y="216.5" width="1" height="269.8" opacity=".2"/><rect x="805" y="217.1" width="1" height="268.5" opacity=".201"/><rect x="806" y="217.7" width="1" height="267.3" opacity=".203"/><rect x="807" y="218.3" width="1" height="266.1" opacity=".205"/><rect x="808" y="218.9" width="1" height="264.9" opacity=".207"/><rect x="809" y="219.5" width="1" height="263.6" opacity=".209"/><rect x="810" y="220.1" width="1" height="262.4" opacity=".211"/><rect x="811" y="220.8" width="1" height="261.2" opacity=".213"/><rect x="812" y="221.4" width="1" height="260" opacity=".215"/><rect x="813" y="222" width="1" height="258.8" opacity=".217"/><rect x="814" y="222.6" width="1" height="257.6" opacity=".219"/><rect x="815" y="223.2" width="1" height="256.3" opacity=".221"/><rect x="816" y="223.8" width="1" height="255.1" opacity=".223"/><rect x="817" y="224.4" width="1" height="253.9" opacity=".225"/><rect x="818" y="225" width="1" height="252.7" opacity=".227"/><rect x="819" y="225.6" width="1" height="251.5" opacity=".23"/><rect x="820" y="226.2" width="1" height="250.3" opacity=".232"/><rect x="821" y="226.8" width="1" height="249.1" opacity=".234"/><rect x="822" y="227.4" width="1" height="247.9" opacity=".236"/><rect x="823" y="228" width="1" height="246.7" opacity=".239"/><rect x="824" y="228.6" width="1" height="245.5" opacity=".241"/><rect x="825" y="229.2" width="1" height="244.3" opacity=".243"/><rect x="826" y="229.8" width="1" height="243.1" opacity=".246"/><rect x="827" y="230.4" width="1" height="241.9" opacity=".248"/><rect x="828" y="231" width="1" height="240.7" opacity=".251"/><rect x="829" y="231.6" width="1" height="239.5" opacity=".253"/><rect x="830" y="232.2" width="1" height="238.4" opacity=".256"/><rect x="831" y="232.8" width="1" height="237.2" opacity=".258"/><rect x="832" y="233.4" width="1" height="236" opacity=".261"/><rect x="833" y="233.9" width="1" height="234.8" opacity=".263"/><rect x="834" y="234.5" width="1" height="233.6" opacity=".266"/><rect x="835" y="235.1" width="1" height="232.5" opacity=".269"/><rect x="836" y="235.7" width="1" height="231.3" opacity=".271"/><rect x="837" y="236.3" width="1" height="230.1" opacity=".274"/><rect x="838" y="236.9" width="1" height="228.9" opacity=".277"/><rect x="839" y="237.5" width="1" height="227.8" opacity=".28"/><rect x="840" y="238" width="1" height="226.6" opacity=".283"/><rect x="841" y="238.6" width="1" height="225.5" opacity=".286"/><rect x="842" y="239.2" width="1" height="224.3" opacity=".289"/><rect x="843" y="239.8" width="1" height="223.1" opacity=".292"/><rect x="844" y="240.4" width="1" height="222" opacity=".295"/><rect x="845" y="240.9" width="1" height="220.8" opacity=".298"/><rect x="846" y="241.5" width="1" height="219.7" opacity=".301"/><rect x="847" y="242.1" width="1" height="218.5" opacity=".304"/><rect x="848" y="242.7" width="1" height="217.4" opacity=".307"/><rect x="849" y="243.2" width="1" height="216.3" opacity=".31"/><rect x="850" y="243.8" width="1" height="215.1" opacity=".314"/><rect x="851" y="244.4" width="1" height="214" opacity=".317"/><rect x="852" y="244.9" width="1" height="212.8" opacity=".32"/><rect x="853" y="245.5" width="1" height="211.7" opacity=".324"/><rect x="854" y="246.1" width="1" height="210.6" opacity=".327"/><rect x="855" y="246.6" width="1" height="209.5" opacity=".331"/><rect x="856" y="247.2" width="1" height="208.3" opacity=".334"/><rect x="857" y="247.7" width="1" height="207.2" opacity=".338"/><rect x="858" y="248.3" width="1" height="206.1" opacity=".342"/><rect x="859" y="248.9" width="1" height="205" opacity=".346"/><rect x="860" y="249.4" width="1" height="203.9" opacity=".349"/><rect x="861" y="250" width="1" height="202.8" opacity=".353"/><rect x="862" y="250.5" width="1" height="201.7" opacity=".357"/><rect x="863" y="251.1" width="1" height="200.6" opacity=".361"/><rect x="864" y="251.6" width="1" height="199.5" opacity=".365"/><rect x="865" y="252.2" width="1" height="198.4" opacity=".369"/><rect x="866" y="252.7" width="1" height="197.3" opacity=".373"/><rect x="867" y="253.2" width="1" height="196.2" opacity=".377"/><rect x="868" y="253.8" width="1" height="195.1" opacity=".381"/><rect x="869" y="254.3" width="1" height="194.1" opacity=".386"/><rect x="870" y="254.9" width="1" height="193" opacity=".39"/><rect x="871" y="255.4" width="1" height="191.9" opacity=".394"/><rect x="872" y="255.9" width="1" height="190.8" opacity=".399"/><rect x="873" y="256.5" width="1" height="189.8" opacity=".403"/><rect x="874" y="257" width="1" height="188.7" opacity=".408"/><rect x="875" y="257.5" width="1" height="187.7" opacity=".412"/><rect x="876" y="258" width="1" height="186.6" opacity=".417"/><rect x="877" y="258.6" width="1" height="185.6" opacity=".422"/><rect x="878" y="259.1" width="1" height="184.5" opacity=".426"/><rect x="879" y="259.6" width="1" height="183.5" opacity=".431"/><rect x="880" y="260.1" width="1" height="182.5" opacity=".436"/><rect x="881" y="260.6" width="1" height="181.4" opacity=".441"/><rect x="882" y="261.1" width="1" height="180.4" opacity=".446"/><rect x="883" y="261.7" width="1" height="179.4" opacity=".451"/><rect x="884" y="262.2" width="1" height="178.4" opacity=".456"/><rect x="885" y="262.7" width="1" height="177.4" opacity=".462"/><rect x="886" y="263.2" width="1" height="176.4" opacity=".467"/><rect x="887" y="263.7" width="1" height="175.4" opacity=".472"/><rect x="888" y="264.2" width="1" height="174.4" opacity=".478"/><rect x="889" y="264.7" width="1" height="173.4" opacity=".483"/><rect x="890" y="265.2" width="1" height="172.4" opacity=".489"/><rect x="891" y="265.6" width="1" height="171.4" opacity=".494"/><rect x="892" y="266.1" width="1" height="170.4" opacity=".5"/><rect x="893" y="266.6" width="1" height="169.5" opacity=".506"/><rect x="894" y="267.1" width="1" height="168.5" opacity=".511"/><rect x="895" y="267.6" width="1" height="167.6" opacity=".517"/><rect x="896" y="268.1" width="1" height="166.6" opacity=".523"/><rect x="897" y="268.5" width="1" height="165.7" opacity=".529"/><rect x="898" y="269" width="1" height="164.7" opacity=".535"/><rect x="899" y="269.5" width="1" height="163.8" opacity=".541"/><rect x="900" y="269.9" width="1" height="162.9" opacity=".547"/><rect x="901" y="270.4" width="1" height="161.9" opacity=".554"/><rect x="902" y="270.8" width="1" height="161" opacity=".56"/><rect x="903" y="271.3" width="1" height="160.1" opacity=".566"/><rect x="904" y="271.7" width="1" height="159.2" opacity=".573"/><rect x="905" y="272.2" width="1" height="158.3" opacity=".579"/><rect x="906" y="272.6" width="1" height="157.4" opacity=".586"/><rect x="907" y="273.1" width="1" height="156.6" opacity=".592"/><rect x="908" y="273.5" width="1" height="155.7" opacity=".599"/><rect x="909" y="273.9" width="1" height="154.8" opacity=".606"/><rect x="910" y="274.4" width="1" height="154" opacity=".613"/><rect x="911" y="274.8" width="1" height="153.1" opacity=".619"/><rect x="912" y="275.2" width="1" height="152.3" opacity=".626"/><rect x="913" y="275.6" width="1" height="151.4" opacity=".633"/><rect x="914" y="276.1" width="1" height="150.6" opacity=".64"/><rect x="915" y="276.5" width="1" height="149.8" opacity=".647"/><rect x="916" y="276.9" width="1" height="149" opacity=".654"/><rect x="917" y="277.3" width="1" height="148.2" opacity=".661"/><rect x="918" y="277.7" width="1" height="147.4" opacity=".669"/><rect x="919" y="278.1" width="1" height="146.6" opacity=".676"/><rect x="920" y="278.4" width="1" height="145.8" opacity=".683"/><rect x="921" y="278.8" width="1" height="145" opacity=".69"/><rect x="922" y="279.2" width="1" height="144.3" opacity=".697"/><rect x="923" y="279.6" width="1" height="143.5" opacity=".705"/><rect x="924" y="280" width="1" height="142.8" opacity=".712"/><rect x="925" y="280.3" width="1" height="142.1" opacity=".72"/><rect x="926" y="280.7" width="1" height="141.3" opacity=".727"/><rect x="927" y="281" width="1" height="140.6" opacity=".734"/><rect x="928" y="281.4" width="1" height="139.9" opacity=".742"/><rect x="929" y="281.7" width="1" height="139.2" opacity=".749"/><rect x="930" y="282.1" width="1" height="138.5" opacity=".756"/><rect x="931" y="282.4" width="1" height="137.9" opacity=".764"/><rect x="932" y="282.7" width="1" height="137.2" opacity=".771"/><rect x="933" y="283.1" width="1" height="136.6" opacity=".779"/><rect x="934" y="283.4" width="1" height="135.9" opacity=".786"/><rect x="935" y="283.7" width="1" height="135.3" opacity=".793"/><rect x="936" y="284" width="1" height="134.7" opacity=".801"/><rect x="937" y="284.3" width="1" height="134.1" opacity=".808"/><rect x="938" y="284.6" width="1" height="133.5" opacity=".815"/><rect x="939" y="284.9" width="1" height="132.9" opacity=".822"/><rect x="940" y="285.2" width="1" height="132.3" opacity=".829"/><rect x="941" y="285.5" width="1" height="131.7" opacity=".837"/><rect x="942" y="285.8" width="1" height="131.2" opacity=".844"/><rect x="943" y="286" width="1" height="130.7" opacity=".85"/><rect x="944" y="286.3" width="1" height="130.1" opacity=".857"/><rect x="945" y="286.5" width="1" height="129.6" opacity=".864"/><rect x="946" y="286.8" width="1" height="129.1" opacity=".871"/><rect x="947" y="287" width="1" height="128.6" opacity=".877"/><rect x="948" y="287.3" width="1" height="128.2" opacity=".884"/><rect x="949" y="287.5" width="1" height="127.7" opacity=".89"/><rect x="950" y="287.7" width="1" height="127.3" opacity=".897"/><rect x="951" y="287.9" width="1" height="126.8" opacity=".903"/><rect x="952" y="288.2" width="1" height="126.4" opacity=".909"/><rect x="953" y="288.4" width="1" height="126" opacity=".915"/><rect x="954" y="288.6" width="1" height="125.6" opacity=".92"/><rect x="955" y="288.7" width="1" height="125.2" opacity=".926"/><rect x="956" y="288.9" width="1" height="124.8" opacity=".932"/><rect x="957" y="289.1" width="1" height="124.5" opacity=".937"/><rect x="958" y="289.3" width="1" height="124.2" opacity=".942"/><rect x="959" y="289.5" width="2" height="123.7" opacity=".949"/><rect x="961" y="289.8" width="2" height="123.1" opacity=".958"/><rect x="963" y="290.1" width="2" height="122.6" opacity=".967"/><rect x="965" y="290.3" width="2" height="122.1" opacity=".974"/><rect x="967" y="290.6" width="3" height="121.6" opacity=".982"/><rect x="970" y="290.8" width="4" height="121" opacity=".991"/><rect x="974" y="291" width="4" height="120.6" opacity=".998"/><rect x="978" y="291.1" width="2" height="120.5" opacity="1"/></g><g filter="url(#blr)" clip-path="url(#cl11)"><path d="M980.3 444.9 980.3 257.8M972.8 444.9 969.4 388 968.8 371.7 968.4 355.4 968.6 339.1 969.4 314.7 972.8 257.8M965.2 444.9 960.2 404.2 958.4 388 957.2 371.7 956.6 355.4 956.8 339.1 957.2 331 958.4 314.7 960.2 298.5 965.2 257.8M957.4 444.9 949.9 404.2 947.4 388 946.4 379.8 945.6 371.7 945.1 363.6 944.8 355.4 944.8 347.3 945.1 339.1 945.6 331 946.4 322.9 947.4 314.7 949.9 298.5 957.4 257.8M949.2 444.9 941.1 412.4 937.6 396.1 936.2 388 934.9 379.8 934 371.7 933.4 363.6 933 355.4 933 347.3 933.4 339.1 934 331 934.9 322.9 936.2 314.7 937.6 306.6 941.1 290.3 949.2 257.8M940.6 444.9 935.5 428.6 930.6 412.4 928.4 404.2 926.5 396.1 924.8 388 923.4 379.8 922.4 371.7 921.7 363.6 921.3 355.4 921.3 347.3 921.7 339.1 922.4 331 923.4 322.9 924.8 314.7 926.5 306.6 928.4 298.5 930.6 290.3 935.5 274.1 940.6 257.8M931.4 444.9 925.3 428.6 922.4 420.5 919.7 412.4 917.3 404.2 915.2 396.1 913.3 388 911.9 379.8 910.8 371.7 910 363.6 909.6 355.4 909.6 347.3 910 339.1 910.8 331 911.9 322.9 913.3 314.7 915.2 306.6 917.3 298.5 919.7 290.3 925.3 274.1 931.4 257.8M921.5 444.9 914.6 428.6 911.5 420.5 908.5 412.4 906 404.2 903.7 396.1 901.8 388 900.3 379.8 899.1 371.7 898.4 363.6 898 355.4 898 347.3 898.4 339.1 899.1 331 900.3 322.9 901.8 314.7 903.7 306.6 906 298.5 908.5 290.3 911.5 282.2 914.6 274.1 921.5 257.8M911.1 444.9 907.2 436.8 903.5 428.6 900.1 420.5 897.1 412.4 894.4 404.2 892.1 396.1 890.2 388 888.7 379.8 887.5 371.7 886.7 363.6 886.4 355.4 886.4 347.3 886.7 339.1 887.5 331 888.7 322.9 890.2 314.7 892.1 306.6 894.4 298.5 897.1 290.3 900.1 282.2 903.5 274.1 907.2 265.9 911.1 257.8M900 444.9 895.9 436.8 892 428.6 888.6 420.5 885.5 412.4 882.8 404.2 880.5 396.1 878.6 388 877 379.8 875.9 371.7 875.2 363.6 874.8 355.4 874.8 347.3 875.2 339.1 875.9 331 877 322.9 878.6 314.7 880.5 306.6 882.8 298.5 885.5 290.3 888.6 282.2 892 274.1 895.9 265.9 900 257.8M888.5 444.9 884.2 436.8 880.3 428.6 876.8 420.5 873.7 412.4 871.1 404.2 868.8 396.1 866.9 388 865.4 379.8 864.3 371.7 863.6 363.6 863.2 355.4 863.2 347.3 863.6 339.1 864.3 331 865.4 322.9 866.9 314.7 868.8 306.6 871.1 298.5 873.7 290.3 876.8 282.2 880.3 274.1 884.2 265.9 888.5 257.8M876.5 444.9 872.2 436.8 868.4 428.6 864.9 420.5 861.9 412.4 859.3 404.2 857.1 396.1 855.3 388 853.8 379.8 852.7 371.7 852 363.6 851.7 355.4 851.7 347.3 852 339.1 852.7 331 853.8 322.9 855.3 314.7 857.1 306.6 859.3 298.5 861.9 290.3 864.9 282.2 868.4 274.1 872.2 265.9 876.5 257.8M864.4 444.9 860.1 436.8 856.3 428.6 853 420.5 850 412.4 847.5 404.2 845.4 396.1 843.6 388 842.2 379.8 841.2 371.7 840.5 363.6 840.2 355.4 840.2 347.3 840.5 339.1 841.2 331 842.2 322.9 843.6 314.7 845.4 306.6 847.5 298.5 850 290.3 853 282.2 856.3 274.1 860.1 265.9 864.4 257.8M852.1 444.9 847.9 436.8 844.2 428.6 841 420.5 838.2 412.4 835.7 404.2 833.7 396.1 832 388 830.6 379.8 829.6 371.7 829 363.6 828.6 355.4 828.6 347.3 829 339.1 829.6 331 830.6 322.9 832 314.7 833.7 306.6 835.7 298.5 838.2 290.3 841 282.2 844.2 274.1 847.9 265.9 852.1 257.8M839.7 444.9 835.7 436.8 832.2 428.6 829 420.5 826.3 412.4 824 404.2 822 396.1 820.4 388 819.1 379.8 818.1 371.7 817.5 363.6 817.2 355.4 817.2 347.3 817.5 339.1 818.1 331 819.1 322.9 820.4 314.7 822 306.6 824 298.5 826.3 290.3 829 282.2 832.2 274.1 835.7 265.9 839.7 257.8M827.3 444.9 823.5 436.8 820.1 428.6 817.1 420.5 814.5 412.4 812.2 404.2 810.3 396.1 808.8 388 807.5 379.8 806.6 371.7 806 363.6 805.7 355.4 805.7 347.3 806 339.1 806.6 331 807.5 322.9 808.8 314.7 810.3 306.6 812.2 298.5 814.5 290.3 817.1 282.2 820.1 274.1 823.5 265.9 827.3 257.8M814.9 444.9 811.3 436.8 808 428.6 805.1 420.5 802.6 412.4 800.5 404.2 798.7 396.1 797.2 388 796 379.8 795.1 371.7 794.5 363.6 794.2 355.4 794.2 347.3 794.5 339.1 795.1 331 796 322.9 797.2 314.7 798.7 306.6 800.5 298.5 802.6 290.3 805.1 282.2 808 274.1 811.3 265.9 814.9 257.8M802.6 444.9 799.1 436.8 796 428.6 793.2 420.5 790.8 412.4 788.8 404.2 787 396.1 785.6 388 784.4 379.8 783.6 371.7 783 363.6 782.7 355.4 782.7 347.3 783 339.1 783.6 331 784.4 322.9 785.6 314.7 787 306.6 788.8 298.5 790.8 290.3 793.2 282.2 796 274.1 799.1 265.9 802.6 257.8M790.3 444.9 787 436.8 784 428.6 781.4 420.5 779.1 412.4 777.1 404.2 775.4 396.1 774 388 772.9 379.8 772.1 371.7 771.6 363.6 771.3 355.4 771.3 347.3 771.6 339.1 772.1 331 772.9 322.9 774 314.7 775.4 306.6 777.1 298.5 779.1 290.3 781.4 282.2 784 274.1 787 265.9 790.3 257.8M778.1 444.9 774.9 436.8 772 428.6 769.5 420.5 767.3 412.4 765.4 404.2 763.8 396.1 762.5 388 761.4 379.8 760.6 371.7 760.1 363.6 759.8 355.4 759.8 347.3 760.1 339.1 760.6 331 761.4 322.9 762.5 314.7 763.8 306.6 765.4 298.5 767.3 290.3 769.5 282.2 772 274.1 774.9 265.9 778.1 257.8M765.9 444.9 762.9 436.8 760.1 428.6 757.7 420.5 755.6 412.4 753.8 404.2 752.2 396.1 750.9 388 749.9 379.8 749.2 371.7 748.7 363.6 748.4 355.4 748.4 347.3 748.7 339.1 749.2 331 749.9 322.9 750.9 314.7 752.2 306.6 753.8 298.5 755.6 290.3 757.7 282.2 760.1 274.1 762.9 265.9 765.9 257.8M753.8 444.9 750.9 436.8 748.2 428.6 745.9 420.5 743.9 412.4 742.1 404.2 740.6 396.1 739.4 388 738.4 379.8 737.7 371.7 737.2 363.6 737 355.4 737 347.3 737.2 339.1 737.7 331 738.4 322.9 739.4 314.7 740.6 306.6 742.1 298.5 743.9 290.3 745.9 282.2 748.2 274.1 750.9 265.9 753.8 257.8M741.7 444.9 738.9 436.8 736.4 428.6 734.1 420.5 732.2 412.4 730.5 404.2 729.1 396.1 727.9 388 726.9 379.8 726.2 371.7 725.8 363.6 725.5 355.4 725.5 347.3 725.8 339.1 726.2 331 726.9 322.9 727.9 314.7 729.1 306.6 730.5 298.5 732.2 290.3 734.1 282.2 736.4 274.1 738.9 265.9 741.7 257.8M729.7 444.9 727 436.8 724.6 428.6 722.4 420.5 720.5 412.4 718.9 404.2 717.5 396.1 716.4 388 715.5 379.8 714.8 371.7 714.3 363.6 714.1 355.4 714.1 347.3 714.3 339.1 714.8 331 715.5 322.9 716.4 314.7 717.5 306.6 718.9 298.5 720.5 290.3 722.4 282.2 724.6 274.1 727 265.9 729.7 257.8" fill="none" stroke="#000" stroke-opacity=".533" stroke-width="5.89"/></g><g fill="url(#gG)"><rect x="980" y="291.1" width="1" height="120.5" opacity=".465"/><rect x="981" y="291.1" width="1" height="120.5" opacity=".454"/><rect x="982" y="291.1" width="1" height="120.5" opacity=".442"/><rect x="983" y="291.1" width="1" height="120.5" opacity=".432"/><rect x="984" y="291.1" width="1" height="120.6" opacity=".421"/><rect x="985" y="291.1" width="1" height="120.6" opacity=".41"/><rect x="986" y="291" width="1" height="120.6" opacity=".4"/><rect x="987" y="291" width="1" height="120.7" opacity=".39"/><rect x="988" y="291" width="1" height="120.7" opacity=".38"/><rect x="989" y="291" width="1" height="120.8" opacity=".371"/><rect x="990" y="290.9" width="1" height="120.9" opacity=".361"/><rect x="991" y="290.9" width="1" height="120.9" opacity=".352"/><rect x="992" y="290.8" width="1" height="121" opacity=".343"/><rect x="993" y="290.8" width="1" height="121.1" opacity=".334"/><rect x="994" y="290.7" width="1" height="121.2" opacity=".325"/><rect x="995" y="290.7" width="1" height="121.3" opacity=".317"/><rect x="996" y="290.6" width="1" height="121.4" opacity=".309"/><rect x="997" y="290.6" width="1" height="121.6" opacity=".301"/><rect x="998" y="290.5" width="1" height="121.7" opacity=".293"/><rect x="999" y="290.4" width="1" height="121.8" opacity=".285"/><rect x="1000" y="290.4" width="1" height="122" opacity=".277"/><rect x="1001" y="290.3" width="1" height="122.1" opacity=".27"/><rect x="1002" y="290.2" width="1" height="122.3" opacity=".263"/><rect x="1003" y="290.1" width="1" height="122.4" opacity=".256"/><rect x="1004" y="290.1" width="1" height="122.6" opacity=".249"/><rect x="1005" y="290" width="1" height="122.8" opacity=".242"/><rect x="1006" y="289.9" width="1" height="122.9" opacity=".236"/><rect x="1007" y="289.8" width="1" height="123.1" opacity=".229"/><rect x="1008" y="289.7" width="1" height="123.3" opacity=".223"/><rect x="1009" y="289.6" width="1" height="123.5" opacity=".217"/><rect x="1010" y="289.5" width="1" height="123.7" opacity=".211"/><rect x="1011" y="289.4" width="1" height="123.9" opacity=".205"/><rect x="1012" y="289.3" width="1" height="124.2" opacity=".199"/><rect x="1013" y="289.2" width="1" height="124.4" opacity=".194"/><rect x="1014" y="289" width="1" height="124.6" opacity=".188"/><rect x="1015" y="288.9" width="1" height="124.9" opacity=".183"/><rect x="1016" y="288.8" width="1" height="125.1" opacity=".178"/><rect x="1017" y="288.7" width="1" height="125.4" opacity=".173"/><rect x="1018" y="288.5" width="1" height="125.6" opacity=".168"/><rect x="1019" y="288.4" width="1" height="125.9" opacity=".163"/><rect x="1020" y="288.3" width="1" height="126.2" opacity=".158"/><rect x="1021" y="288.1" width="1" height="126.5" opacity=".154"/><rect x="1022" y="288" width="1" height="126.7" opacity=".149"/><rect x="1023" y="287.8" width="1" height="127" opacity=".145"/><rect x="1024" y="287.7" width="1" height="127.3" opacity=".141"/><rect x="1025" y="287.5" width="1" height="127.6" opacity=".137"/><rect x="1026" y="287.4" width="1" height="127.9" opacity=".133"/><rect x="1027" y="287.2" width="1" height="128.3" opacity=".129"/><rect x="1028" y="287.1" width="1" height="128.6" opacity=".125"/><rect x="1029" y="286.9" width="1" height="128.9" opacity=".122"/><rect x="1030" y="286.7" width="1" height="129.2" opacity=".118"/><rect x="1031" y="286.6" width="1" height="129.6" opacity=".115"/><rect x="1032" y="286.4" width="1" height="129.9" opacity=".111"/><rect x="1033" y="286.2" width="1" height="130.3" opacity=".108"/><rect x="1034" y="286" width="1" height="130.6" opacity=".105"/><rect x="1035" y="285.9" width="1" height="131" opacity=".102"/><rect x="1036" y="285.7" width="1" height="131.4" opacity=".099"/><rect x="1037" y="285.5" width="1" height="131.7" opacity=".096"/><rect x="1038" y="285.3" width="1" height="132.1" opacity=".093"/><rect x="1039" y="285.1" width="1" height="132.5" opacity=".09"/><rect x="1040" y="284.9" width="1" height="132.9" opacity=".087"/><rect x="1041" y="284.7" width="1" height="133.3" opacity=".085"/><rect x="1042" y="284.5" width="1" height="133.7" opacity=".082"/><rect x="1043" y="284.3" width="1" height="134.1" opacity=".08"/><rect x="1044" y="284.1" width="1" height="134.5" opacity=".077"/><rect x="1045" y="283.9" width="1" height="134.9" opacity=".075"/><rect x="1046" y="283.7" width="1" height="135.3" opacity=".073"/><rect x="1047" y="283.5" width="1" height="135.8" opacity=".07"/><rect x="1048" y="283.3" width="1" height="136.2" opacity=".068"/><rect x="1049" y="283" width="1" height="136.6" opacity=".066"/><rect x="1050" y="282.8" width="1" height="137.1" opacity=".064"/><rect x="1051" y="282.6" width="1" height="137.5" opacity=".062"/><rect x="1052" y="282.4" width="1" height="138" opacity=".06"/><rect x="1053" y="282.1" width="1" height="138.4" opacity=".058"/><rect x="1054" y="281.9" width="1" height="138.9" opacity=".057"/><rect x="1055" y="281.7" width="1" height="139.3" opacity=".055"/><rect x="1056" y="281.4" width="1" height="139.8" opacity=".053"/><rect x="1057" y="281.2" width="1" height="140.3" opacity=".052"/><rect x="1058" y="281" width="1" height="140.8" opacity=".05"/><rect x="1059" y="280.7" width="1" height="141.3" opacity=".048"/><rect x="1060" y="280.5" width="1" height="141.7" opacity=".047"/><rect x="1061" y="280.2" width="1" height="142.2" opacity=".045"/><rect x="1062" y="280" width="1" height="142.7" opacity=".044"/><rect x="1063" y="279.7" width="1" height="143.2" opacity=".043"/><rect x="1064" y="279.5" width="1" height="143.7" opacity=".041"/><rect x="1065" y="279.2" width="1" height="144.2" opacity=".04"/><rect x="1066" y="279" width="1" height="144.8" opacity=".039"/><rect x="1067" y="278.7" width="1" height="145.3" opacity=".038"/><rect x="1068" y="278.4" width="1" height="145.8" opacity=".036"/><rect x="1069" y="278.2" width="1" height="146.3" opacity=".035"/><rect x="1070" y="277.9" width="1" height="146.9" opacity=".034"/><rect x="1071" y="277.7" width="1" height="147.4" opacity=".033"/><rect x="1072" y="277.4" width="1" height="147.9" opacity=".032"/><rect x="1073" y="277.1" width="1" height="148.5" opacity=".031"/><rect x="1074" y="276.8" width="1" height="149" opacity=".03"/><rect x="1075" y="276.6" width="1" height="149.6" opacity=".029"/><rect x="1076" y="276.3" width="1" height="150.1" opacity=".028"/><rect x="1077" y="276" width="1" height="150.7" opacity=".027"/><rect x="1078" y="275.7" width="1" height="151.2" opacity=".026"/><rect x="1079" y="275.4" width="1" height="151.8" opacity=".026"/><rect x="1080" y="275.2" width="1" height="152.4" opacity=".025"/><rect x="1081" y="274.9" width="1" height="152.9" opacity=".024"/><rect x="1082" y="274.4" width="2" height="153.8" opacity=".023"/><rect x="1084" y="273.9" width="2" height="155" opacity=".021"/><rect x="1086" y="273.3" width="2" height="156.1" opacity=".02"/><rect x="1088" y="272.7" width="2" height="157.3" opacity=".019"/><rect x="1090" y="272.1" width="2" height="158.5" opacity=".018"/><rect x="1092" y="271.5" width="2" height="159.8" opacity=".017"/><rect x="1094" y="270.7" width="3" height="161.3" opacity=".015"/><rect x="1097" y="269.8" width="3" height="163.2" opacity=".014"/><rect x="1100" y="268.8" width="3" height="165.1" opacity=".013"/><rect x="1103" y="267.7" width="4" height="167.3" opacity=".011"/><rect x="1107" y="266.4" width="4" height="169.9" opacity=".01"/><rect x="1111" y="265.1" width="4" height="172.6" opacity=".009"/><rect x="1115" y="263.7" width="4" height="175.2" opacity=".008"/><rect x="1119" y="262.4" width="4" height="178" opacity=".007"/><rect x="1123" y="261.2" width="3" height="180.4" opacity=".006"/><rect x="1126" y="260.1" width="3" height="182.5" opacity=".005"/><rect x="1129" y="259.1" width="3" height="184.6" opacity=".005"/><rect x="1132" y="258" width="3" height="186.7" opacity=".004"/><rect x="1135" y="256.9" width="3" height="188.8" opacity=".004"/></g></g><g fill="none" stroke-width="1.1" stroke-dasharray="4.15 1.5"><path d="M745.5 432.3 745.5 424.2 745.8 421.4 746.7 421.5 747.5 422.5 751.5 429.3 753.9 432.3M756.4 432.3 756.8 429.9 756.9 422.5 757.2 420.1 758 420.1 758.8 421.1 762.3 426.6 764.5 429.6 766.2 430.9 767 430.9 767.8 429.9 768.1 428.2 768.3 420.9 768.6 418.7 769.4 418.6 770.2 419.5 775.1 426.7 776.7 428.3 777.5 428.7 778.4 428.6 779.2 427 779.4 425 779.6 419.3 780 417.1 780.8 417.1 781.6 417.9 786.5 424.7 788.1 426.1 788.9 426.4 789.7 426.1 790.5 424.2 790.9 417.7 791.4 415.5 792.2 415.4 793 416.3 796.2 420.7 797.9 422.6 799.5 423.9 800.3 424 801.1 423.4 801.7 421.7 802.3 415.2 802.7 413.7 803.5 413.7 804.4 414.5 807.6 418.8 809.2 420.5 810.9 421.5 811.7 421.5 812.5 420.6 812.9 419.3 813.5 413.6 814.1 411.8 814.9 412 815.7 412.8 819.8 417.7 821.4 418.9 822.2 419.1 823 418.9 823.9 417.5 824.7 411.9 824.9 411.1 825.5 409.9 826.3 410.2 827.1 411 831.2 415.5 832.8 416.5 833.6 416.6 834.4 416.1 834.9 415.2 835.3 413.6 836.1 409.1 836.9 408 837.7 408.3 840.9 411.8 842.6 413.3 844.2 414.1 845 414 845.8 413.1 846.2 412 847.4 406.6 848.2 406 849.1 406.4 853.1 410.5 854.7 411.5 855.6 411.6 856.4 411.2 857.2 409.9 858.3 405.4 858.8 404.2 859.6 404 860.4 404.5 864.5 408.4 866.1 409 866.9 408.9 867.7 408.2 868.3 407.1 869.4 403.4 870.2 402 871 402.1 871.8 402.6 874.2 405 875.9 406.1 876.7 406.5 877.5 406.5 878.3 406.2 879.1 405.1 880.7 400.5 881.6 399.9 882.4 400.1 886.4 403.5 888.1 404.1 888.9 403.9 889.9 403 892.1 398.1 892.9 397.9 893.8 398.3 897 401 898.6 401.7 899.4 401.7 900.3 401.3 901.1 400.4 902.7 396.8 903.5 395.9 904.3 396 905.1 396.5 908.4 399 910 399.4 910.8 399.2 911.6 398.6 914.1 394.4 914.7 394.1 915.7 394.3 918.9 396.8 920.6 397.3 921.4 397.2 922.2 396.8 923 395.9 924.6 393.1 925.4 392.3 926.3 392.3 930.3 395.2 931.1 395.4 931.9 395.4 932.8 395.1 933.6 394.5 936 391 936.8 390.7 937.6 391 940.9 393.4 942.5 393.8 943.3 393.6 944.1 393.1 946.6 390.1 947.4 389.5 948.2 389.6 951.5 392 953.1 392.5 953.9 392.4 954.7 392.1 958 388.7 958.8 388.5 959.6 388.9 962.8 391.4 964.5 391.6 965.3 391.3 966.1 390.8 968.5 388.3 969.3 387.9 970.1 388.1 973.4 390.7 974.2 391.1 975 391.2 976.6 390.6 979.1 388.3 979.9 387.8 980.7 387.6 1026.2 383 1040.8 381.4 1056.3 379.2 1069.3 376.7 1078.2 374.4 1085.5 372 1092 369.3 1097.7 366.2 1100.2 364.6 1102.6 362.6 1104.6 360.7 1105.9 359.1 1107.8 355.8 1108.5 353.4 1108.7 351.8 1108.6 350.1 1108.1 347.7 1106.5 344.4 1104.6 342 1102.9 340.4 1098.7 337.1 1093 333.9 1086.4 331 1079 328.6 1070.1 326.2 1057.1 323.7 1040.8 321.3 1026.2 319.7 980.7 315.1 979.9 314.9 979.1 314.4 976.6 312.1 975 311.5 974.2 311.6 973.4 312 970.1 314.6 969.3 314.8 968.5 314.4 966.1 311.9 965.3 311.4 964.5 311.1 962.8 311.3 959.6 313.8 958.8 314.2 958 314 954.7 310.6 953.9 310.3 953.1 310.2 951.5 310.7 948.2 313.1 947.4 313.2 946.6 312.6 944.1 309.6 943.3 309.1 942.5 308.9 940.9 309.3 937.6 311.7 936.8 312 936 311.7 933.6 308.2 932.8 307.6 931.9 307.3 931.1 307.3 930.3 307.5 926.3 310.4 925.4 310.4 924.6 309.6 923 306.8 922.2 305.9 921.4 305.5 920.6 305.4 918.9 305.9 915.7 308.4 914.7 308.6 914.1 308.3 911.6 304.1 910.8 303.5 910 303.3 908.4 303.7 905.1 306.2 904.3 306.7 903.5 306.8 902.7 305.9 901.1 302.3 900.3 301.4 899.4 301 898.6 301 897 301.7 893.8 304.4 892.9 304.8 892.1 304.6 889.9 299.7 888.9 298.8 888.1 298.6 886.4 299.2 882.4 302.6 881.6 302.8 880.7 302.2 879.1 297.6 878.3 296.5 877.5 296.2 876.7 296.2 875.9 296.6 874.2 297.7 871.8 300.1 871 300.6 870.2 300.7 869.4 299.3 868.3 295.6 867.7 294.5 866.9 293.8 866.1 293.7 864.5 294.3 860.4 298.2 859.6 298.7 858.8 298.5 858.3 297.3 857.2 292.8 856.4 291.5 855.6 291.1 854.7 291.2 853.1 292.2 849.1 296.3 848.2 296.7 847.4 296.1 846.2 290.7 845.8 289.6 845 288.7 844.2 288.6 842.6 289.4 840.9 290.9 837.7 294.4 836.9 294.7 836.1 293.6 835.3 289.1 834.9 287.5 834.4 286.6 833.6 286.1 832.8 286.2 831.2 287.2 827.1 291.7 826.3 292.5 825.5 292.8 824.9 291.6 824.7 290.8 823.9 285.2 823 283.8 822.2 283.6 821.4 283.8 819.8 285 815.7 289.9 814.9 290.7 814.1 290.9 813.5 289.1 812.9 283.4 812.5 282.1 811.7 281.2 810.9 281.2 809.2 282.2 807.6 283.9 804.4 288.2 803.5 289 802.7 289 802.3 287.5 801.7 281 801.1 279.3 800.3 278.7 799.5 278.8 797.9 280.1 796.2 282 793 286.4 792.2 287.3 791.4 287.2 790.9 285 790.5 278.5 789.7 276.6 788.9 276.3 788.1 276.6 786.5 278 781.6 284.8 780.8 285.6 780 285.6 779.6 283.4 779.4 277.7 779.2 275.7 778.4 274.1 777.5 274 776.7 274.4 775.1 276 770.2 283.2 769.4 284.1 768.6 284 768.3 281.8 768.1 274.5 767.8 272.8 767 271.8 766.2 271.8 764.5 273.1 762.3 276.1 758.8 281.6 758 282.6 757.2 282.6 756.9 280.2 756.8 272.8 756.4 270.4M736.9 425.3 741 432.3M741 270.4 736.9 277.4M753.9 270.4 751.5 273.4 747.5 280.2 746.7 281.2 745.8 281.3 745.5 278.5 745.5 270.4" stroke="#000"/><path d="M837.4 386.7 837.7 386.9 838.5 386.1 839 384.3 839.5 381 840.1 373.1 840.9 369.8 841.7 371 844 377.8 845.8 382.4 847.4 385.3 848.2 386.3 849.1 386.7 849.9 386.4 850.7 384.6 852.3 372.9 853.1 372.4 853.9 374 856.7 381 857.9 383.5 859.6 385.8 860.4 386.3 861.2 386.2 862.1 385.1 862.8 381.9 863.7 375.7 864.5 373.8 865.3 374.5 869.4 383.1 871 385.2 871.8 385.8 872.6 385.8 873.4 385 873.7 384.3 874.3 382.7 875.1 377.8 875.9 375 876.7 375 877.5 376.2 879.9 381 881.6 383.6 882.4 384.5 883.2 385.1 884 385.2 884.8 384.6 885.4 383.5 887.2 376.2 888.1 375.4 888.9 376.1 891.7 381 892.9 382.9 893.8 383.7 894.6 384.2 895.4 384.4 896.2 383.9 897 382.6 898.6 377 899.4 375.6 900.3 376 904.3 382 905.9 383.4 906.8 383.5 907.6 383.1 908.4 382.1 910 377.5 910.8 375.8 911.6 375.7 912.4 376.6 915.7 381.2 917.3 382.5 918.1 382.6 918.9 382.3 919.8 381.4 922.2 375.9 923 375.5 923.8 376.1 927.1 380.4 928.7 381.6 929.5 381.7 930.3 381.4 931.1 380.6 933.6 375.8 934.4 375.2 935.2 375.6 938.4 379.7 940.1 380.8 940.9 380.9 941.7 380.6 942.5 379.9 944.9 375.6 945.8 374.9 946.6 375.2 949.8 379.1 950.6 379.8 951.5 380.2 952.3 380.2 953.1 379.9 953.9 379.2 956.3 375.4 957.1 374.6 958 374.8 961.2 378.7 962 379.3 962.8 379.7 963.6 379.7 964.5 379.4 965.3 378.7 967.7 375.2 968.5 374.5 969.3 374.6 970.1 375.3 972 377.8 973.4 379.1 974.2 379.4 975 379.5 975.8 379.1 976.6 378.5 979.1 375.2 979.9 374.5 997 371.1 1008.3 368.4 1018.1 365.4 1025.5 362.3 1030.3 359.6 1032 358.3 1033.7 356.6 1034.9 355 1035.7 353.4 1036 351.8 1035.9 350.1 1035.4 348.5 1034.4 346.9 1032 344.4 1028.6 342 1023.8 339.6 1016.5 336.7 1007.5 334.1 995.3 331.3 979.9 328.2 979.1 327.5 976.6 324.2 975.8 323.6 975 323.2 974.2 323.3 973.4 323.6 972 324.9 970.1 327.4 969.3 328.1 968.5 328.2 967.7 327.5 965.3 324 964.5 323.3 963.6 323 962.8 323 962 323.4 961.2 324 958 327.9 957.1 328.1 956.3 327.3 953.9 323.5 953.1 322.8 952.3 322.5 951.5 322.5 950.6 322.9 949.8 323.6 946.6 327.5 945.8 327.8 944.9 327.1 942.5 322.8 941.7 322.1 940.9 321.8 940.1 321.9 938.4 323 935.2 327.1 934.4 327.5 933.6 326.9 931.1 322.1 930.3 321.3 929.5 321 928.7 321.1 927.1 322.3 923.8 326.6 923 327.2 922.2 326.8 919.8 321.3 918.9 320.4 918.1 320.1 917.3 320.2 915.7 321.5 912.4 326.1 911.6 327 910.8 326.9 910 325.2 908.4 320.6 907.6 319.6 906.8 319.2 905.9 319.3 904.3 320.7 900.3 326.7 899.4 327.1 898.6 325.7 897 320.1 896.2 318.8 895.4 318.3 894.6 318.5 893.8 319 892.9 319.8 891.7 321.7 888.9 326.6 888.1 327.3 887.2 326.5 885.4 319.2 884.8 318.1 884 317.5 883.2 317.6 882.4 318.2 881.6 319.1 879.9 321.7 877.5 326.5 876.7 327.7 875.9 327.7 875.1 324.9 874.3 320 873.7 318.4 873.4 317.7 872.6 316.9 871.8 316.9 871 317.5 869.4 319.6 865.3 328.2 864.5 328.9 863.7 327 862.8 320.8 862.1 317.6 861.2 316.5 860.4 316.4 859.6 316.9 857.9 319.2 856.7 321.7 853.9 328.7 853.1 330.3 852.3 329.8 851 320 850.5 317.6 849.9 316.3 849.1 316 848.2 316.4 847.4 317.4 845.8 320.3 844 324.9 841.7 331.7 840.9 332.9 840.1 329.6 839.5 321.7 839 318.4 838.5 316.6 837.7 315.8 836.9 316.1 836.1 317 835.2 318.4 833.5 322.5 831.7 328.2 829.6 335.8 828.7 335.7 827.7 321.7 827.3 318.4 827.1 317.5 826.3 316 825.5 316.1 824.7 316.9 823.9 318.3 821.6 324.1 819.5 332.2 817.4 342.6 816.5 337.4 816.1 324.9 815.7 319.9 814.9 316.7 814.1 316.4 813.3 317 811.7 320.2 809.5 327.4 808.1 333.9 807.3 338.7 806.4 347.7 806.4 355 807.2 363.1 808.9 372.9 810.9 380.2 812.5 384.3 813.3 385.7 814.1 386.3 814.9 386 815.2 385.1 815.7 382.8 816 380.2 816.5 365.3 817.4 360.1 819.5 370.5 821.1 377 823 382.6 824.7 385.8 825.5 386.6 826.3 386.7 827.1 385.2 827.7 381 828.7 367 829.6 366.9 832.4 377 833.8 381 835.2 384.3 836.1 385.7 836.9 386.6ZM801.8 385.1 802.7 385.7 803.2 385.1 803.6 384.3 804 381 804.3 375.3 804.8 354.2 804.7 346.1 804.1 323.3 803.5 318.3 802.7 317 801.9 317.4 801.1 318.7 800.3 320.5 799.4 323.3 798.1 328.2 796.4 337.9 795.8 343.6 795.6 350.1 795.9 359.9 796.6 366.4 797.4 371.3 798.5 376.2 799.5 379.8 801.1 384ZM790.4 384.3 790.5 384.5 791.4 384.3 791.8 382.7 792.2 380.2 792.5 372.1 792.7 352.6 792.5 332.2 792.3 323.3 791.6 319.2 791.4 318.4 790.5 318.2 789.7 319.3 788.1 323.6 786.3 331.4 785.1 340.4 784.6 350.9 784.7 355.8 785 361.5 786.3 371.3 788.1 379.1 789.7 383.4ZM778.7 382.7 779.2 383.1 779.9 381.9 780.1 381 780.5 376.2 780.6 368 780.5 328.2 780 321 779.2 319.6 778.4 320.3 777.5 322 776.6 324.9 775.4 330.6 774 340.4 773.6 350.1 773.9 359.9 774.9 369.7 775.9 374.9 776.7 378.2 777.5 380.7 778.4 382.4ZM766.7 380.2 767 380.8 767.8 380.7 768.2 378.6 768.6 374.5 768.7 364.8 768.6 328.2 768.4 324.9 767.9 322.5 767.8 322 767 321.9 766.2 323.4 765.3 325.9 764.5 329.4 763.7 334.2 762.8 342.8 762.5 350.9 762.8 359.9 763.7 368.5 764.5 373.3 765.3 376.8 766.2 379.3ZM755.2 377.8 755.6 378.3 756.4 375.9 756.8 364 756.7 332.2 756.4 326.8 755.6 324.4 754.8 325.4 754 327.8 753 332.2 752 340.4 751.6 350.1 751.7 357.5 752.3 365.6 753.2 371.2 754 374.9 754.8 377.3ZM743.2 373.7 743.4 374.3 744.2 373.8 744.4 372.1 744.8 366.4 744.9 357.5 744.7 333.9 744.2 328.9 743.4 328.4 742.6 330.5 741.6 336.3 740.9 342.8 740.6 350.9 740.8 358.3 741.3 364 741.8 368.2 742.6 372.2Z" stroke="#454560"/><path d="M915.9 371.3 916.5 371.6 917.3 371.3 918.3 369.7 919.2 366.4 920.6 359.1 921.4 357.3 922.2 359.2 923.5 364 925 368 926.3 370.3 927.1 371.3 927.9 371.8 928.7 371.7 929.5 371 929.8 370.5 930.8 368 932.8 360.8 933.6 360.8 936.8 368.7 937.9 370.5 938.4 371.2 939.3 371.7 940.1 371.8 940.9 371.4 941.7 370.3 942.6 368 944.1 363.2 944.9 362.2 945.8 362.9 948 368 949 369.9 949.8 371 950.6 371.6 951.5 371.8 952.3 371.5 953.1 370.7 954.1 368.8 955.5 365 956.3 363.3 957.1 363.2 958 364.5 960.4 369.6 961.2 370.7 962 371.4 962.8 371.7 963.6 371.6 964.5 370.9 965.8 368.8 967.7 364.3 968.5 363.5 969.3 364.2 971.6 368.8 972.6 370.4 973.4 371.3 974.2 371.7 975 371.6 975.8 371.1 976.6 370.2 977.8 368 979.1 365.1 979.9 363.9 985.6 361.7 989.5 359.9 992.9 357.9 995.4 355.8 997.1 353.4 997.6 351.8 997.4 350.1 996.7 348.5 995.4 346.9 992.3 344.4 987.2 341.7 979.9 338.8 979.1 337.6 977.8 334.7 976.6 332.5 975.8 331.6 975 331.1 974.2 331 973.4 331.4 972.6 332.3 971.6 333.9 969.3 338.5 968.5 339.2 967.7 338.4 965.8 333.9 964.5 331.8 963.6 331.1 962.8 331 962 331.3 961.2 332 960.4 333.1 958 338.2 957.1 339.5 956.3 339.4 955.5 337.7 954.1 333.9 953.1 332 952.3 331.2 951.5 330.9 950.6 331.1 949.8 331.7 949 332.8 948 334.7 945.8 339.8 944.9 340.5 944.1 339.5 942.6 334.7 941.7 332.4 940.9 331.3 940.1 330.9 939.3 331 938.4 331.5 937.9 332.2 936.8 334 933.6 341.9 932.8 341.9 930.8 334.7 929.8 332.2 929.5 331.7 928.7 331 927.9 330.9 927.1 331.4 926.3 332.4 925 334.7 923.5 338.7 922.2 343.5 921.4 345.4 920.6 343.6 919.4 337.1 918.6 333.9 918.1 332.6 917.3 331.4 916.5 331.1 915.7 331.5 914.9 332.4 914.1 333.9 912.8 337.1 911.1 343.6 910.5 347.7 910.3 350.9 910.6 355.8 911.3 359.9 912 363.1 913 366.4 914.1 368.9 914.9 370.3ZM903.9 370.5 904.3 370.9 905.1 371 905.9 370.3 906.8 368.3 907.9 361.5 908.7 352.6 908.6 347.7 907.3 337.1 906.8 334.4 906.3 333 905.9 332.4 905.1 331.7 904.3 331.8 903.5 332.7 902.7 334.1 901.5 337.1 900.7 340.4 900.1 343.6 899.5 349.3 899.7 355.8 900.5 361.5 902.1 367.2 902.7 368.6ZM892.4 369.7 892.9 370.1 893.8 369.9 894.6 368.4 894.9 367.2 895.8 360.7 896.2 352.6 896 345.2 895.3 337.9 894.6 334.3 893.8 332.8 892.9 332.6 892.1 333.3 891.3 334.7 890.5 336.8 889.8 339.6 888.8 345.2 888.4 350.9 888.7 356.6 889.6 362.3 891 367.2 892.1 369.4ZM880.6 368 881.6 368.6 882.4 367.8 882.8 366.4 883.4 362.3 883.9 355 883.8 346.9 883.3 339.6 883 337.1 882.4 334.9 881.6 334.1 880.7 334.5 879.9 335.8 879 338.7 877.9 344.4 877.5 350.1 877.6 355.8 878.2 360.7 879.1 364.6 879.9 366.9ZM869 365.6 869.4 366.2 870.2 366 871 363.2 871.4 359.1 871.6 353.4 871.5 346.1 871 339.6 870.2 336.7 869.4 336.5 868.6 337.7 867.5 341.2 866.9 345.2 866.6 350.1 866.7 355 867.1 359.1 867.7 362.5 868.6 365ZM857.9 362.3 858 362.5 858.1 362.3 858.8 360.1 859.3 351.8 859.2 346.9 858.8 342.8 858 340.2 857.2 341 856.4 344 855.8 350.9 856 355 856.4 358.7 857.2 361.7Z" stroke="#fff"/></g></g>
<path d="M736.5 432.7v3.2M817.77 432.7v3.2M899.03 432.7v3.2M980.3 432.7v3.2M1061.57 432.7v3.2M1142.83 432.7v3.2M1224.1 432.7v3.2M736.5 270h-3.2M736.5 351.35h-3.2M736.5 432.7h-3.2" stroke="#000" stroke-opacity="0.42" stroke-width="1.0" fill="none"/>
<rect x="736.5" y="270" width="487.6" height="162.7" fill="none" stroke="#000" stroke-opacity="0.42" stroke-width="1.0"/>
<text x="736.85" y="454" font-size="21.2">−3</text>
<text x="818.12" y="454" font-size="21.2">−2</text>
<text x="899.38" y="454" font-size="21.2">−1</text>
<text x="980.65" y="454" font-size="21.2">0</text>
<text x="1061.92" y="454" font-size="21.2">1</text>
<text x="1143.18" y="454" font-size="21.2">2</text>
<text x="1224.45" y="454" font-size="21.2">3</text>
<text x="732.05" y="278.5" font-size="21.2" class="e">1</text>
<text x="732.05" y="359.85" font-size="21.2" class="e">0</text>
<text x="732.05" y="441.2" font-size="21.2" class="e">−1</text>
<text x="980.65" y="477.6" font-size="21.2">z-axis (um)</text>
<text transform="translate(693.7 351.35) rotate(-90) scale(1 1)" font-size="21.2">x-axis (um)</text>
<text transform="translate(981.1 266.7) scale(1 1.025)" font-size="25.47">MUVE Excitation PSF, A = 2.0</text>
</g>
<g id="ax12">
<rect x="1379.3" y="270" width="487.6" height="162.7" fill="#f7fcfd"/>
<g clip-path="url(#cp12)"><g filter="url(#cm1)"><rect x="1378.3" y="269" width="489.6" height="164.7" fill="#000"/><g fill="url(#gG)"><rect x="1379.3" y="174" width="1.7" height="354.6" opacity=".115"/><rect x="1381" y="174.9" width="1" height="352.9" opacity=".117"/><rect x="1382" y="175.5" width="1" height="351.6" opacity=".117"/><rect x="1383" y="176.2" width="1" height="350.3" opacity=".118"/><rect x="1384" y="176.8" width="1" height="349" opacity=".119"/><rect x="1385" y="177.5" width="1" height="347.7" opacity=".12"/><rect x="1386" y="178.1" width="1" height="346.5" opacity=".121"/><rect x="1387" y="178.8" width="1" height="345.2" opacity=".122"/><rect x="1388" y="179.4" width="1" height="343.9" opacity=".123"/><rect x="1389" y="180.1" width="1" height="342.6" opacity=".124"/><rect x="1390" y="180.7" width="1" height="341.3" opacity=".125"/><rect x="1391" y="181.3" width="1" height="340" opacity=".126"/><rect x="1392" y="182" width="1" height="338.7" opacity=".127"/><rect x="1393" y="182.6" width="1" height="337.5" opacity=".127"/><rect x="1394" y="183.3" width="1" height="336.2" opacity=".128"/><rect x="1395" y="183.9" width="1" height="334.9" opacity=".129"/><rect x="1396" y="184.5" width="1" height="333.6" opacity=".13"/><rect x="1397" y="185.2" width="1" height="332.3" opacity=".131"/><rect x="1398" y="185.8" width="1" height="331.1" opacity=".132"/><rect x="1399" y="186.5" width="1" height="329.8" opacity=".134"/><rect x="1400" y="187.1" width="1" height="328.5" opacity=".135"/><rect x="1401" y="187.7" width="1" height="327.2" opacity=".136"/><rect x="1402" y="188.4" width="1" height="325.9" opacity=".137"/><rect x="1403" y="189" width="1" height="324.7" opacity=".138"/><rect x="1404" y="189.7" width="1" height="323.4" opacity=".139"/><rect x="1405" y="190.3" width="1" height="322.1" opacity=".14"/><rect x="1406" y="190.9" width="1" height="320.9" opacity=".141"/><rect x="1407" y="191.6" width="1" height="319.6" opacity=".142"/><rect x="1408" y="192.2" width="1" height="318.3" opacity=".143"/><rect x="1409" y="192.8" width="1" height="317" opacity=".144"/><rect x="1410" y="193.5" width="1" height="315.8" opacity=".146"/><rect x="1411" y="194.1" width="1" height="314.5" opacity=".147"/><rect x="1412" y="194.7" width="1" height="313.2" opacity=".148"/><rect x="1413" y="195.4" width="1" height="312" opacity=".149"/><rect x="1414" y="196" width="1" height="310.7" opacity=".15"/><rect x="1415" y="196.6" width="1" height="309.4" opacity=".152"/><rect x="1416" y="197.3" width="1" height="308.2" opacity=".153"/><rect x="1417" y="197.9" width="1" height="306.9" opacity=".154"/><rect x="1418" y="198.5" width="1" height="305.6" opacity=".155"/><rect x="1419" y="199.2" width="1" height="304.4" opacity=".157"/><rect x="1420" y="199.8" width="1" height="303.1" opacity=".158"/><rect x="1421" y="200.4" width="1" height="301.9" opacity=".159"/><rect x="1422" y="201" width="1" height="300.6" opacity=".161"/><rect x="1423" y="201.7" width="1" height="299.4" opacity=".162"/><rect x="1424" y="202.3" width="1" height="298.1" opacity=".163"/><rect x="1425" y="202.9" width="1" height="296.8" opacity=".165"/><rect x="1426" y="203.6" width="1" height="295.6" opacity=".166"/><rect x="1427" y="204.2" width="1" height="294.3" opacity=".168"/><rect x="1428" y="204.8" width="1" height="293.1" opacity=".169"/><rect x="1429" y="205.4" width="1" height="291.8" opacity=".17"/><rect x="1430" y="206.1" width="1" height="290.6" opacity=".172"/><rect x="1431" y="206.7" width="1" height="289.3" opacity=".173"/><rect x="1432" y="207.3" width="1" height="288.1" opacity=".175"/><rect x="1433" y="207.9" width="1" height="286.8" opacity=".176"/><rect x="1434" y="208.6" width="1" height="285.6" opacity=".178"/><rect x="1435" y="209.2" width="1" height="284.3" opacity=".18"/><rect x="1436" y="209.8" width="1" height="283.1" opacity=".181"/><rect x="1437" y="210.4" width="1" height="281.9" opacity=".183"/><rect x="1438" y="211" width="1" height="280.6" opacity=".184"/><rect x="1439" y="211.7" width="1" height="279.4" opacity=".186"/><rect x="1440" y="212.3" width="1" height="278.1" opacity=".188"/><rect x="1441" y="212.9" width="1" height="276.9" opacity=".189"/><rect x="1442" y="213.5" width="1" height="275.7" opacity=".191"/><rect x="1443" y="214.1" width="1" height="274.4" opacity=".193"/><rect x="1444" y="214.7" width="1" height="273.2" opacity=".195"/><rect x="1445" y="215.4" width="1" height="272" opacity=".196"/><rect x="1446" y="216" width="1" height="270.7" opacity=".198"/><rect x="1447" y="216.6" width="1" height="269.5" opacity=".2"/><rect x="1448" y="217.2" width="1" height="268.3" opacity=".202"/><rect x="1449" y="217.8" width="1" height="267.1" opacity=".204"/><rect x="1450" y="218.4" width="1" height="265.8" opacity=".205"/><rect x="1451" y="219" width="1" height="264.6" opacity=".207"/><rect x="1452" y="219.7" width="1" height="263.4" opacity=".209"/><rect x="1453" y="220.3" width="1" height="262.2" opacity=".211"/><rect x="1454" y="220.9" width="1" height="261" opacity=".213"/><rect x="1455" y="221.5" width="1" height="259.7" opacity=".215"/><rect x="1456" y="222.1" width="1" height="258.5" opacity=".217"/><rect x="1457" y="222.7" width="1" height="257.3" opacity=".219"/><rect x="1458" y="223.3" width="1" height="256.1" opacity=".221"/><rect x="1459" y="223.9" width="1" height="254.9" opacity=".223"/><rect x="1460" y="224.5" width="1" height="253.7" opacity=".226"/><rect x="1461" y="225.1" width="1" height="252.5" opacity=".228"/><rect x="1462" y="225.7" width="1" height="251.3" opacity=".23"/><rect x="1463" y="226.3" width="1" height="250.1" opacity=".232"/><rect x="1464" y="226.9" width="1" height="248.9" opacity=".234"/><rect x="1465" y="227.5" width="1" height="247.7" opacity=".237"/><rect x="1466" y="228.1" width="1" height="246.5" opacity=".239"/><rect x="1467" y="228.7" width="1" height="245.3" opacity=".241"/><rect x="1468" y="229.3" width="1" height="244.1" opacity=".244"/><rect x="1469" y="229.9" width="1" height="242.9" opacity=".246"/><rect x="1470" y="230.5" width="1" height="241.7" opacity=".249"/><rect x="1471" y="231.1" width="1" height="240.5" opacity=".251"/><rect x="1472" y="231.7" width="1" height="239.3" opacity=".254"/><rect x="1473" y="232.3" width="1" height="238.1" opacity=".256"/><rect x="1474" y="232.9" width="1" height="236.9" opacity=".259"/><rect x="1475" y="233.5" width="1" height="235.8" opacity=".261"/><rect x="1476" y="234.1" width="1" height="234.6" opacity=".264"/><rect x="1477" y="234.6" width="1" height="233.4" opacity=".267"/><rect x="1478" y="235.2" width="1" height="232.2" opacity=".269"/><rect x="1479" y="235.8" width="1" height="231.1" opacity=".272"/><rect x="1480" y="236.4" width="1" height="229.9" opacity=".275"/><rect x="1481" y="237" width="1" height="228.7" opacity=".278"/><rect x="1482" y="237.6" width="1" height="227.6" opacity=".28"/><rect x="1483" y="238.2" width="1" height="226.4" opacity=".283"/><rect x="1484" y="238.7" width="1" height="225.2" opacity=".286"/><rect x="1485" y="239.3" width="1" height="224.1" opacity=".289"/><rect x="1486" y="239.9" width="1" height="222.9" opacity=".292"/><rect x="1487" y="240.5" width="1" height="221.8" opacity=".295"/><rect x="1488" y="241" width="1" height="220.6" opacity=".298"/><rect x="1489" y="241.6" width="1" height="219.5" opacity=".301"/><rect x="1490" y="242.2" width="1" height="218.3" opacity=".305"/><rect x="1491" y="242.8" width="1" height="217.2" opacity=".308"/><rect x="1492" y="243.3" width="1" height="216" opacity=".311"/><rect x="1493" y="243.9" width="1" height="214.9" opacity=".314"/><rect x="1494" y="244.5" width="1" height="213.8" opacity=".318"/><rect x="1495" y="245" width="1" height="212.6" opacity=".321"/><rect x="1496" y="245.6" width="1" height="211.5" opacity=".325"/><rect x="1497" y="246.2" width="1" height="210.4" opacity=".328"/><rect x="1498" y="246.7" width="1" height="209.2" opacity=".332"/><rect x="1499" y="247.3" width="1" height="208.1" opacity=".335"/><rect x="1500" y="247.8" width="1" height="207" opacity=".339"/><rect x="1501" y="248.4" width="1" height="205.9" opacity=".343"/><rect x="1502" y="249" width="1" height="204.8" opacity=".346"/><rect x="1503" y="249.5" width="1" height="203.7" opacity=".35"/><rect x="1504" y="250.1" width="1" height="202.6" opacity=".354"/><rect x="1505" y="250.6" width="1" height="201.5" opacity=".358"/><rect x="1506" y="251.2" width="1" height="200.4" opacity=".362"/><rect x="1507" y="251.7" width="1" height="199.3" opacity=".366"/><rect x="1508" y="252.3" width="1" height="198.2" opacity=".37"/><rect x="1509" y="252.8" width="1" height="197.1" opacity=".374"/><rect x="1510" y="253.3" width="1" height="196" opacity=".378"/><rect x="1511" y="253.9" width="1" height="194.9" opacity=".382"/><rect x="1512" y="254.4" width="1" height="193.8" opacity=".386"/><rect x="1513" y="255" width="1" height="192.8" opacity=".391"/><rect x="1514" y="255.5" width="1" height="191.7" opacity=".395"/><rect x="1515" y="256" width="1" height="190.6" opacity=".4"/><rect x="1516" y="256.6" width="1" height="189.6" opacity=".404"/><rect x="1517" y="257.1" width="1" height="188.5" opacity=".409"/><rect x="1518" y="257.6" width="1" height="187.5" opacity=".413"/><rect x="1519" y="258.1" width="1" height="186.4" opacity=".418"/><rect x="1520" y="258.7" width="1" height="185.4" opacity=".423"/><rect x="1521" y="259.2" width="1" height="184.3" opacity=".427"/><rect x="1522" y="259.7" width="1" height="183.3" opacity=".432"/><rect x="1523" y="260.2" width="1" height="182.3" opacity=".437"/><rect x="1524" y="260.7" width="1" height="181.2" opacity=".442"/><rect x="1525" y="261.2" width="1" height="180.2" opacity=".447"/><rect x="1526" y="261.8" width="1" height="179.2" opacity=".452"/><rect x="1527" y="262.3" width="1" height="178.2" opacity=".457"/><rect x="1528" y="262.8" width="1" height="177.2" opacity=".463"/><rect x="1529" y="263.3" width="1" height="176.2" opacity=".468"/><rect x="1530" y="263.8" width="1" height="175.2" opacity=".473"/><rect x="1531" y="264.3" width="1" height="174.2" opacity=".479"/><rect x="1532" y="264.8" width="1" height="173.2" opacity=".484"/><rect x="1533" y="265.3" width="1" height="172.2" opacity=".49"/><rect x="1534" y="265.7" width="1" height="171.2" opacity=".495"/><rect x="1535" y="266.2" width="1" height="170.2" opacity=".501"/><rect x="1536" y="266.7" width="1" height="169.3" opacity=".507"/><rect x="1537" y="267.2" width="1" height="168.3" opacity=".513"/><rect x="1538" y="267.7" width="1" height="167.4" opacity=".518"/><rect x="1539" y="268.1" width="1" height="166.4" opacity=".524"/><rect x="1540" y="268.6" width="1" height="165.5" opacity=".53"/><rect x="1541" y="269.1" width="1" height="164.5" opacity=".536"/><rect x="1542" y="269.6" width="1" height="163.6" opacity=".542"/><rect x="1543" y="270" width="1" height="162.7" opacity=".549"/><rect x="1544" y="270.5" width="1" height="161.8" opacity=".555"/><rect x="1545" y="270.9" width="1" height="160.8" opacity=".561"/><rect x="1546" y="271.4" width="1" height="159.9" opacity=".568"/><rect x="1547" y="271.8" width="1" height="159" opacity=".574"/><rect x="1548" y="272.3" width="1" height="158.1" opacity=".581"/><rect x="1549" y="272.7" width="1" height="157.3" opacity=".587"/><rect x="1550" y="273.2" width="1" height="156.4" opacity=".594"/><rect x="1551" y="273.6" width="1" height="155.5" opacity=".6"/><rect x="1552" y="274" width="1" height="154.6" opacity=".607"/><rect x="1553" y="274.5" width="1" height="153.8" opacity=".614"/><rect x="1554" y="274.9" width="1" height="152.9" opacity=".621"/><rect x="1555" y="275.3" width="1" height="152.1" opacity=".628"/><rect x="1556" y="275.7" width="1" height="151.3" opacity=".635"/><rect x="1557" y="276.1" width="1" height="150.4" opacity=".642"/><rect x="1558" y="276.5" width="1" height="149.6" opacity=".649"/><rect x="1559" y="276.9" width="1" height="148.8" opacity=".656"/><rect x="1560" y="277.3" width="1" height="148" opacity=".663"/><rect x="1561" y="277.7" width="1" height="147.2" opacity=".67"/><rect x="1562" y="278.1" width="1" height="146.4" opacity=".677"/><rect x="1563" y="278.5" width="1" height="145.7" opacity=".684"/><rect x="1564" y="278.9" width="1" height="144.9" opacity=".692"/><rect x="1565" y="279.3" width="1" height="144.1" opacity=".699"/><rect x="1566" y="279.7" width="1" height="143.4" opacity=".706"/><rect x="1567" y="280" width="1" height="142.6" opacity=".714"/><rect x="1568" y="280.4" width="1" height="141.9" opacity=".721"/><rect x="1569" y="280.8" width="1" height="141.2" opacity=".728"/><rect x="1570" y="281.1" width="1" height="140.5" opacity=".736"/><rect x="1571" y="281.5" width="1" height="139.8" opacity=".743"/><rect x="1572" y="281.8" width="1" height="139.1" opacity=".751"/><rect x="1573" y="282.1" width="1" height="138.4" opacity=".758"/><rect x="1574" y="282.5" width="1" height="137.7" opacity=".765"/><rect x="1575" y="282.8" width="1" height="137.1" opacity=".773"/><rect x="1576" y="283.1" width="1" height="136.4" opacity=".78"/><rect x="1577" y="283.5" width="1" height="135.8" opacity=".787"/><rect x="1578" y="283.8" width="1" height="135.2" opacity=".795"/><rect x="1579" y="284.1" width="1" height="134.5" opacity=".802"/><rect x="1580" y="284.4" width="1" height="133.9" opacity=".809"/><rect x="1581" y="284.7" width="1" height="133.3" opacity=".817"/><rect x="1582" y="285" width="1" height="132.8" opacity=".824"/><rect x="1583" y="285.3" width="1" height="132.2" opacity=".831"/><rect x="1584" y="285.5" width="1" height="131.6" opacity=".838"/><rect x="1585" y="285.8" width="1" height="131.1" opacity=".845"/><rect x="1586" y="286.1" width="1" height="130.6" opacity=".852"/><rect x="1587" y="286.3" width="1" height="130" opacity=".859"/><rect x="1588" y="286.6" width="1" height="129.5" opacity=".865"/><rect x="1589" y="286.8" width="1" height="129" opacity=".872"/><rect x="1590" y="287.1" width="1" height="128.5" opacity=".879"/><rect x="1591" y="287.3" width="1" height="128.1" opacity=".885"/><rect x="1592" y="287.5" width="1" height="127.6" opacity=".892"/><rect x="1593" y="287.8" width="1" height="127.2" opacity=".898"/><rect x="1594" y="288" width="1" height="126.7" opacity=".904"/><rect x="1595" y="288.2" width="1" height="126.3" opacity=".91"/><rect x="1596" y="288.4" width="1" height="125.9" opacity=".916"/><rect x="1597" y="288.6" width="1" height="125.5" opacity=".922"/><rect x="1598" y="288.8" width="1" height="125.1" opacity=".927"/><rect x="1599" y="289" width="1" height="124.8" opacity=".933"/><rect x="1600" y="289.1" width="1" height="124.4" opacity=".938"/><rect x="1601" y="289.3" width="1" height="124.1" opacity=".943"/><rect x="1602" y="289.5" width="2" height="123.6" opacity=".95"/><rect x="1604" y="289.8" width="2" height="123" opacity=".959"/><rect x="1606" y="290.1" width="2" height="122.5" opacity=".967"/><rect x="1608" y="290.3" width="2" height="122" opacity=".975"/><rect x="1610" y="290.6" width="3" height="121.5" opacity=".983"/><rect x="1613" y="290.8" width="4" height="121" opacity=".992"/><rect x="1617" y="291" width="4" height="120.6" opacity=".998"/><rect x="1621" y="291.1" width="2" height="120.5" opacity="1"/></g><g filter="url(#blr)" clip-path="url(#cl12)"><path d="M1623.1 444.9 1623.1 257.8M1615.6 444.9 1612.2 388 1611.6 371.7 1611.2 355.4 1611.4 339.1 1612.2 314.7 1615.6 257.8M1608 444.9 1603 404.2 1601.2 388 1600 371.7 1599.4 355.4 1599.6 339.1 1600 331 1601.2 314.7 1603 298.5 1608 257.8M1600.2 444.9 1592.7 404.2 1590.2 388 1589.2 379.8 1588.4 371.7 1587.9 363.6 1587.6 355.4 1587.6 347.3 1587.9 339.1 1588.4 331 1589.2 322.9 1590.2 314.7 1592.7 298.5 1600.2 257.8M1592 444.9 1583.9 412.4 1580.4 396.1 1579 388 1577.7 379.8 1576.8 371.7 1576.2 363.6 1575.8 355.4 1575.8 347.3 1576.2 339.1 1576.8 331 1577.7 322.9 1579 314.7 1580.4 306.6 1583.9 290.3 1592 257.8M1583.4 444.9 1578.3 428.6 1573.4 412.4 1571.2 404.2 1569.3 396.1 1567.6 388 1566.2 379.8 1565.2 371.7 1564.5 363.6 1564.1 355.4 1564.1 347.3 1564.5 339.1 1565.2 331 1566.2 322.9 1567.6 314.7 1569.3 306.6 1571.2 298.5 1573.4 290.3 1578.3 274.1 1583.4 257.8M1574.2 444.9 1568.1 428.6 1565.2 420.5 1562.5 412.4 1560.1 404.2 1558 396.1 1556.1 388 1554.7 379.8 1553.6 371.7 1552.8 363.6 1552.4 355.4 1552.4 347.3 1552.8 339.1 1553.6 331 1554.7 322.9 1556.1 314.7 1558 306.6 1560.1 298.5 1562.5 290.3 1568.1 274.1 1574.2 257.8M1564.3 444.9 1557.4 428.6 1554.3 420.5 1551.3 412.4 1548.8 404.2 1546.5 396.1 1544.6 388 1543.1 379.8 1541.9 371.7 1541.2 363.6 1540.8 355.4 1540.8 347.3 1541.2 339.1 1541.9 331 1543.1 322.9 1544.6 314.7 1546.5 306.6 1548.8 298.5 1551.3 290.3 1554.3 282.2 1557.4 274.1 1564.3 257.8M1553.9 444.9 1550 436.8 1546.3 428.6 1542.9 420.5 1539.9 412.4 1537.2 404.2 1534.9 396.1 1533 388 1531.5 379.8 1530.3 371.7 1529.5 363.6 1529.2 355.4 1529.2 347.3 1529.5 339.1 1530.3 331 1531.5 322.9 1533 314.7 1534.9 306.6 1537.2 298.5 1539.9 290.3 1542.9 282.2 1546.3 274.1 1550 265.9 1553.9 257.8M1542.8 444.9 1538.7 436.8 1534.8 428.6 1531.4 420.5 1528.3 412.4 1525.6 404.2 1523.3 396.1 1521.4 388 1519.8 379.8 1518.7 371.7 1518 363.6 1517.6 355.4 1517.6 347.3 1518 339.1 1518.7 331 1519.8 322.9 1521.4 314.7 1523.3 306.6 1525.6 298.5 1528.3 290.3 1531.4 282.2 1534.8 274.1 1538.7 265.9 1542.8 257.8M1531.3 444.9 1527 436.8 1523.1 428.6 1519.6 420.5 1516.5 412.4 1513.9 404.2 1511.6 396.1 1509.7 388 1508.2 379.8 1507.1 371.7 1506.4 363.6 1506 355.4 1506 347.3 1506.4 339.1 1507.1 331 1508.2 322.9 1509.7 314.7 1511.6 306.6 1513.9 298.5 1516.5 290.3 1519.6 282.2 1523.1 274.1 1527 265.9 1531.3 257.8M1519.3 444.9 1515 436.8 1511.2 428.6 1507.7 420.5 1504.7 412.4 1502.1 404.2 1499.9 396.1 1498.1 388 1496.6 379.8 1495.5 371.7 1494.8 363.6 1494.5 355.4 1494.5 347.3 1494.8 339.1 1495.5 331 1496.6 322.9 1498.1 314.7 1499.9 306.6 1502.1 298.5 1504.7 290.3 1507.7 282.2 1511.2 274.1 1515 265.9 1519.3 257.8M1507.2 444.9 1502.9 436.8 1499.1 428.6 1495.8 420.5 1492.8 412.4 1490.3 404.2 1488.2 396.1 1486.4 388 1485 379.8 1484 371.7 1483.3 363.6 1483 355.4 1483 347.3 1483.3 339.1 1484 331 1485 322.9 1486.4 314.7 1488.2 306.6 1490.3 298.5 1492.8 290.3 1495.8 282.2 1499.1 274.1 1502.9 265.9 1507.2 257.8M1494.9 444.9 1490.7 436.8 1487 428.6 1483.8 420.5 1481 412.4 1478.5 404.2 1476.5 396.1 1474.8 388 1473.4 379.8 1472.4 371.7 1471.8 363.6 1471.4 355.4 1471.4 347.3 1471.8 339.1 1472.4 331 1473.4 322.9 1474.8 314.7 1476.5 306.6 1478.5 298.5 1481 290.3 1483.8 282.2 1487 274.1 1490.7 265.9 1494.9 257.8M1482.5 444.9 1478.5 436.8 1475 428.6 1471.8 420.5 1469.1 412.4 1466.8 404.2 1464.8 396.1 1463.2 388 1461.9 379.8 1460.9 371.7 1460.3 363.6 1460 355.4 1460 347.3 1460.3 339.1 1460.9 331 1461.9 322.9 1463.2 314.7 1464.8 306.6 1466.8 298.5 1469.1 290.3 1471.8 282.2 1475 274.1 1478.5 265.9 1482.5 257.8M1470.1 444.9 1466.3 436.8 1462.9 428.6 1459.9 420.5 1457.3 412.4 1455 404.2 1453.1 396.1 1451.6 388 1450.3 379.8 1449.4 371.7 1448.8 363.6 1448.5 355.4 1448.5 347.3 1448.8 339.1 1449.4 331 1450.3 322.9 1451.6 314.7 1453.1 306.6 1455 298.5 1457.3 290.3 1459.9 282.2 1462.9 274.1 1466.3 265.9 1470.1 257.8M1457.7 444.9 1454.1 436.8 1450.8 428.6 1447.9 420.5 1445.4 412.4 1443.3 404.2 1441.5 396.1 1440 388 1438.8 379.8 1437.9 371.7 1437.3 363.6 1437 355.4 1437 347.3 1437.3 339.1 1437.9 331 1438.8 322.9 1440 314.7 1441.5 306.6 1443.3 298.5 1445.4 290.3 1447.9 282.2 1450.8 274.1 1454.1 265.9 1457.7 257.8M1445.4 444.9 1441.9 436.8 1438.8 428.6 1436 420.5 1433.6 412.4 1431.6 404.2 1429.8 396.1 1428.4 388 1427.2 379.8 1426.4 371.7 1425.8 363.6 1425.5 355.4 1425.5 347.3 1425.8 339.1 1426.4 331 1427.2 322.9 1428.4 314.7 1429.8 306.6 1431.6 298.5 1433.6 290.3 1436 282.2 1438.8 274.1 1441.9 265.9 1445.4 257.8M1433.1 444.9 1429.8 436.8 1426.8 428.6 1424.2 420.5 1421.9 412.4 1419.9 404.2 1418.2 396.1 1416.8 388 1415.7 379.8 1414.9 371.7 1414.4 363.6 1414.1 355.4 1414.1 347.3 1414.4 339.1 1414.9 331 1415.7 322.9 1416.8 314.7 1418.2 306.6 1419.9 298.5 1421.9 290.3 1424.2 282.2 1426.8 274.1 1429.8 265.9 1433.1 257.8M1420.9 444.9 1417.7 436.8 1414.8 428.6 1412.3 420.5 1410.1 412.4 1408.2 404.2 1406.6 396.1 1405.3 388 1404.2 379.8 1403.4 371.7 1402.9 363.6 1402.6 355.4 1402.6 347.3 1402.9 339.1 1403.4 331 1404.2 322.9 1405.3 314.7 1406.6 306.6 1408.2 298.5 1410.1 290.3 1412.3 282.2 1414.8 274.1 1417.7 265.9 1420.9 257.8M1408.7 444.9 1405.7 436.8 1402.9 428.6 1400.5 420.5 1398.4 412.4 1396.6 404.2 1395 396.1 1393.7 388 1392.7 379.8 1392 371.7 1391.5 363.6 1391.2 355.4 1391.2 347.3 1391.5 339.1 1392 331 1392.7 322.9 1393.7 314.7 1395 306.6 1396.6 298.5 1398.4 290.3 1400.5 282.2 1402.9 274.1 1405.7 265.9 1408.7 257.8M1396.6 444.9 1393.7 436.8 1391 428.6 1388.7 420.5 1386.7 412.4 1384.9 404.2 1383.4 396.1 1382.2 388 1381.2 379.8 1380.5 371.7 1380 363.6 1379.8 355.4 1379.8 347.3 1380 339.1 1380.5 331 1381.2 322.9 1382.2 314.7 1383.4 306.6 1384.9 298.5 1386.7 290.3 1388.7 282.2 1391 274.1 1393.7 265.9 1396.6 257.8M1384.5 444.9 1381.7 436.8 1379.2 428.6 1376.9 420.5 1375 412.4 1373.3 404.2 1371.9 396.1 1370.7 388 1369.7 379.8 1369 371.7 1368.6 363.6 1368.3 355.4 1368.3 347.3 1368.6 339.1 1369 331 1369.7 322.9 1370.7 314.7 1371.9 306.6 1373.3 298.5 1375 290.3 1376.9 282.2 1379.2 274.1 1381.7 265.9 1384.5 257.8M1372.5 444.9 1369.8 436.8 1367.4 428.6 1365.2 420.5 1363.3 412.4 1361.7 404.2 1360.3 396.1 1359.2 388 1358.3 379.8 1357.6 371.7 1357.1 363.6 1356.9 355.4 1356.9 347.3 1357.1 339.1 1357.6 331 1358.3 322.9 1359.2 314.7 1360.3 306.6 1361.7 298.5 1363.3 290.3 1365.2 282.2 1367.4 274.1 1369.8 265.9 1372.5 257.8" fill="none" stroke="#000" stroke-opacity=".533" stroke-width="5.89"/></g><g fill="url(#gG)"><rect x="1623" y="291.1" width="1" height="120.5" opacity=".458"/><rect x="1624" y="291.1" width="1" height="120.5" opacity=".436"/><rect x="1625" y="291.1" width="1" height="120.5" opacity=".415"/><rect x="1626" y="291.1" width="1" height="120.5" opacity=".395"/><rect x="1627" y="291.1" width="1" height="120.6" opacity=".376"/><rect x="1628" y="291" width="1" height="120.6" opacity=".358"/><rect x="1629" y="291" width="1" height="120.6" opacity=".34"/><rect x="1630" y="291" width="1" height="120.7" opacity=".324"/><rect x="1631" y="291" width="1" height="120.7" opacity=".308"/><rect x="1632" y="290.9" width="1" height="120.8" opacity=".293"/><rect x="1633" y="290.9" width="1" height="120.9" opacity=".278"/><rect x="1634" y="290.9" width="1" height="121" opacity=".265"/><rect x="1635" y="290.8" width="1" height="121" opacity=".251"/><rect x="1636" y="290.8" width="1" height="121.1" opacity=".239"/><rect x="1637" y="290.7" width="1" height="121.2" opacity=".227"/><rect x="1638" y="290.7" width="1" height="121.3" opacity=".216"/><rect x="1639" y="290.6" width="1" height="121.5" opacity=".205"/><rect x="1640" y="290.6" width="1" height="121.6" opacity=".195"/><rect x="1641" y="290.5" width="1" height="121.7" opacity=".185"/><rect x="1642" y="290.4" width="1" height="121.8" opacity=".176"/><rect x="1643" y="290.4" width="1" height="122" opacity=".167"/><rect x="1644" y="290.3" width="1" height="122.1" opacity=".159"/><rect x="1645" y="290.2" width="1" height="122.3" opacity=".151"/><rect x="1646" y="290.1" width="1" height="122.4" opacity=".143"/><rect x="1647" y="290" width="1" height="122.6" opacity=".136"/><rect x="1648" y="290" width="1" height="122.8" opacity=".129"/><rect x="1649" y="289.9" width="1" height="123" opacity=".122"/><rect x="1650" y="289.8" width="1" height="123.2" opacity=".116"/><rect x="1651" y="289.7" width="1" height="123.4" opacity=".11"/><rect x="1652" y="289.6" width="1" height="123.6" opacity=".105"/><rect x="1653" y="289.5" width="1" height="123.8" opacity=".099"/><rect x="1654" y="289.4" width="1" height="124" opacity=".094"/><rect x="1655" y="289.2" width="1" height="124.2" opacity=".089"/><rect x="1656" y="289.1" width="1" height="124.4" opacity=".085"/><rect x="1657" y="289" width="1" height="124.7" opacity=".08"/><rect x="1658" y="288.9" width="1" height="124.9" opacity=".076"/><rect x="1659" y="288.8" width="1" height="125.2" opacity=".072"/><rect x="1660" y="288.6" width="1" height="125.4" opacity=".068"/><rect x="1661" y="288.5" width="1" height="125.7" opacity=".065"/><rect x="1662" y="288.4" width="1" height="126" opacity=".061"/><rect x="1663" y="288.2" width="1" height="126.2" opacity=".058"/><rect x="1664" y="288.1" width="1" height="126.5" opacity=".055"/><rect x="1665" y="288" width="1" height="126.8" opacity=".052"/><rect x="1666" y="287.8" width="1" height="127.1" opacity=".05"/><rect x="1667" y="287.7" width="1" height="127.4" opacity=".047"/><rect x="1668" y="287.5" width="1" height="127.7" opacity=".045"/><rect x="1669" y="287.3" width="1" height="128" opacity=".042"/><rect x="1670" y="287.2" width="1" height="128.3" opacity=".04"/><rect x="1671" y="287" width="1" height="128.6" opacity=".038"/><rect x="1672" y="286.9" width="1" height="129" opacity=".036"/><rect x="1673" y="286.7" width="1" height="129.3" opacity=".034"/><rect x="1674" y="286.5" width="1" height="129.6" opacity=".032"/><rect x="1675" y="286.4" width="1" height="130" opacity=".03"/><rect x="1676" y="286.2" width="1" height="130.3" opacity=".029"/><rect x="1677" y="286" width="1" height="130.7" opacity=".027"/><rect x="1678" y="285.8" width="1" height="131.1" opacity=".026"/><rect x="1679" y="285.6" width="1" height="131.4" opacity=".024"/><rect x="1680" y="285.4" width="1" height="131.8" opacity=".023"/><rect x="1681" y="285.3" width="1" height="132.2" opacity=".022"/><rect x="1682" y="285.1" width="1" height="132.6" opacity=".021"/><rect x="1683" y="284.9" width="1" height="133" opacity=".02"/><rect x="1684" y="284.7" width="1" height="133.4" opacity=".019"/><rect x="1685" y="284.5" width="1" height="133.8" opacity=".018"/><rect x="1686" y="284.3" width="1" height="134.2" opacity=".017"/><rect x="1687" y="284.1" width="1" height="134.6" opacity=".016"/><rect x="1688" y="283.9" width="1" height="135" opacity=".015"/><rect x="1689" y="283.6" width="1" height="135.4" opacity=".014"/><rect x="1690" y="283.3" width="2" height="136.1" opacity=".013"/><rect x="1692" y="282.9" width="2" height="136.9" opacity=".012"/><rect x="1694" y="282.4" width="2" height="137.8" opacity=".01"/><rect x="1696" y="282" width="2" height="138.7" opacity=".009"/><rect x="1698" y="281.4" width="3" height="139.9" opacity=".008"/><rect x="1701" y="280.6" width="4" height="141.6" opacity=".007"/><rect x="1705" y="279.6" width="4" height="143.6" opacity=".005"/><rect x="1709" y="278.5" width="4" height="145.6" opacity=".004"/></g></g><g fill="none" stroke-width="1.1" stroke-dasharray="4.15 1.5"><path d="M1388.3 432.3 1388.3 424.2 1388.6 421.4 1389.5 421.5 1390.3 422.5 1394.3 429.3 1396.7 432.3M1399.2 432.3 1399.6 429.9 1399.7 422.5 1400 420.1 1400.8 420.1 1401.6 421.1 1405.1 426.6 1407.3 429.6 1409 430.9 1409.8 430.9 1410.6 429.9 1410.9 428.2 1411.1 420.9 1411.4 418.7 1412.2 418.6 1413 419.5 1417.9 426.7 1419.5 428.3 1420.3 428.7 1421.2 428.6 1422 427 1422.2 425 1422.4 419.3 1422.8 417.1 1423.6 417.1 1424.4 417.9 1429.3 424.7 1430.9 426.1 1431.7 426.4 1432.5 426.1 1433.3 424.2 1433.7 417.7 1434.2 415.5 1435 415.4 1435.8 416.3 1439 420.7 1440.7 422.6 1442.3 423.9 1443.1 424 1443.9 423.4 1444.5 421.7 1445.1 415.2 1445.5 413.7 1446.3 413.7 1447.2 414.5 1450.4 418.8 1452 420.5 1453.7 421.5 1454.5 421.5 1455.3 420.6 1455.7 419.3 1456.3 413.6 1456.9 411.8 1457.7 412 1458.5 412.8 1462.6 417.7 1464.2 418.9 1465 419.1 1465.8 418.9 1466.7 417.5 1467.5 411.9 1467.7 411.1 1468.3 409.9 1469.1 410.2 1469.9 411 1474 415.5 1475.6 416.5 1476.4 416.6 1477.2 416.1 1477.7 415.2 1478.1 413.6 1478.9 409.1 1479.7 408 1480.5 408.3 1483.7 411.8 1485.4 413.3 1487 414.1 1487.8 414 1488.6 413.1 1489 412 1490.2 406.6 1491 406 1491.9 406.4 1495.9 410.5 1497.5 411.5 1498.4 411.6 1499.2 411.2 1500 409.9 1501.1 405.4 1501.6 404.2 1502.4 404 1503.2 404.5 1507.3 408.4 1508.9 409 1509.7 408.9 1510.5 408.2 1511.1 407.1 1512.2 403.4 1513 402 1513.8 402.1 1514.6 402.6 1517 405 1518.7 406.1 1519.5 406.5 1520.3 406.5 1521.1 406.2 1521.9 405.1 1523.5 400.5 1524.4 399.9 1525.2 400.1 1529.2 403.5 1530.9 404.1 1531.7 403.9 1532.7 403 1534.9 398.1 1535.7 397.9 1536.6 398.3 1539.8 401 1541.4 401.7 1542.2 401.7 1543.1 401.3 1543.9 400.4 1545.5 396.8 1546.3 395.9 1547.1 396 1547.9 396.5 1551.2 399 1552.8 399.4 1553.6 399.2 1554.4 398.6 1556.9 394.4 1557.5 394.1 1558.5 394.3 1561.7 396.8 1563.4 397.3 1564.2 397.2 1565 396.8 1565.8 395.9 1567.4 393.1 1568.2 392.3 1569.1 392.3 1573.1 395.2 1573.9 395.4 1574.7 395.4 1575.6 395.1 1576.4 394.5 1578.8 391 1579.6 390.7 1580.4 391 1583.7 393.4 1585.3 393.8 1586.1 393.6 1586.9 393.1 1589.4 390.1 1590.2 389.5 1591 389.6 1594.3 392 1595.9 392.5 1596.7 392.4 1597.5 392.1 1600.8 388.7 1601.6 388.5 1602.4 388.9 1605.6 391.4 1607.3 391.6 1608.1 391.3 1608.9 390.8 1611.3 388.3 1612.1 387.9 1612.9 388.1 1616.2 390.7 1617 391.1 1617.8 391.2 1618.6 391 1619.4 390.6 1621.9 388.3 1622.7 387.8 1643 382.9 1657.6 379 1665 376.6 1669.8 374.8 1674.7 372.8 1678.8 370.8 1682.8 368.6 1686 366.4 1689 364 1691.4 361.5 1693.2 359.1 1694.5 356.6 1695.3 354.2 1695.6 351.8 1695.3 348.5 1694.5 346.1 1693.2 343.6 1691.4 341.2 1689 338.7 1686 336.3 1682.8 334.1 1678.8 331.9 1674.7 329.9 1669.8 327.9 1665 326.1 1657.6 323.7 1643 319.8 1622.7 314.9 1621.9 314.4 1619.4 312.1 1618.6 311.7 1617.8 311.5 1617 311.6 1616.2 312 1612.9 314.6 1612.1 314.8 1611.3 314.4 1608.9 311.9 1608.1 311.4 1607.3 311.1 1605.6 311.3 1602.4 313.8 1601.6 314.2 1600.8 314 1597.5 310.6 1596.7 310.3 1595.9 310.2 1594.3 310.7 1591 313.1 1590.2 313.2 1589.4 312.6 1586.9 309.6 1586.1 309.1 1585.3 308.9 1583.7 309.3 1580.4 311.7 1579.6 312 1578.8 311.7 1576.4 308.2 1575.6 307.6 1574.7 307.3 1573.9 307.3 1573.1 307.5 1569.1 310.4 1568.2 310.4 1567.4 309.6 1565.8 306.8 1565 305.9 1564.2 305.5 1563.4 305.4 1561.7 305.9 1558.5 308.4 1557.5 308.6 1556.9 308.3 1554.4 304.1 1553.6 303.5 1552.8 303.3 1551.2 303.7 1547.9 306.2 1547.1 306.7 1546.3 306.8 1545.5 305.9 1543.9 302.3 1543.1 301.4 1542.2 301 1541.4 301 1539.8 301.7 1536.6 304.4 1535.7 304.8 1534.9 304.6 1532.7 299.7 1531.7 298.8 1530.9 298.6 1529.2 299.2 1525.2 302.6 1524.4 302.8 1523.5 302.2 1521.9 297.6 1521.1 296.5 1520.3 296.2 1519.5 296.2 1518.7 296.6 1517 297.7 1514.6 300.1 1513.8 300.6 1513 300.7 1512.2 299.3 1511.1 295.6 1510.5 294.5 1509.7 293.8 1508.9 293.7 1507.3 294.3 1503.2 298.2 1502.4 298.7 1501.6 298.5 1501.1 297.3 1500 292.8 1499.2 291.5 1498.4 291.1 1497.5 291.2 1495.9 292.2 1491.9 296.3 1491 296.7 1490.2 296.1 1489 290.7 1488.6 289.6 1487.8 288.7 1487 288.6 1485.4 289.4 1483.7 290.9 1480.5 294.4 1479.7 294.7 1478.9 293.6 1478.1 289.1 1477.7 287.5 1477.2 286.6 1476.4 286.1 1475.6 286.2 1474 287.2 1469.9 291.7 1469.1 292.5 1468.3 292.8 1467.7 291.6 1467.5 290.8 1466.7 285.2 1465.8 283.8 1465 283.6 1464.2 283.8 1462.6 285 1458.5 289.9 1457.7 290.7 1456.9 290.9 1456.3 289.1 1455.7 283.4 1455.3 282.1 1454.5 281.2 1453.7 281.2 1452 282.2 1450.4 283.9 1447.2 288.2 1446.3 289 1445.5 289 1445.1 287.5 1444.5 281 1443.9 279.3 1443.1 278.7 1442.3 278.8 1440.7 280.1 1439 282 1435.8 286.4 1435 287.3 1434.2 287.2 1433.7 285 1433.3 278.5 1432.5 276.6 1431.7 276.3 1430.9 276.6 1429.3 278 1424.4 284.8 1423.6 285.6 1422.8 285.6 1422.4 283.4 1422.2 277.7 1422 275.7 1421.2 274.1 1420.3 274 1419.5 274.4 1417.9 276 1413 283.2 1412.2 284.1 1411.4 284 1411.1 281.8 1410.9 274.5 1410.6 272.8 1409.8 271.8 1409 271.8 1407.3 273.1 1405.1 276.1 1401.6 281.6 1400.8 282.6 1400 282.6 1399.7 280.2 1399.6 272.8 1399.2 270.4M1379.7 425.3 1383.8 432.3M1383.8 270.4 1379.7 277.4M1396.7 270.4 1394.3 273.4 1390.3 280.2 1389.5 281.2 1388.6 281.3 1388.3 278.5 1388.3 270.4" stroke="#000"/><path d="M1480.2 386.7 1480.5 386.9 1481.3 386.1 1481.8 384.3 1482.3 381 1482.9 373.1 1483.7 369.8 1484.5 371 1486.8 377.8 1488.6 382.4 1490.2 385.3 1491 386.3 1491.9 386.7 1492.7 386.4 1493.5 384.6 1495.1 372.9 1495.9 372.4 1496.7 374 1499.5 381 1500.7 383.5 1502.4 385.8 1503.2 386.3 1504 386.2 1504.9 385.1 1505.6 381.9 1506.5 375.7 1507.3 373.8 1508.1 374.5 1512.2 383.1 1513.8 385.2 1514.6 385.8 1515.4 385.8 1516.2 385 1516.5 384.3 1517.1 382.7 1517.9 377.8 1518.7 375 1519.5 375 1520.3 376.2 1522.7 381 1524.4 383.6 1525.2 384.5 1526 385.1 1526.8 385.2 1527.6 384.6 1528.2 383.5 1530 376.2 1530.9 375.4 1531.7 376.1 1534.5 381 1535.7 382.9 1536.6 383.7 1537.4 384.2 1538.2 384.4 1539 383.9 1539.8 382.6 1541.4 377 1542.2 375.6 1543.1 376 1547.1 382 1548.7 383.4 1549.6 383.5 1550.4 383.1 1551.2 382.1 1552.8 377.5 1553.6 375.8 1554.4 375.7 1555.2 376.6 1558.5 381.2 1560.1 382.5 1560.9 382.6 1561.7 382.3 1562.6 381.4 1565 375.9 1565.8 375.5 1566.6 376.1 1569.9 380.4 1571.5 381.6 1572.3 381.7 1573.1 381.4 1573.9 380.6 1576.4 375.8 1577.2 375.2 1578 375.6 1581.2 379.7 1582.9 380.8 1583.7 380.9 1584.5 380.6 1585.3 379.9 1587.7 375.6 1588.6 374.9 1589.4 375.2 1592.6 379.1 1593.4 379.8 1594.3 380.2 1595.1 380.2 1595.9 379.9 1596.7 379.2 1599.1 375.4 1599.9 374.6 1600.8 374.8 1604 378.7 1604.8 379.3 1605.6 379.7 1606.4 379.7 1607.3 379.4 1608.1 378.7 1610.5 375.2 1611.3 374.5 1612.1 374.6 1612.9 375.3 1614.8 377.8 1616.2 379.1 1617 379.4 1617.8 379.5 1618.6 379.1 1619.4 378.5 1621.9 375.2 1622.7 374.5 1630 371.7 1637.3 368.3 1643 365.1 1647.1 362.1 1650.2 359.1 1651.4 357.5 1652.3 355.8 1652.9 354.2 1653.3 352.6 1653.3 350.9 1653.1 349.3 1652.3 346.9 1650.8 344.4 1648.7 342 1645.4 339.3 1640.9 336.3 1635.7 333.6 1630 331 1622.7 328.2 1621.9 327.5 1619.4 324.2 1618.6 323.6 1617.8 323.2 1617 323.3 1616.2 323.6 1614.8 324.9 1612.9 327.4 1612.1 328.1 1611.3 328.2 1610.5 327.5 1608.1 324 1607.3 323.3 1606.4 323 1605.6 323 1604.8 323.4 1604 324 1600.8 327.9 1599.9 328.1 1599.1 327.3 1596.7 323.5 1595.9 322.8 1595.1 322.5 1594.3 322.5 1593.4 322.9 1592.6 323.6 1589.4 327.5 1588.6 327.8 1587.7 327.1 1585.3 322.8 1584.5 322.1 1583.7 321.8 1582.9 321.9 1581.2 323 1578 327.1 1577.2 327.5 1576.4 326.9 1573.9 322.1 1573.1 321.3 1572.3 321 1571.5 321.1 1569.9 322.3 1566.6 326.6 1565.8 327.2 1565 326.8 1562.6 321.3 1561.7 320.4 1560.9 320.1 1560.1 320.2 1558.5 321.5 1555.2 326.1 1554.4 327 1553.6 326.9 1552.8 325.2 1551.2 320.6 1550.4 319.6 1549.6 319.2 1548.7 319.3 1547.1 320.7 1543.1 326.7 1542.2 327.1 1541.4 325.7 1539.8 320.1 1539 318.8 1538.2 318.3 1537.4 318.5 1536.6 319 1535.7 319.8 1534.5 321.7 1531.7 326.6 1530.9 327.3 1530 326.5 1528.2 319.2 1527.6 318.1 1526.8 317.5 1526 317.6 1525.2 318.2 1524.4 319.1 1522.7 321.7 1520.3 326.5 1519.5 327.7 1518.7 327.7 1517.9 324.9 1517.1 320 1516.5 318.4 1516.2 317.7 1515.4 316.9 1514.6 316.9 1513.8 317.5 1512.2 319.6 1508.1 328.2 1507.3 328.9 1506.5 327 1505.6 320.8 1504.9 317.6 1504 316.5 1503.2 316.4 1502.4 316.9 1500.7 319.2 1499.5 321.7 1496.7 328.7 1495.9 330.3 1495.1 329.8 1493.8 320 1493.3 317.6 1492.7 316.3 1491.9 316 1491 316.4 1490.2 317.4 1488.6 320.3 1486.8 324.9 1484.5 331.7 1483.7 332.9 1482.9 329.6 1482.3 321.7 1481.8 318.4 1481.3 316.6 1480.5 315.8 1479.7 316.1 1478.9 317 1478 318.4 1476.3 322.5 1474.5 328.2 1472.4 335.8 1471.5 335.7 1470.5 321.7 1470.1 318.4 1469.9 317.5 1469.1 316 1468.3 316.1 1467.5 316.9 1466.7 318.3 1464.4 324.1 1462.3 332.2 1460.2 342.6 1459.3 337.4 1458.9 324.9 1458.5 319.9 1457.7 316.7 1456.9 316.4 1456.1 317 1454.5 320.2 1452.3 327.4 1450.9 333.9 1450.1 338.7 1449.2 347.7 1449.2 355 1450 363.1 1451.7 372.9 1453.7 380.2 1455.3 384.3 1456.1 385.7 1456.9 386.3 1457.7 386 1458 385.1 1458.5 382.8 1458.8 380.2 1459.3 365.3 1460.2 360.1 1462.3 370.5 1463.9 377 1465.8 382.6 1467.5 385.8 1468.3 386.6 1469.1 386.7 1469.9 385.2 1470.5 381 1471.5 367 1472.4 366.9 1475.2 377 1476.6 381 1478 384.3 1478.9 385.7 1479.7 386.6ZM1444.6 385.1 1445.5 385.7 1446 385.1 1446.4 384.3 1446.8 381 1447.1 375.3 1447.6 354.2 1447.5 346.1 1446.9 323.3 1446.3 318.3 1445.5 317 1444.7 317.4 1443.9 318.7 1443.1 320.5 1442.2 323.3 1440.9 328.2 1439.2 337.9 1438.6 343.6 1438.4 350.1 1438.7 359.9 1439.4 366.4 1440.2 371.3 1441.3 376.2 1442.3 379.8 1443.9 384ZM1433.2 384.3 1433.3 384.5 1434.2 384.3 1434.6 382.7 1435 380.2 1435.3 372.1 1435.5 352.6 1435.3 332.2 1435.1 323.3 1434.4 319.2 1434.2 318.4 1433.3 318.2 1432.5 319.3 1430.9 323.6 1429.1 331.4 1427.9 340.4 1427.4 350.9 1427.5 355.8 1427.8 361.5 1429.1 371.3 1430.9 379.1 1432.5 383.4ZM1421.5 382.7 1422 383.1 1422.7 381.9 1422.9 381 1423.3 376.2 1423.4 368 1423.3 328.2 1422.8 321 1422 319.6 1421.2 320.3 1420.3 322 1419.4 324.9 1418.2 330.6 1416.8 340.4 1416.4 350.1 1416.7 359.9 1417.7 369.7 1418.7 374.9 1419.5 378.2 1420.3 380.7 1421.2 382.4ZM1409.5 380.2 1409.8 380.8 1410.6 380.7 1411 378.6 1411.4 374.5 1411.5 364.8 1411.4 328.2 1411.2 324.9 1410.7 322.5 1410.6 322 1409.8 321.9 1409 323.4 1408.1 325.9 1407.3 329.4 1406.5 334.2 1405.6 342.8 1405.3 350.9 1405.6 359.9 1406.5 368.5 1407.3 373.3 1408.1 376.8 1409 379.3ZM1398 377.8 1398.4 378.3 1399.2 375.9 1399.6 364 1399.5 332.2 1399.2 326.8 1398.4 324.4 1397.6 325.4 1396.8 327.8 1395.8 332.2 1394.8 340.4 1394.4 350.1 1394.5 357.5 1395.1 365.6 1396 371.2 1396.8 374.9 1397.6 377.3ZM1386 373.7 1386.2 374.3 1387 373.8 1387.2 372.1 1387.6 366.4 1387.7 357.5 1387.5 333.9 1387 328.9 1386.2 328.4 1385.4 330.5 1384.4 336.3 1383.7 342.8 1383.4 350.9 1383.6 358.3 1384.1 364 1384.6 368.2 1385.4 372.2Z" stroke="#454560"/><path d="M1558.7 371.3 1559.3 371.6 1560.1 371.3 1561.1 369.7 1562 366.4 1563.4 359.1 1564.2 357.3 1565 359.2 1566.3 364 1567.8 368 1569.1 370.3 1569.9 371.3 1570.7 371.8 1571.5 371.7 1572.3 371 1572.6 370.5 1573.6 368 1575.6 360.8 1576.4 360.8 1579.6 368.7 1580.7 370.5 1581.2 371.2 1582.1 371.7 1582.9 371.8 1583.7 371.4 1584.5 370.3 1585.4 368 1586.9 363.2 1587.7 362.2 1588.6 362.9 1590.8 368 1591.8 369.9 1592.6 371 1593.4 371.6 1594.3 371.8 1595.1 371.5 1595.9 370.7 1596.9 368.8 1598.3 365 1599.1 363.3 1599.9 363.2 1600.8 364.5 1603.2 369.6 1604 370.7 1604.8 371.4 1605.6 371.7 1606.4 371.6 1607.3 370.9 1608.6 368.8 1610.5 364.3 1611.3 363.5 1612.1 364.2 1614.4 368.8 1615.4 370.4 1616.2 371.3 1617 371.7 1617.8 371.6 1618.6 371.1 1619.4 370.2 1620.6 368 1621.9 365.1 1622.7 363.9 1625 362.3 1626.9 360.7 1628.5 359.1 1630.4 356.6 1631.2 355 1631.9 352.6 1631.9 350.1 1631.5 348.5 1630.4 346.1 1628.5 343.6 1626 341.2 1622.7 338.8 1621.9 337.6 1620.6 334.7 1619.4 332.5 1618.6 331.6 1617.8 331.1 1617 331 1616.2 331.4 1615.4 332.3 1614.4 333.9 1612.1 338.5 1611.3 339.2 1610.5 338.4 1608.6 333.9 1607.3 331.8 1606.4 331.1 1605.6 331 1604.8 331.3 1604 332 1603.2 333.1 1600.8 338.2 1599.9 339.5 1599.1 339.4 1598.3 337.7 1596.9 333.9 1595.9 332 1595.1 331.2 1594.3 330.9 1593.4 331.1 1592.6 331.7 1591.8 332.8 1590.8 334.7 1588.6 339.8 1587.7 340.5 1586.9 339.5 1585.4 334.7 1584.5 332.4 1583.7 331.3 1582.9 330.9 1582.1 331 1581.2 331.5 1580.7 332.2 1579.6 334 1576.4 341.9 1575.6 341.9 1573.6 334.7 1572.6 332.2 1572.3 331.7 1571.5 331 1570.7 330.9 1569.9 331.4 1569.1 332.4 1567.8 334.7 1566.3 338.7 1565 343.5 1564.2 345.4 1563.4 343.6 1562.2 337.1 1561.4 333.9 1560.9 332.6 1560.1 331.4 1559.3 331.1 1558.5 331.5 1557.7 332.4 1556.9 333.9 1555.6 337.1 1553.9 343.6 1553.3 347.7 1553.1 350.9 1553.4 355.8 1554.1 359.9 1554.8 363.1 1555.8 366.4 1556.9 368.9 1557.7 370.3ZM1546.7 370.5 1547.1 370.9 1547.9 371 1548.7 370.3 1549.6 368.3 1550.7 361.5 1551.5 352.6 1551.4 347.7 1550.1 337.1 1549.6 334.4 1549.1 333 1548.7 332.4 1547.9 331.7 1547.1 331.8 1546.3 332.7 1545.5 334.1 1544.3 337.1 1543.5 340.4 1542.9 343.6 1542.3 349.3 1542.5 355.8 1543.3 361.5 1544.9 367.2 1545.5 368.6ZM1535.2 369.7 1535.7 370.1 1536.6 369.9 1537.4 368.4 1537.7 367.2 1538.6 360.7 1539 352.6 1538.8 345.2 1538.1 337.9 1537.4 334.3 1536.6 332.8 1535.7 332.6 1534.9 333.3 1534.1 334.7 1533.3 336.8 1532.6 339.6 1531.6 345.2 1531.2 350.9 1531.5 356.6 1532.4 362.3 1533.8 367.2 1534.9 369.4ZM1523.4 368 1524.4 368.6 1525.2 367.8 1525.6 366.4 1526.2 362.3 1526.7 355 1526.6 346.9 1526.1 339.6 1525.8 337.1 1525.2 334.9 1524.4 334.1 1523.5 334.5 1522.7 335.8 1521.8 338.7 1520.7 344.4 1520.3 350.1 1520.4 355.8 1521 360.7 1521.9 364.6 1522.7 366.9ZM1511.8 365.6 1512.2 366.2 1513 366 1513.8 363.2 1514.2 359.1 1514.4 353.4 1514.3 346.1 1513.8 339.6 1513 336.7 1512.2 336.5 1511.4 337.7 1510.3 341.2 1509.7 345.2 1509.4 350.1 1509.5 355 1509.9 359.1 1510.5 362.5 1511.4 365ZM1500.7 362.3 1500.8 362.5 1500.9 362.3 1501.6 360.1 1502.1 351.8 1502 346.9 1501.6 342.8 1500.8 340.2 1500 341 1499.2 344 1498.6 350.9 1498.8 355 1499.2 358.7 1500 361.7Z" stroke="#fff"/></g></g>
<path d="M1379.3 432.7v3.2M1460.57 432.7v3.2M1541.83 432.7v3.2M1623.1 432.7v3.2M1704.37 432.7v3.2M1785.63 432.7v3.2M1866.9 432.7v3.2M1379.3 270h-3.2M1379.3 351.35h-3.2M1379.3 432.7h-3.2" stroke="#000" stroke-opacity="0.42" stroke-width="1.0" fill="none"/>
<rect x="1379.3" y="270" width="487.6" height="162.7" fill="none" stroke="#000" stroke-opacity="0.42" stroke-width="1.0"/>
<text x="1379" y="454" font-size="21.2">−3</text>
<text x="1460.27" y="454" font-size="21.2">−2</text>
<text x="1541.53" y="454" font-size="21.2">−1</text>
<text x="1622.8" y="454" font-size="21.2">0</text>
<text x="1704.07" y="454" font-size="21.2">1</text>
<text x="1785.33" y="454" font-size="21.2">2</text>
<text x="1866.6" y="454" font-size="21.2">3</text>
<text x="1374.2" y="278.5" font-size="21.2" class="e">1</text>
<text x="1374.2" y="359.85" font-size="21.2" class="e">0</text>
<text x="1374.2" y="441.2" font-size="21.2" class="e">−1</text>
<text x="1622.95" y="477.6" font-size="21.2">z-axis (um)</text>
<text transform="translate(1336.5 351.35) rotate(-90) scale(1 1)" font-size="21.2">x-axis (um)</text>
<text transform="translate(1623.45 266.7) scale(1 1.025)" font-size="25.47">MUVE Excitation PSF, A = 4.0</text>
</g>
<g id="ax20">
<rect x="93.9" y="517.5" width="487.6" height="162.7" fill="#f7fcfd"/>
<g clip-path="url(#cp20)"><g filter="url(#cm2)"><rect x="92.9" y="516.5" width="489.6" height="164.7" fill="#000"/><g fill="url(#gG)"><rect x="338" y="538.6" width="4" height="120.5" opacity="1"/><rect x="342" y="538.5" width="4" height="120.6" opacity=".998"/><rect x="346" y="538.4" width="4" height="120.9" opacity=".994"/><rect x="350" y="538.2" width="4" height="121.2" opacity=".988"/><rect x="354" y="538" width="4" height="121.7" opacity=".98"/><rect x="358" y="537.8" width="3" height="122.2" opacity=".972"/><rect x="361" y="537.5" width="3" height="122.7" opacity=".965"/><rect x="364" y="537.2" width="3" height="123.2" opacity=".956"/><rect x="367" y="537" width="2" height="123.8" opacity=".948"/><rect x="369" y="536.8" width="2" height="124.2" opacity=".941"/><rect x="371" y="536.5" width="2" height="124.7" opacity=".934"/><rect x="373" y="536.3" width="2" height="125.1" opacity=".927"/><rect x="375" y="536" width="2" height="125.7" opacity=".92"/><rect x="377" y="535.8" width="2" height="126.2" opacity=".912"/><rect x="379" y="535.5" width="2" height="126.8" opacity=".904"/><rect x="381" y="535.2" width="2" height="127.4" opacity=".895"/><rect x="383" y="534.9" width="2" height="128" opacity=".887"/><rect x="385" y="534.6" width="1" height="128.4" opacity=".88"/><rect x="386" y="534.5" width="1" height="128.8" opacity=".876"/><rect x="387" y="534.3" width="1" height="129.1" opacity=".871"/><rect x="388" y="534.1" width="1" height="129.4" opacity=".867"/><rect x="389" y="534" width="1" height="129.8" opacity=".862"/><rect x="390" y="533.8" width="1" height="130.1" opacity=".857"/><rect x="391" y="533.6" width="1" height="130.5" opacity=".853"/><rect x="392" y="533.4" width="1" height="130.8" opacity=".848"/><rect x="393" y="533.2" width="1" height="131.2" opacity=".843"/><rect x="394" y="533.1" width="1" height="131.6" opacity=".839"/><rect x="395" y="532.9" width="1" height="132" opacity=".834"/><rect x="396" y="532.7" width="1" height="132.3" opacity=".829"/><rect x="397" y="532.5" width="1" height="132.7" opacity=".824"/><rect x="398" y="532.3" width="1" height="133.1" opacity=".819"/><rect x="399" y="532.1" width="1" height="133.5" opacity=".814"/><rect x="400" y="531.9" width="1" height="133.9" opacity=".81"/><rect x="401" y="531.7" width="1" height="134.3" opacity=".805"/><rect x="402" y="531.5" width="1" height="134.7" opacity=".8"/><rect x="403" y="531.3" width="1" height="135.2" opacity=".795"/><rect x="404" y="531.1" width="1" height="135.6" opacity=".79"/><rect x="405" y="530.8" width="1" height="136" opacity=".785"/><rect x="406" y="530.6" width="1" height="136.5" opacity=".78"/><rect x="407" y="530.4" width="1" height="136.9" opacity=".775"/><rect x="408" y="530.2" width="1" height="137.3" opacity=".77"/><rect x="409" y="530" width="1" height="137.8" opacity=".765"/><rect x="410" y="529.7" width="1" height="138.2" opacity=".76"/><rect x="411" y="529.5" width="1" height="138.7" opacity=".755"/><rect x="412" y="529.3" width="1" height="139.2" opacity=".75"/><rect x="413" y="529" width="1" height="139.6" opacity=".745"/><rect x="414" y="528.8" width="1" height="140.1" opacity=".74"/><rect x="415" y="528.6" width="1" height="140.6" opacity=".735"/><rect x="416" y="528.3" width="1" height="141.1" opacity=".73"/><rect x="417" y="528.1" width="1" height="141.5" opacity=".725"/><rect x="418" y="527.8" width="1" height="142" opacity=".72"/><rect x="419" y="527.6" width="1" height="142.5" opacity=".715"/><rect x="420" y="527.3" width="1" height="143" opacity=".71"/><rect x="421" y="527.1" width="1" height="143.5" opacity=".705"/><rect x="422" y="526.8" width="1" height="144" opacity=".7"/><rect x="423" y="526.6" width="1" height="144.6" opacity=".695"/><rect x="424" y="526.3" width="1" height="145.1" opacity=".69"/><rect x="425" y="526.1" width="1" height="145.6" opacity=".685"/><rect x="426" y="525.8" width="1" height="146.1" opacity=".68"/><rect x="427" y="525.5" width="1" height="146.6" opacity=".675"/><rect x="428" y="525.3" width="1" height="147.2" opacity=".67"/><rect x="429" y="525" width="1" height="147.7" opacity=".665"/><rect x="430" y="524.7" width="1" height="148.3" opacity=".661"/><rect x="431" y="524.4" width="1" height="148.8" opacity=".656"/><rect x="432" y="524.2" width="1" height="149.3" opacity=".651"/><rect x="433" y="523.9" width="1" height="149.9" opacity=".646"/><rect x="434" y="523.6" width="1" height="150.5" opacity=".641"/><rect x="435" y="523.3" width="1" height="151" opacity=".637"/><rect x="436" y="523.1" width="1" height="151.6" opacity=".632"/><rect x="437" y="522.8" width="1" height="152.1" opacity=".627"/><rect x="438" y="522.5" width="1" height="152.7" opacity=".623"/><rect x="439" y="522.2" width="1" height="153.3" opacity=".618"/><rect x="440" y="521.9" width="1" height="153.9" opacity=".613"/><rect x="441" y="521.6" width="1" height="154.4" opacity=".609"/><rect x="442" y="521.3" width="1" height="155" opacity=".604"/><rect x="443" y="521" width="1" height="155.6" opacity=".6"/><rect x="444" y="520.7" width="1" height="156.2" opacity=".595"/><rect x="445" y="520.4" width="1" height="156.8" opacity=".591"/><rect x="446" y="520.2" width="1" height="157.4" opacity=".586"/><rect x="447" y="519.9" width="1" height="158" opacity=".582"/><rect x="448" y="519.5" width="1" height="158.6" opacity=".577"/><rect x="449" y="519.2" width="1" height="159.2" opacity=".573"/><rect x="450" y="518.9" width="1" height="159.8" opacity=".568"/><rect x="451" y="518.6" width="1" height="160.4" opacity=".564"/><rect x="452" y="518.3" width="1" height="161" opacity=".56"/><rect x="453" y="518" width="1" height="161.7" opacity=".556"/><rect x="454" y="517.7" width="1" height="162.3" opacity=".551"/><rect x="455" y="517.4" width="1" height="162.9" opacity=".547"/><rect x="456" y="517.1" width="1" height="163.5" opacity=".543"/><rect x="457" y="516.8" width="1" height="164.2" opacity=".539"/><rect x="458" y="516.4" width="1" height="164.8" opacity=".535"/><rect x="459" y="516.1" width="1" height="165.4" opacity=".53"/><rect x="460" y="515.8" width="1" height="166.1" opacity=".526"/><rect x="461" y="515.5" width="1" height="166.7" opacity=".522"/><rect x="462" y="515.2" width="1" height="167.4" opacity=".518"/><rect x="463" y="514.8" width="1" height="168" opacity=".514"/><rect x="464" y="514.5" width="1" height="168.7" opacity=".51"/><rect x="465" y="514.2" width="1" height="169.3" opacity=".506"/><rect x="466" y="513.9" width="1" height="170" opacity=".503"/><rect x="467" y="513.5" width="1" height="170.6" opacity=".499"/><rect x="468" y="513.2" width="1" height="171.3" opacity=".495"/><rect x="469" y="512.9" width="1" height="172" opacity=".491"/><rect x="470" y="512.5" width="1" height="172.6" opacity=".487"/><rect x="471" y="512.2" width="1" height="173.3" opacity=".484"/><rect x="472" y="511.9" width="1" height="174" opacity=".48"/><rect x="473" y="511.5" width="1" height="174.6" opacity=".476"/><rect x="474" y="511.2" width="1" height="175.3" opacity=".472"/><rect x="475" y="510.9" width="1" height="176" opacity=".469"/><rect x="476" y="510.5" width="1" height="176.7" opacity=".465"/><rect x="477" y="510.2" width="1" height="177.3" opacity=".462"/><rect x="478" y="509.8" width="1" height="178" opacity=".458"/><rect x="479" y="509.5" width="1" height="178.7" opacity=".455"/><rect x="480" y="509.1" width="1" height="179.4" opacity=".451"/><rect x="481" y="508.8" width="1" height="180.1" opacity=".448"/><rect x="482" y="508.5" width="1" height="180.8" opacity=".444"/><rect x="483" y="508.1" width="1" height="181.5" opacity=".441"/><rect x="484" y="507.8" width="1" height="182.2" opacity=".437"/><rect x="485" y="507.4" width="1" height="182.9" opacity=".434"/><rect x="486" y="507.1" width="1" height="183.6" opacity=".431"/><rect x="487" y="506.7" width="1" height="184.3" opacity=".428"/><rect x="488" y="506.4" width="1" height="185" opacity=".424"/><rect x="489" y="506" width="1" height="185.7" opacity=".421"/><rect x="490" y="505.6" width="1" height="186.4" opacity=".418"/><rect x="491" y="505.3" width="1" height="187.1" opacity=".415"/><rect x="492" y="504.9" width="1" height="187.8" opacity=".412"/><rect x="493" y="504.6" width="1" height="188.5" opacity=".408"/><rect x="494" y="504.2" width="1" height="189.3" opacity=".405"/><rect x="495" y="503.9" width="1" height="190" opacity=".402"/><rect x="496" y="503.5" width="1" height="190.7" opacity=".399"/><rect x="497" y="503.1" width="1" height="191.4" opacity=".396"/><rect x="498" y="502.8" width="1" height="192.1" opacity=".393"/><rect x="499" y="502.4" width="1" height="192.9" opacity=".39"/><rect x="500" y="502.1" width="1" height="193.6" opacity=".387"/><rect x="501" y="501.7" width="1" height="194.3" opacity=".384"/><rect x="502" y="501.3" width="1" height="195.1" opacity=".382"/><rect x="503" y="501" width="1" height="195.8" opacity=".379"/><rect x="504" y="500.6" width="1" height="196.5" opacity=".376"/><rect x="505" y="500.2" width="1" height="197.3" opacity=".373"/><rect x="506" y="499.8" width="1" height="198" opacity=".37"/><rect x="507" y="499.5" width="1" height="198.7" opacity=".368"/><rect x="508" y="499.1" width="1" height="199.5" opacity=".365"/><rect x="509" y="498.7" width="1" height="200.2" opacity=".362"/><rect x="510" y="498.4" width="1" height="201" opacity=".359"/><rect x="511" y="498" width="1" height="201.7" opacity=".357"/><rect x="512" y="497.6" width="1" height="202.5" opacity=".354"/><rect x="513" y="497.2" width="1" height="203.2" opacity=".352"/><rect x="514" y="496.9" width="1" height="204" opacity=".349"/><rect x="515" y="496.5" width="1" height="204.7" opacity=".346"/><rect x="516" y="496.1" width="1" height="205.5" opacity=".344"/><rect x="517" y="495.7" width="1" height="206.2" opacity=".341"/><rect x="518" y="495.4" width="1" height="207" opacity=".339"/><rect x="519" y="495" width="1" height="207.7" opacity=".336"/><rect x="520" y="494.6" width="1" height="208.5" opacity=".334"/><rect x="521" y="494.2" width="1" height="209.3" opacity=".332"/><rect x="522" y="493.8" width="1" height="210" opacity=".329"/><rect x="523" y="493.5" width="1" height="210.8" opacity=".327"/><rect x="524" y="493.1" width="1" height="211.5" opacity=".324"/><rect x="525" y="492.7" width="1" height="212.3" opacity=".322"/><rect x="526" y="492.3" width="1" height="213.1" opacity=".32"/><rect x="527" y="491.9" width="1" height="213.8" opacity=".318"/><rect x="528" y="491.5" width="1" height="214.6" opacity=".315"/><rect x="529" y="491.2" width="1" height="215.4" opacity=".313"/><rect x="530" y="490.8" width="1" height="216.2" opacity=".311"/><rect x="531" y="490.4" width="1" height="216.9" opacity=".309"/><rect x="532" y="490" width="1" height="217.7" opacity=".306"/><rect x="533" y="489.6" width="1" height="218.5" opacity=".304"/><rect x="534" y="489.2" width="1" height="219.3" opacity=".302"/><rect x="535" y="488.8" width="1" height="220" opacity=".3"/><rect x="536" y="488.4" width="1" height="220.8" opacity=".298"/><rect x="537" y="488.1" width="1" height="221.6" opacity=".296"/><rect x="538" y="487.7" width="1" height="222.4" opacity=".294"/><rect x="539" y="487.3" width="1" height="223.2" opacity=".292"/><rect x="540" y="486.9" width="1" height="223.9" opacity=".29"/><rect x="541" y="486.5" width="1" height="224.7" opacity=".287"/><rect x="542" y="486.1" width="1" height="225.5" opacity=".285"/><rect x="543" y="485.7" width="1" height="226.3" opacity=".284"/><rect x="544" y="485.3" width="1" height="227.1" opacity=".282"/><rect x="545" y="484.9" width="1" height="227.9" opacity=".28"/><rect x="546" y="484.5" width="1" height="228.7" opacity=".278"/><rect x="547" y="484.1" width="1" height="229.5" opacity=".276"/><rect x="548" y="483.7" width="1" height="230.3" opacity=".274"/><rect x="549" y="483.3" width="1" height="231" opacity=".272"/><rect x="550" y="482.9" width="1" height="231.8" opacity=".27"/><rect x="551" y="482.5" width="1" height="232.6" opacity=".268"/><rect x="552" y="482.1" width="1" height="233.4" opacity=".266"/><rect x="553" y="481.7" width="1" height="234.2" opacity=".265"/><rect x="554" y="481.3" width="1" height="235" opacity=".263"/><rect x="555" y="480.9" width="1" height="235.8" opacity=".261"/><rect x="556" y="480.5" width="1" height="236.6" opacity=".259"/><rect x="557" y="480.1" width="1" height="237.4" opacity=".258"/><rect x="558" y="479.7" width="1" height="238.2" opacity=".256"/><rect x="559" y="479.3" width="1" height="239" opacity=".254"/><rect x="560" y="478.9" width="1" height="239.8" opacity=".252"/><rect x="561" y="478.5" width="1" height="240.6" opacity=".251"/><rect x="562" y="478.1" width="1" height="241.5" opacity=".249"/><rect x="563" y="477.7" width="1" height="242.3" opacity=".247"/><rect x="564" y="477.3" width="1" height="243.1" opacity=".246"/><rect x="565" y="476.9" width="1" height="243.9" opacity=".244"/><rect x="566" y="476.5" width="1" height="244.7" opacity=".243"/><rect x="567" y="476.1" width="1" height="245.5" opacity=".241"/><rect x="568" y="475.7" width="1" height="246.3" opacity=".239"/><rect x="569" y="475.3" width="1" height="247.1" opacity=".238"/><rect x="570" y="474.9" width="1" height="247.9" opacity=".236"/><rect x="571" y="474.5" width="1" height="248.7" opacity=".235"/><rect x="572" y="474.1" width="1" height="249.6" opacity=".233"/><rect x="573" y="473.7" width="1" height="250.4" opacity=".232"/><rect x="574" y="473.3" width="1" height="251.2" opacity=".23"/><rect x="575" y="472.8" width="1" height="252" opacity=".229"/><rect x="576" y="472.4" width="1" height="252.8" opacity=".227"/><rect x="577" y="472" width="1" height="253.6" opacity=".226"/><rect x="578" y="471.6" width="1" height="254.5" opacity=".224"/><rect x="579" y="471.2" width="1" height="255.3" opacity=".223"/><rect x="580" y="470.7" width="1.5" height="256.3" opacity=".221"/></g></g><g fill="none" stroke-width="1.1" stroke-dasharray="4.15 1.5"><path d="M580.7 529.5 463.4 547.6 440.6 550.9 415.1 554.1 400.1 555.7 380.8 557.4 356.4 558.7 338.5 559.1 337.7 562.2 337.1 568.8 336.9 598 337.1 628.9 337.7 635.5 338.5 638.6 356.4 639 380.8 640.3 400.1 642 415.1 643.6 440.6 646.8 463.4 650.1 580.7 668.2" stroke="#000"/><path d="M580.7 563.8 562.8 563.4 544.9 563.3 527.1 563.5 507.5 564 476.7 565.2 407.3 568.8 385.6 569.7 364.5 570.4 338.5 570.7 337.7 575.3 337.3 580.1 337.1 598 337.3 617.6 337.7 622.4 338.5 627 364.5 627.3 385.6 628 407.3 628.9 476.7 632.5 507.5 633.7 527.1 634.2 544.9 634.4 562.8 634.3 580.7 633.9" stroke="#454560"/><path d="M349.3 619.2 403.5 619.4 434.4 619 449 618.6 462 617.9 473.4 617.1 485.6 615.9 497.9 614.3 507.2 612.7 515.7 610.7 520.3 609.4 523.8 608.2 528.5 606.2 531.3 604.5 533.4 602.9 534.7 601.3 535.4 599.7 535.4 598 534.7 596.4 533.4 594.8 531.3 593.2 528.5 591.5 525.4 590.1 520.3 588.3 514 586.5 504.3 584.5 494.5 582.9 481.5 581.3 470.2 580.3 458.8 579.6 445.8 579 431.2 578.6 401.9 578.3 338.5 578.5 338 581.8 337.6 586.6 337.4 598 337.6 611.1 338 615.9 338.5 619.2Z" stroke="#fff"/></g></g>
<path d="M93.9 680.2v3.2M175.17 680.2v3.2M256.43 680.2v3.2M337.7 680.2v3.2M418.97 680.2v3.2M500.23 680.2v3.2M581.5 680.2v3.2M93.9 517.5h-3.2M93.9 598.85h-3.2M93.9 680.2h-3.2" stroke="#000" stroke-opacity="0.42" stroke-width="1.0" fill="none"/>
<rect x="93.9" y="517.5" width="487.6" height="162.7" fill="none" stroke="#000" stroke-opacity="0.42" stroke-width="1.0"/>
<text x="94.9" y="701.6" font-size="21.2">−3</text>
<text x="176.17" y="701.6" font-size="21.2">−2</text>
<text x="257.43" y="701.6" font-size="21.2">−1</text>
<text x="338.7" y="701.6" font-size="21.2">0</text>
<text x="419.97" y="701.6" font-size="21.2">1</text>
<text x="501.23" y="701.6" font-size="21.2">2</text>
<text x="582.5" y="701.6" font-size="21.2">3</text>
<text x="90.05" y="525.85" font-size="21.2" class="e">1</text>
<text x="90.05" y="607.2" font-size="21.2" class="e">0</text>
<text x="90.05" y="688.55" font-size="21.2" class="e">−1</text>
<text x="338.55" y="725.1" font-size="21.2">z-axis (um)</text>
<text transform="translate(51.1 598.85) rotate(-90) scale(1 1)" font-size="21.2">x-axis (um)</text>
<text transform="translate(338.9 513.2) scale(1 1.025)" font-size="25.47">MUVE Emission PSF, A = 0.0</text>
</g>
<g id="ax21">
<rect x="736.5" y="517.5" width="487.6" height="162.7" fill="#f7fcfd"/>
<g clip-path="url(#cp21)"><g filter="url(#cm2)"><rect x="735.5" y="516.5" width="489.6" height="164.7" fill="#000"/><g fill="url(#gG)"><rect x="980" y="538.6" width="1" height="120.5" opacity=".995"/><rect x="981" y="538.6" width="1" height="120.5" opacity=".971"/><rect x="982" y="538.6" width="1" height="120.5" opacity=".947"/><rect x="983" y="538.6" width="1" height="120.5" opacity=".924"/><rect x="984" y="538.6" width="1" height="120.6" opacity=".901"/><rect x="985" y="538.6" width="1" height="120.6" opacity=".878"/><rect x="986" y="538.5" width="1" height="120.6" opacity=".857"/><rect x="987" y="538.5" width="1" height="120.7" opacity=".835"/><rect x="988" y="538.5" width="1" height="120.7" opacity=".814"/><rect x="989" y="538.5" width="1" height="120.8" opacity=".793"/><rect x="990" y="538.4" width="1" height="120.9" opacity=".773"/><rect x="991" y="538.4" width="1" height="120.9" opacity=".753"/><rect x="992" y="538.3" width="1" height="121" opacity=".734"/><rect x="993" y="538.3" width="1" height="121.1" opacity=".715"/><rect x="994" y="538.2" width="1" height="121.2" opacity=".697"/><rect x="995" y="538.2" width="1" height="121.3" opacity=".679"/><rect x="996" y="538.1" width="1" height="121.4" opacity=".661"/><rect x="997" y="538.1" width="1" height="121.6" opacity=".644"/><rect x="998" y="538" width="1" height="121.7" opacity=".627"/><rect x="999" y="537.9" width="1" height="121.8" opacity=".61"/><rect x="1000" y="537.9" width="1" height="122" opacity=".594"/><rect x="1001" y="537.8" width="1" height="122.1" opacity=".578"/><rect x="1002" y="537.7" width="1" height="122.3" opacity=".563"/><rect x="1003" y="537.6" width="1" height="122.4" opacity=".547"/><rect x="1004" y="537.6" width="1" height="122.6" opacity=".533"/><rect x="1005" y="537.5" width="1" height="122.8" opacity=".518"/><rect x="1006" y="537.4" width="1" height="122.9" opacity=".504"/><rect x="1007" y="537.3" width="1" height="123.1" opacity=".49"/><rect x="1008" y="537.2" width="1" height="123.3" opacity=".477"/><rect x="1009" y="537.1" width="1" height="123.5" opacity=".464"/><rect x="1010" y="537" width="1" height="123.7" opacity=".451"/><rect x="1011" y="536.9" width="1" height="123.9" opacity=".439"/><rect x="1012" y="536.8" width="1" height="124.2" opacity=".426"/><rect x="1013" y="536.7" width="1" height="124.4" opacity=".414"/><rect x="1014" y="536.5" width="1" height="124.6" opacity=".403"/><rect x="1015" y="536.4" width="1" height="124.9" opacity=".392"/><rect x="1016" y="536.3" width="1" height="125.1" opacity=".381"/><rect x="1017" y="536.2" width="1" height="125.4" opacity=".37"/><rect x="1018" y="536" width="1" height="125.6" opacity=".359"/><rect x="1019" y="535.9" width="1" height="125.9" opacity=".349"/><rect x="1020" y="535.8" width="1" height="126.2" opacity=".339"/><rect x="1021" y="535.6" width="1" height="126.5" opacity=".329"/><rect x="1022" y="535.5" width="1" height="126.7" opacity=".32"/><rect x="1023" y="535.3" width="1" height="127" opacity=".311"/><rect x="1024" y="535.2" width="1" height="127.3" opacity=".302"/><rect x="1025" y="535" width="1" height="127.6" opacity=".293"/><rect x="1026" y="534.9" width="1" height="127.9" opacity=".285"/><rect x="1027" y="534.7" width="1" height="128.3" opacity=".276"/><rect x="1028" y="534.6" width="1" height="128.6" opacity=".268"/><rect x="1029" y="534.4" width="1" height="128.9" opacity=".26"/><rect x="1030" y="534.2" width="1" height="129.2" opacity=".253"/><rect x="1031" y="534.1" width="1" height="129.6" opacity=".245"/><rect x="1032" y="533.9" width="1" height="129.9" opacity=".238"/><rect x="1033" y="533.7" width="1" height="130.3" opacity=".231"/><rect x="1034" y="533.5" width="1" height="130.6" opacity=".224"/><rect x="1035" y="533.4" width="1" height="131" opacity=".218"/><rect x="1036" y="533.2" width="1" height="131.4" opacity=".211"/><rect x="1037" y="533" width="1" height="131.7" opacity=".205"/><rect x="1038" y="532.8" width="1" height="132.1" opacity=".199"/><rect x="1039" y="532.6" width="1" height="132.5" opacity=".193"/><rect x="1040" y="532.4" width="1" height="132.9" opacity=".187"/><rect x="1041" y="532.2" width="1" height="133.3" opacity=".181"/><rect x="1042" y="532" width="1" height="133.7" opacity=".176"/><rect x="1043" y="531.8" width="1" height="134.1" opacity=".17"/><rect x="1044" y="531.6" width="1" height="134.5" opacity=".165"/><rect x="1045" y="531.4" width="1" height="134.9" opacity=".16"/><rect x="1046" y="531.2" width="1" height="135.3" opacity=".155"/><rect x="1047" y="531" width="1" height="135.8" opacity=".151"/><rect x="1048" y="530.8" width="1" height="136.2" opacity=".146"/><rect x="1049" y="530.5" width="1" height="136.6" opacity=".142"/><rect x="1050" y="530.3" width="1" height="137.1" opacity=".137"/><rect x="1051" y="530.1" width="1" height="137.5" opacity=".133"/><rect x="1052" y="529.9" width="1" height="138" opacity=".129"/><rect x="1053" y="529.6" width="1" height="138.4" opacity=".125"/><rect x="1054" y="529.4" width="1" height="138.9" opacity=".121"/><rect x="1055" y="529.2" width="1" height="139.3" opacity=".117"/><rect x="1056" y="528.9" width="1" height="139.8" opacity=".114"/><rect x="1057" y="528.7" width="1" height="140.3" opacity=".11"/><rect x="1058" y="528.5" width="1" height="140.8" opacity=".107"/><rect x="1059" y="528.2" width="1" height="141.3" opacity=".104"/><rect x="1060" y="528" width="1" height="141.7" opacity=".1"/><rect x="1061" y="527.7" width="1" height="142.2" opacity=".097"/><rect x="1062" y="527.5" width="1" height="142.7" opacity=".094"/><rect x="1063" y="527.2" width="1" height="143.2" opacity=".091"/><rect x="1064" y="527" width="1" height="143.7" opacity=".088"/><rect x="1065" y="526.7" width="1" height="144.2" opacity=".086"/><rect x="1066" y="526.5" width="1" height="144.8" opacity=".083"/><rect x="1067" y="526.2" width="1" height="145.3" opacity=".08"/><rect x="1068" y="525.9" width="1" height="145.8" opacity=".078"/><rect x="1069" y="525.7" width="1" height="146.3" opacity=".075"/><rect x="1070" y="525.4" width="1" height="146.9" opacity=".073"/><rect x="1071" y="525.2" width="1" height="147.4" opacity=".071"/><rect x="1072" y="524.9" width="1" height="147.9" opacity=".069"/><rect x="1073" y="524.6" width="1" height="148.5" opacity=".066"/><rect x="1074" y="524.3" width="1" height="149" opacity=".064"/><rect x="1075" y="524.1" width="1" height="149.6" opacity=".062"/><rect x="1076" y="523.8" width="1" height="150.1" opacity=".06"/><rect x="1077" y="523.5" width="1" height="150.7" opacity=".058"/><rect x="1078" y="523.2" width="1" height="151.2" opacity=".057"/><rect x="1079" y="522.9" width="1" height="151.8" opacity=".055"/><rect x="1080" y="522.7" width="1" height="152.4" opacity=".053"/><rect x="1081" y="522.4" width="1" height="152.9" opacity=".051"/><rect x="1082" y="522.1" width="1" height="153.5" opacity=".05"/><rect x="1083" y="521.8" width="1" height="154.1" opacity=".048"/><rect x="1084" y="521.5" width="1" height="154.7" opacity=".047"/><rect x="1085" y="521.2" width="1" height="155.3" opacity=".045"/><rect x="1086" y="520.9" width="1" height="155.9" opacity=".044"/><rect x="1087" y="520.6" width="1" height="156.4" opacity=".042"/><rect x="1088" y="520.3" width="1" height="157" opacity=".041"/><rect x="1089" y="520" width="1" height="157.6" opacity=".04"/><rect x="1090" y="519.7" width="1" height="158.2" opacity=".039"/><rect x="1091" y="519.4" width="1" height="158.8" opacity=".037"/><rect x="1092" y="519.1" width="1" height="159.5" opacity=".036"/><rect x="1093" y="518.8" width="1" height="160.1" opacity=".035"/><rect x="1094" y="518.5" width="1" height="160.7" opacity=".034"/><rect x="1095" y="518.2" width="1" height="161.3" opacity=".033"/><rect x="1096" y="517.9" width="1" height="161.9" opacity=".032"/><rect x="1097" y="517.6" width="1" height="162.5" opacity=".031"/><rect x="1098" y="517.3" width="1" height="163.2" opacity=".03"/><rect x="1099" y="517" width="1" height="163.8" opacity=".029"/><rect x="1100" y="516.6" width="1" height="164.4" opacity=".028"/><rect x="1101" y="516.3" width="1" height="165.1" opacity=".027"/><rect x="1102" y="516" width="1" height="165.7" opacity=".026"/><rect x="1103" y="515.7" width="1" height="166.3" opacity=".025"/><rect x="1104" y="515.4" width="1" height="167" opacity=".024"/><rect x="1105" y="515" width="1" height="167.6" opacity=".024"/><rect x="1106" y="514.5" width="2" height="168.6" opacity=".023"/><rect x="1108" y="513.9" width="2" height="169.9" opacity=".021"/><rect x="1110" y="513.2" width="2" height="171.2" opacity=".02"/><rect x="1112" y="512.6" width="2" height="172.6" opacity=".019"/><rect x="1114" y="511.9" width="2" height="173.9" opacity=".017"/><rect x="1116" y="511.2" width="2" height="175.2" opacity=".016"/><rect x="1118" y="510.4" width="3" height="176.9" opacity=".015"/><rect x="1121" y="509.4" width="3" height="179" opacity=".014"/><rect x="1124" y="508.3" width="3" height="181.1" opacity=".012"/><rect x="1127" y="507.3" width="3" height="183.2" opacity=".011"/><rect x="1130" y="506.2" width="3" height="185.3" opacity=".01"/><rect x="1133" y="505.2" width="3" height="187.4" opacity=".009"/><rect x="1136" y="504.1" width="3" height="189.5" opacity=".008"/><rect x="1139" y="503" width="3" height="191.7" opacity=".008"/><rect x="1142" y="501.9" width="3" height="193.9" opacity=".007"/><rect x="1145" y="500.8" width="3" height="196.1" opacity=".006"/><rect x="1148" y="499.7" width="3" height="198.3" opacity=".006"/><rect x="1151" y="498.6" width="3" height="200.5" opacity=".005"/><rect x="1154" y="497.5" width="3" height="202.8" opacity=".005"/><rect x="1157" y="496.3" width="3" height="205" opacity=".004"/></g></g><g fill="none" stroke-width="1.1" stroke-dasharray="4.15 1.5"><path d="M980.7 637.1 981.1 638.5 996.3 637.1 1033.1 634.4 1054.3 632.6 1067.3 631.2 1078.6 629.5 1088.4 627.6 1098.1 625.2 1106.5 622.4 1114.2 619.2 1120.1 615.9 1122.5 614.3 1125.8 611.6 1127.8 609.4 1129.1 607.8 1130.2 606.2 1131.6 602.9 1132.2 599.7 1132 596.4 1131.6 594.8 1130.2 591.5 1127.8 588.3 1124.5 585 1119.3 581.3 1114.2 578.5 1107.9 575.8 1099.8 573 1091.6 570.9 1085.1 569.4 1075.4 567.7 1065.6 566.3 1054.3 565.1 1033.1 563.3 996.3 560.6 981.1 559.2 980.3 562.2 979.9 565.5 979.5 578.5 979.6 625.7 979.9 632.2Z" stroke="#000"/><path d="M980.8 625.7 981.1 626.9 1003.9 623.4 1013.6 621.7 1021.7 620 1029.9 618.2 1036.4 616.3 1042.4 614.3 1046.5 612.7 1051 610.4 1055.1 607.8 1057 606.2 1058.4 604.5 1059.5 602.9 1060.2 601.3 1060.6 599.7 1060.6 598 1060.2 596.4 1059.5 594.8 1058.4 593.2 1057 591.5 1055.1 589.9 1052.7 588.3 1049.9 586.6 1046.5 585 1038 581.9 1028.2 579.1 1015.2 576.4 1003.9 574.3 981.1 570.8 980.5 573.6 980 578.5 979.7 594.8 979.9 615.9 980.2 620.8Z" stroke="#454560"/><path d="M980.9 617.6 981.1 619 992.5 616.5 999 614.8 1005.5 612.8 1010.4 611.1 1014.1 609.4 1017.3 607.8 1019.8 606.2 1021.8 604.5 1023.2 602.9 1024.2 601.3 1024.6 599.7 1024.6 598 1024.2 596.4 1023.2 594.8 1021.8 593.2 1019.8 591.5 1015.2 588.8 1010.4 586.7 1003.9 584.4 997.4 582.5 981.1 578.7 980.4 585 980 596.4 980.2 609.4Z" stroke="#fff"/></g></g>
<path d="M736.5 680.2v3.2M817.77 680.2v3.2M899.03 680.2v3.2M980.3 680.2v3.2M1061.57 680.2v3.2M1142.83 680.2v3.2M1224.1 680.2v3.2M736.5 517.5h-3.2M736.5 598.85h-3.2M736.5 680.2h-3.2" stroke="#000" stroke-opacity="0.42" stroke-width="1.0" fill="none"/>
<rect x="736.5" y="517.5" width="487.6" height="162.7" fill="none" stroke="#000" stroke-opacity="0.42" stroke-width="1.0"/>
<text x="736.85" y="701.6" font-size="21.2">−3</text>
<text x="818.12" y="701.6" font-size="21.2">−2</text>
<text x="899.38" y="701.6" font-size="21.2">−1</text>
<text x="980.65" y="701.6" font-size="21.2">0</text>
<text x="1061.92" y="701.6" font-size="21.2">1</text>
<text x="1143.18" y="701.6" font-size="21.2">2</text>
<text x="1224.45" y="701.6" font-size="21.2">3</text>
<text x="732.05" y="525.85" font-size="21.2" class="e">1</text>
<text x="732.05" y="607.2" font-size="21.2" class="e">0</text>
<text x="732.05" y="688.55" font-size="21.2" class="e">−1</text>
<text x="980.65" y="725.1" font-size="21.2">z-axis (um)</text>
<text transform="translate(693.7 598.85) rotate(-90) scale(1 1)" font-size="21.2">x-axis (um)</text>
<text transform="translate(981.1 513.2) scale(1 1.025)" font-size="25.47">MUVE Emission PSF, A = 2.0</text>
</g>
<g id="ax22">
<rect x="1379.3" y="517.5" width="487.6" height="162.7" fill="#f7fcfd"/>
<g clip-path="url(#cp22)"><g filter="url(#cm2)"><rect x="1378.3" y="516.5" width="489.6" height="164.7" fill="#000"/><g fill="url(#gG)"><rect x="1623" y="538.6" width="1" height="120.5" opacity=".98"/><rect x="1624" y="538.6" width="1" height="120.5" opacity=".933"/><rect x="1625" y="538.6" width="1" height="120.5" opacity=".888"/><rect x="1626" y="538.6" width="1" height="120.5" opacity=".845"/><rect x="1627" y="538.6" width="1" height="120.6" opacity=".804"/><rect x="1628" y="538.5" width="1" height="120.6" opacity=".765"/><rect x="1629" y="538.5" width="1" height="120.6" opacity=".728"/><rect x="1630" y="538.5" width="1" height="120.7" opacity=".692"/><rect x="1631" y="538.5" width="1" height="120.7" opacity=".659"/><rect x="1632" y="538.4" width="1" height="120.8" opacity=".626"/><rect x="1633" y="538.4" width="1" height="120.9" opacity=".596"/><rect x="1634" y="538.4" width="1" height="121" opacity=".566"/><rect x="1635" y="538.3" width="1" height="121" opacity=".538"/><rect x="1636" y="538.3" width="1" height="121.1" opacity=".512"/><rect x="1637" y="538.2" width="1" height="121.2" opacity=".486"/><rect x="1638" y="538.2" width="1" height="121.3" opacity=".462"/><rect x="1639" y="538.1" width="1" height="121.5" opacity=".439"/><rect x="1640" y="538.1" width="1" height="121.6" opacity=".417"/><rect x="1641" y="538" width="1" height="121.7" opacity=".396"/><rect x="1642" y="537.9" width="1" height="121.8" opacity=".376"/><rect x="1643" y="537.9" width="1" height="122" opacity=".357"/><rect x="1644" y="537.8" width="1" height="122.1" opacity=".339"/><rect x="1645" y="537.7" width="1" height="122.3" opacity=".322"/><rect x="1646" y="537.6" width="1" height="122.4" opacity=".306"/><rect x="1647" y="537.5" width="1" height="122.6" opacity=".291"/><rect x="1648" y="537.5" width="1" height="122.8" opacity=".276"/><rect x="1649" y="537.4" width="1" height="123" opacity=".262"/><rect x="1650" y="537.3" width="1" height="123.2" opacity=".248"/><rect x="1651" y="537.2" width="1" height="123.4" opacity=".236"/><rect x="1652" y="537.1" width="1" height="123.6" opacity=".224"/><rect x="1653" y="537" width="1" height="123.8" opacity=".212"/><rect x="1654" y="536.9" width="1" height="124" opacity=".201"/><rect x="1655" y="536.7" width="1" height="124.2" opacity=".191"/><rect x="1656" y="536.6" width="1" height="124.4" opacity=".181"/><rect x="1657" y="536.5" width="1" height="124.7" opacity=".172"/><rect x="1658" y="536.4" width="1" height="124.9" opacity=".163"/><rect x="1659" y="536.3" width="1" height="125.2" opacity=".154"/><rect x="1660" y="536.1" width="1" height="125.4" opacity=".146"/><rect x="1661" y="536" width="1" height="125.7" opacity=".139"/><rect x="1662" y="535.9" width="1" height="126" opacity=".132"/><rect x="1663" y="535.7" width="1" height="126.2" opacity=".125"/><rect x="1664" y="535.6" width="1" height="126.5" opacity=".118"/><rect x="1665" y="535.5" width="1" height="126.8" opacity=".112"/><rect x="1666" y="535.3" width="1" height="127.1" opacity=".106"/><rect x="1667" y="535.2" width="1" height="127.4" opacity=".101"/><rect x="1668" y="535" width="1" height="127.7" opacity=".095"/><rect x="1669" y="534.8" width="1" height="128" opacity=".09"/><rect x="1670" y="534.7" width="1" height="128.3" opacity=".086"/><rect x="1671" y="534.5" width="1" height="128.6" opacity=".081"/><rect x="1672" y="534.4" width="1" height="129" opacity=".077"/><rect x="1673" y="534.2" width="1" height="129.3" opacity=".073"/><rect x="1674" y="534" width="1" height="129.6" opacity=".069"/><rect x="1675" y="533.9" width="1" height="130" opacity=".065"/><rect x="1676" y="533.7" width="1" height="130.3" opacity=".062"/><rect x="1677" y="533.5" width="1" height="130.7" opacity=".058"/><rect x="1678" y="533.3" width="1" height="131.1" opacity=".055"/><rect x="1679" y="533.1" width="1" height="131.4" opacity=".052"/><rect x="1680" y="532.9" width="1" height="131.8" opacity=".05"/><rect x="1681" y="532.8" width="1" height="132.2" opacity=".047"/><rect x="1682" y="532.6" width="1" height="132.6" opacity=".044"/><rect x="1683" y="532.4" width="1" height="133" opacity=".042"/><rect x="1684" y="532.2" width="1" height="133.4" opacity=".04"/><rect x="1685" y="532" width="1" height="133.8" opacity=".038"/><rect x="1686" y="531.8" width="1" height="134.2" opacity=".036"/><rect x="1687" y="531.6" width="1" height="134.6" opacity=".034"/><rect x="1688" y="531.4" width="1" height="135" opacity=".032"/><rect x="1689" y="531.1" width="1" height="135.4" opacity=".03"/><rect x="1690" y="530.9" width="1" height="135.8" opacity=".029"/><rect x="1691" y="530.7" width="1" height="136.3" opacity=".027"/><rect x="1692" y="530.5" width="1" height="136.7" opacity=".026"/><rect x="1693" y="530.3" width="1" height="137.2" opacity=".024"/><rect x="1694" y="530" width="1" height="137.6" opacity=".023"/><rect x="1695" y="529.8" width="1" height="138.1" opacity=".022"/><rect x="1696" y="529.6" width="1" height="138.5" opacity=".02"/><rect x="1697" y="529.4" width="1" height="139" opacity=".019"/><rect x="1698" y="529.1" width="1" height="139.4" opacity=".018"/><rect x="1699" y="528.9" width="1" height="139.9" opacity=".017"/><rect x="1700" y="528.7" width="1" height="140.4" opacity=".016"/><rect x="1701" y="528.4" width="1" height="140.9" opacity=".015"/><rect x="1702" y="528.2" width="1" height="141.4" opacity=".015"/><rect x="1703" y="527.9" width="1" height="141.8" opacity=".014"/><rect x="1704" y="527.6" width="2" height="142.6" opacity=".013"/><rect x="1706" y="527.1" width="2" height="143.6" opacity=".011"/><rect x="1708" y="526.5" width="2" height="144.6" opacity=".01"/><rect x="1710" y="525.9" width="3" height="145.9" opacity=".009"/><rect x="1713" y="525.1" width="3" height="147.5" opacity=".007"/><rect x="1716" y="524.1" width="4" height="149.4" opacity=".006"/><rect x="1720" y="523" width="4" height="151.6" opacity=".005"/></g></g><g fill="none" stroke-width="1.1" stroke-dasharray="4.15 1.5"><path d="M1623.5 637.1 1623.9 638.5 1649.9 633 1662.9 629.9 1669.4 628.1 1679.2 625 1687.3 621.8 1692.5 619.2 1697.9 615.9 1702 612.7 1705.1 609.4 1707.3 606.2 1708.6 602.9 1709.2 599.7 1709 596.4 1708.1 593.2 1707.3 591.5 1706.3 589.9 1703.7 586.6 1700.3 583.6 1697.9 581.8 1693.8 579.2 1690.6 577.5 1682.4 573.9 1674.3 571.1 1662.9 567.8 1649.9 564.7 1623.9 559.2 1623.1 562.2 1622.7 565.5 1622.5 570.4 1622.3 580.1 1622.4 625.7 1622.7 632.2Z" stroke="#000"/><path d="M1623.7 625.7 1623.9 626.8 1638.5 621.9 1648.3 618 1655.4 614.3 1660.1 611.1 1663.7 607.8 1665 606.2 1666.8 602.9 1667.3 601.3 1667.6 599.7 1667.6 598 1667.3 596.4 1666.8 594.8 1665 591.5 1662.1 588.3 1657.9 585 1651.5 581.3 1643.4 577.6 1635.3 574.6 1623.9 570.9 1623.4 573.6 1622.9 578.5 1622.5 594.8 1622.7 615.9 1623 620.8Z" stroke="#454560"/><path d="M1623.7 617.6 1623.9 618.8 1628.8 616.7 1635.3 613.2 1640.2 609.8 1642.5 607.8 1644 606.2 1645.1 604.5 1646 602.9 1646.6 601.3 1646.9 599.7 1646.9 598 1646.6 596.4 1646 594.8 1644 591.5 1641.8 589.3 1638.6 586.6 1635.3 584.5 1630.3 581.8 1623.9 578.9 1623.5 581.8 1623.1 586.6 1622.8 596.4 1623 609.4Z" stroke="#fff"/></g></g>
<path d="M1379.3 680.2v3.2M1460.57 680.2v3.2M1541.83 680.2v3.2M1623.1 680.2v3.2M1704.37 680.2v3.2M1785.63 680.2v3.2M1866.9 680.2v3.2M1379.3 517.5h-3.2M1379.3 598.85h-3.2M1379.3 680.2h-3.2" stroke="#000" stroke-opacity="0.42" stroke-width="1.0" fill="none"/>
<rect x="1379.3" y="517.5" width="487.6" height="162.7" fill="none" stroke="#000" stroke-opacity="0.42" stroke-width="1.0"/>
<text x="1379" y="701.6" font-size="21.2">−3</text>
<text x="1460.27" y="701.6" font-size="21.2">−2</text>
<text x="1541.53" y="701.6" font-size="21.2">−1</text>
<text x="1622.8" y="701.6" font-size="21.2">0</text>
<text x="1704.07" y="701.6" font-size="21.2">1</text>
<text x="1785.33" y="701.6" font-size="21.2">2</text>
<text x="1866.6" y="701.6" font-size="21.2">3</text>
<text x="1374.2" y="525.85" font-size="21.2" class="e">1</text>
<text x="1374.2" y="607.2" font-size="21.2" class="e">0</text>
<text x="1374.2" y="688.55" font-size="21.2" class="e">−1</text>
<text x="1622.95" y="725.1" font-size="21.2">z-axis (um)</text>
<text transform="translate(1336.5 598.85) rotate(-90) scale(1 1)" font-size="21.2">x-axis (um)</text>
<text transform="translate(1623.45 513.2) scale(1 1.025)" font-size="25.47">MUVE Emission PSF, A = 4.0</text>
</g>
<g id="ax30">
<rect x="61" y="763.9" width="553.6" height="163.5" fill="#fff"/>
<g fill="none" stroke-width="2.14" stroke-dasharray="7.9 3.4" stroke-linejoin="round"><path d="M86.3 917.1 94.7 916.5 101.4 916.1 108.1 915.9 128.2 915.5 146.7 914.3 163.5 913.8 170.2 913.5 175.2 913 185.3 911.5 190.3 910.9 202.1 909.8 210.4 909.3 213.8 909 215.5 908.7 217.2 908.3 218.8 907.8 228.9 904.2 232.3 903.1 235.6 902.1 239 901.4 250.7 899.1 254.1 898.4 255.7 897.9 259.1 896.6 260.8 895.8 262.5 894.9 265.8 892.8 267.5 891.4 272.5 886.8 277.6 881.6 279.2 880.1 280.9 878.8 285.9 875.1 291 871.9 296 868.5 297.7 867.1 299.4 865.4 301 863.2 302.7 860.5 304.4 857.3 307.8 849.7 309.4 846.1 311.1 842 312.8 837.4 314.5 832.2 316.1 826.3 324.5 794.5 326.2 788.7 327.9 783.7 329.6 779.2 331.2 776 332.9 773.6 334.6 772.3 336.3 771.4 338 771 339.6 771.4 341.3 772.3 343 773.6 344.7 776 346.3 779.2 348 783.7 349.7 788.7 351.4 794.5 359.8 826.3 361.4 832.2 363.1 837.4 364.8 842 366.5 846.1 368.1 849.7 371.5 857.3 373.2 860.5 374.9 863.2 376.5 865.4 378.2 867.1 379.9 868.5 384.9 871.9 390 875.1 395 878.8 396.7 880.1 398.3 881.6 403.4 886.8 408.4 891.4 410.1 892.8 413.4 894.9 415.1 895.8 416.8 896.6 420.2 897.9 421.8 898.4 425.2 899.1 436.9 901.4 440.3 902.1 443.6 903.1 447 904.2 457.1 907.8 458.7 908.3 460.4 908.7 462.1 909 465.5 909.3 473.8 909.8 485.6 910.9 490.6 911.5 500.7 913 505.7 913.5 512.4 913.8 529.2 914.3 547.7 915.5 567.8 915.9 574.5 916.1 581.2 916.5 589.6 917.1" stroke="#1f77b4"/><path d="M86.3 919.6 96.4 919.2 106.4 919 111.5 919.1 124.9 919.6 129.9 919.6 133.3 919.5 143.3 918.8 148.4 918.7 153.4 918.9 165.2 919.5 170.2 919.6 171.9 919.6 175.2 919.4 183.6 918.4 188.6 918.1 190.3 918.1 193.7 918.3 203.7 919.2 207.1 919.4 208.8 919.4 210.4 919.2 213.8 918.7 225.5 916.4 227.2 916.1 230.6 915.9 233.9 915.8 237.3 915.9 239 916 245.7 917 250.7 918 252.4 918.1 254.1 918 257.4 917.6 259.1 917.2 260.8 916.6 265.8 914.2 269.2 912.3 274.2 909.9 275.9 909.2 277.6 908.6 279.2 908.3 280.9 908.2 282.6 908.4 285.9 909 287.6 909.6 294.3 913.1 296 913.6 297.7 913.2 299.4 912.1 301 910.7 302.7 908.1 304.4 905 306.1 901.2 307.8 896.5 309.4 889.9 311.1 882.8 314.5 867.8 317.8 849.8 326.2 802.7 327.9 793.9 329.6 786.5 331.2 780.3 332.9 775.6 334.6 772.9 336.3 771.6 338 771 339.6 771.6 341.3 772.9 343 775.6 344.7 780.3 346.3 786.5 348 793.9 349.7 802.7 358.1 849.8 361.4 867.8 364.8 882.8 366.5 889.9 368.1 896.5 369.8 901.2 371.5 905 373.2 908.1 374.9 910.7 376.5 912.1 378.2 913.2 379.9 913.6 381.6 913.1 388.3 909.6 390 909 393.3 908.4 395 908.2 396.7 908.3 398.3 908.6 400 909.2 401.7 909.9 406.7 912.3 410.1 914.2 415.1 916.6 416.8 917.2 418.5 917.6 421.8 918 423.5 918.1 425.2 918 430.2 917 436.9 916 438.6 915.9 442 915.8 445.3 915.9 448.7 916.1 450.4 916.4 462.1 918.7 465.5 919.2 467.1 919.4 468.8 919.4 472.2 919.2 482.2 918.3 485.6 918.1 487.3 918.1 492.3 918.4 500.7 919.4 504 919.6 505.7 919.6 510.7 919.5 522.5 918.9 527.5 918.7 532.6 918.8 542.6 919.5 546 919.6 551 919.6 564.4 919.1 569.5 919 579.5 919.2 589.6 919.6" stroke="#ff7f0e" stroke-dashoffset="5.6"/><path d="M86.3 919.6 96.4 919.2 106.4 919 111.5 919.1 124.9 919.6 129.9 919.6 133.3 919.5 143.3 918.8 148.4 918.7 153.4 918.9 165.2 919.5 170.2 919.6 171.9 919.6 175.2 919.4 183.6 918.4 188.6 918.1 190.3 918.1 193.7 918.3 203.7 919.3 207.1 919.4 208.8 919.4 210.4 919.3 213.8 918.9 225.5 916.9 227.2 916.7 230.6 916.5 235.6 916.4 237.3 916.4 240.6 916.7 245.7 917.3 250.7 918.2 252.4 918.3 254.1 918.2 255.7 917.9 259.1 917.3 260.8 916.7 262.5 915.9 265.8 914.4 269.2 912.7 270.8 912 274.2 910.8 275.9 910.3 277.6 910 279.2 910 280.9 910.2 282.6 910.6 285.9 911.6 287.6 912.3 291 913.8 294.3 915.1 296 915.3 297.7 914.6 299.4 913.3 301 911.5 302.7 908.7 304.4 905.4 306.1 901.6 307.8 896.7 309.4 890 311.1 882.9 314.5 867.8 317.8 849.8 326.2 802.7 327.9 793.9 329.6 786.5 331.2 780.3 332.9 775.6 334.6 772.9 336.3 771.6 338 771 339.6 771.6 341.3 772.9 343 775.6 344.7 780.3 346.3 786.5 348 793.9 349.7 802.7 358.1 849.8 361.4 867.8 364.8 882.9 366.5 890 368.1 896.7 369.8 901.6 371.5 905.4 373.2 908.7 374.9 911.5 376.5 913.3 378.2 914.6 379.9 915.3 381.6 915.1 384.9 913.8 388.3 912.3 390 911.6 393.3 910.6 395 910.2 396.7 910 398.3 910 400 910.3 401.7 910.8 405.1 912 406.7 912.7 410.1 914.4 413.4 915.9 415.1 916.7 416.8 917.3 420.2 917.9 421.8 918.2 423.5 918.3 425.2 918.2 430.2 917.3 435.3 916.7 438.6 916.4 440.3 916.4 445.3 916.5 448.7 916.7 450.4 916.9 462.1 918.9 465.5 919.3 467.1 919.4 468.8 919.4 472.2 919.3 482.2 918.3 485.6 918.1 487.3 918.1 492.3 918.4 500.7 919.4 504 919.6 505.7 919.6 510.7 919.5 522.5 918.9 527.5 918.7 532.6 918.8 542.6 919.5 546 919.6 551 919.6 564.4 919.1 569.5 919 579.5 919.2 589.6 919.6" stroke="#2ca02c"/></g><path d="M86.3 919.9 336.3 919.9 338 771 341.3 771.1 346.3 771.6 351.4 772.5 356.4 773.8 361.4 775.5 366.5 777.5 371.5 779.8 376.5 782.5 379.9 784.4 384.9 787.4 390 790.6 395 794 405.1 801 423.5 814.3 433.6 821.4 443.6 828.3 453.7 834.8 463.8 841 473.8 846.7 483.9 852 488.9 854.5 495.7 857.7 505.7 862.1 510.7 864.2 517.5 866.8 527.5 870.5 539.3 874.4 551 877.9 562.8 881 576.2 884.3 589.6 887.2" fill="none" stroke="#000" stroke-width="2.9" stroke-linecap="square" stroke-linejoin="round"/>
<path d="M86.3 927.4v3.2M170.18 927.4v3.2M254.07 927.4v3.2M337.95 927.4v3.2M421.83 927.4v3.2M505.72 927.4v3.2M589.6 927.4v3.2M61 919.9h-3.2M61 845.45h-3.2M61 771h-3.2" stroke="#000" stroke-opacity="0.42" stroke-width="1.0" fill="none"/>
<path d="M61 763.9V927.4H614.6V763.9" fill="none" stroke="#000" stroke-opacity="0.42" stroke-width="1.0"/>
<path d="M61 763.9H614.6" fill="none" stroke="#000" stroke-opacity=".22" stroke-width="1.0"/>
<text x="86.55" y="948.2" font-size="21.2">−3</text>
<text x="170.43" y="948.2" font-size="21.2">−2</text>
<text x="254.32" y="948.2" font-size="21.2">−1</text>
<text x="338.2" y="948.2" font-size="21.2">0</text>
<text x="422.08" y="948.2" font-size="21.2">1</text>
<text x="505.97" y="948.2" font-size="21.2">2</text>
<text x="589.85" y="948.2" font-size="21.2">3</text>
<text x="56.95" y="928.9" font-size="21.2" class="e">0.0</text>
<text x="56.95" y="854.45" font-size="21.2" class="e">0.5</text>
<text x="56.95" y="780" font-size="21.2" class="e">1.0</text>
<text x="338.4" y="971" font-size="21.2">z-axis (um)</text>
<text transform="translate(15.85 845.65) rotate(-90) scale(1 1)" font-size="21.2">normalized intensity</text>
<text transform="translate(338.15 759.9) scale(1 1.025)" font-size="25.47">PSF Profiles with MUVE A = 0.0</text>
<rect x="69.7" y="772.6" width="202" height="110" rx="3" fill="#fff" fill-opacity=".8" stroke="#ccc" stroke-opacity=".8" stroke-width="1"/>
<path d="M76.7 786.8h35.6" stroke="#1f77b4" stroke-width="2.14" stroke-dasharray="7.9 3.4" fill="none"/>
<text x="127.2" y="793.6" font-size="17.62" class="s">confocal, 0.4NA</text>
<path d="M76.7 812.95h35.6" stroke="#ff7f0e" stroke-width="2.14" stroke-dasharray="7.9 3.4" fill="none"/>
<text x="127.2" y="819.75" font-size="17.62" class="s">confocal, 0.8NA</text>
<path d="M76.7 839.1h35.6" stroke="#2ca02c" stroke-width="2.14" stroke-dasharray="7.9 3.4" fill="none"/>
<text x="127.2" y="845.9" font-size="17.62" class="s">confocal, 1.0NA</text>
<path d="M76.7 865.25h35.6" stroke="#000" stroke-width="2.9" stroke-linecap="square" fill="none"/>
<text x="127.2" y="872.05" font-size="17.62" class="s">MUVE</text>
</g>
<g id="ax31">
<rect x="703.6" y="763.9" width="553.6" height="163.5" fill="#fff"/>
<g fill="none" stroke-width="2.14" stroke-dasharray="7.9 3.4" stroke-linejoin="round"><path d="M728.9 917.1 737.3 916.5 744 916.1 750.7 915.9 770.8 915.5 789.3 914.3 806.1 913.8 812.8 913.5 817.8 913 827.9 911.5 832.9 910.9 844.7 909.8 853 909.3 856.4 909 858.1 908.7 859.8 908.3 861.4 907.8 871.5 904.2 874.9 903.1 878.2 902.1 881.6 901.4 893.3 899.1 896.7 898.4 898.3 897.9 901.7 896.6 903.4 895.8 905.1 894.9 908.4 892.8 910.1 891.4 915.1 886.8 920.2 881.6 921.8 880.1 923.5 878.8 928.5 875.1 933.6 871.9 938.6 868.5 940.3 867.1 942 865.4 943.6 863.2 945.3 860.5 947 857.3 950.4 849.7 952 846.1 953.7 842 955.4 837.4 957.1 832.2 958.7 826.3 967.1 794.5 968.8 788.7 970.5 783.7 972.2 779.2 973.8 776 975.5 773.6 977.2 772.3 978.9 771.4 980.6 771 982.2 771.4 983.9 772.3 985.6 773.6 987.3 776 988.9 779.2 990.6 783.7 992.3 788.7 994 794.5 1002.4 826.3 1004 832.2 1005.7 837.4 1007.4 842 1009.1 846.1 1010.7 849.7 1014.1 857.3 1015.8 860.5 1017.5 863.2 1019.1 865.4 1020.8 867.1 1022.5 868.5 1027.5 871.9 1032.6 875.1 1037.6 878.8 1039.3 880.1 1040.9 881.6 1046 886.8 1051 891.4 1052.7 892.8 1056 894.9 1057.7 895.8 1059.4 896.6 1062.8 897.9 1064.4 898.4 1067.8 899.1 1079.5 901.4 1082.9 902.1 1086.2 903.1 1089.6 904.2 1099.7 907.8 1101.3 908.3 1103 908.7 1104.7 909 1108.1 909.3 1116.4 909.8 1128.2 910.9 1133.2 911.5 1143.3 913 1148.3 913.5 1155 913.8 1171.8 914.3 1190.3 915.5 1210.4 915.9 1217.1 916.1 1223.8 916.5 1232.2 917.1" stroke="#1f77b4"/><path d="M728.9 919.6 739 919.2 749 919 754.1 919.1 767.5 919.6 772.5 919.6 775.9 919.5 785.9 918.8 791 918.7 796 918.9 807.8 919.5 812.8 919.6 814.5 919.6 817.8 919.4 826.2 918.4 831.2 918.1 832.9 918.1 836.3 918.3 846.3 919.2 849.7 919.4 851.4 919.4 853 919.2 856.4 918.7 868.1 916.4 869.8 916.1 873.2 915.9 876.5 915.8 879.9 915.9 881.6 916 888.3 917 893.3 918 895 918.1 896.7 918 900 917.6 901.7 917.2 903.4 916.6 908.4 914.2 911.8 912.3 916.8 909.9 918.5 909.2 920.2 908.6 921.8 908.3 923.5 908.2 925.2 908.4 928.5 909 930.2 909.6 936.9 913.1 938.6 913.6 940.3 913.2 942 912.1 943.6 910.7 945.3 908.1 947 905 948.7 901.2 950.4 896.5 952 889.9 953.7 882.8 957.1 867.8 960.4 849.8 968.8 802.7 970.5 793.9 972.2 786.5 973.8 780.3 975.5 775.6 977.2 772.9 978.9 771.6 980.6 771 982.2 771.6 983.9 772.9 985.6 775.6 987.3 780.3 988.9 786.5 990.6 793.9 992.3 802.7 1000.7 849.8 1004 867.8 1007.4 882.8 1009.1 889.9 1010.7 896.5 1012.4 901.2 1014.1 905 1015.8 908.1 1017.5 910.7 1019.1 912.1 1020.8 913.2 1022.5 913.6 1024.2 913.1 1030.9 909.6 1032.6 909 1035.9 908.4 1037.6 908.2 1039.3 908.3 1040.9 908.6 1042.6 909.2 1044.3 909.9 1049.3 912.3 1052.7 914.2 1057.7 916.6 1059.4 917.2 1061.1 917.6 1064.4 918 1066.1 918.1 1067.8 918 1072.8 917 1079.5 916 1081.2 915.9 1084.6 915.8 1087.9 915.9 1091.3 916.1 1093 916.4 1104.7 918.7 1108.1 919.2 1109.7 919.4 1111.4 919.4 1114.8 919.2 1124.8 918.3 1128.2 918.1 1129.9 918.1 1134.9 918.4 1143.3 919.4 1146.6 919.6 1148.3 919.6 1153.3 919.5 1165.1 918.9 1170.1 918.7 1175.2 918.8 1185.2 919.5 1188.6 919.6 1193.6 919.6 1207 919.1 1212.1 919 1222.1 919.2 1232.2 919.6" stroke="#ff7f0e" stroke-dashoffset="5.6"/><path d="M728.9 919.6 739 919.2 749 919 754.1 919.1 767.5 919.6 772.5 919.6 775.9 919.5 785.9 918.8 791 918.7 796 918.9 807.8 919.5 812.8 919.6 814.5 919.6 817.8 919.4 826.2 918.4 831.2 918.1 832.9 918.1 836.3 918.3 846.3 919.3 849.7 919.4 851.4 919.4 853 919.3 856.4 918.9 868.1 916.9 869.8 916.7 873.2 916.5 878.2 916.4 879.9 916.4 883.2 916.7 888.3 917.3 893.3 918.2 895 918.3 896.7 918.2 898.3 917.9 901.7 917.3 903.4 916.7 905.1 915.9 908.4 914.4 911.8 912.7 913.4 912 916.8 910.8 918.5 910.3 920.2 910 921.8 910 923.5 910.2 925.2 910.6 928.5 911.6 930.2 912.3 933.6 913.8 936.9 915.1 938.6 915.3 940.3 914.6 942 913.3 943.6 911.5 945.3 908.7 947 905.4 948.7 901.6 950.4 896.7 952 890 953.7 882.9 957.1 867.8 960.4 849.8 968.8 802.7 970.5 793.9 972.2 786.5 973.8 780.3 975.5 775.6 977.2 772.9 978.9 771.6 980.6 771 982.2 771.6 983.9 772.9 985.6 775.6 987.3 780.3 988.9 786.5 990.6 793.9 992.3 802.7 1000.7 849.8 1004 867.8 1007.4 882.9 1009.1 890 1010.7 896.7 1012.4 901.6 1014.1 905.4 1015.8 908.7 1017.5 911.5 1019.1 913.3 1020.8 914.6 1022.5 915.3 1024.2 915.1 1027.5 913.8 1030.9 912.3 1032.6 911.6 1035.9 910.6 1037.6 910.2 1039.3 910 1040.9 910 1042.6 910.3 1044.3 910.8 1047.7 912 1049.3 912.7 1052.7 914.4 1056 915.9 1057.7 916.7 1059.4 917.3 1062.8 917.9 1064.4 918.2 1066.1 918.3 1067.8 918.2 1072.8 917.3 1077.9 916.7 1081.2 916.4 1082.9 916.4 1087.9 916.5 1091.3 916.7 1093 916.9 1104.7 918.9 1108.1 919.3 1109.7 919.4 1111.4 919.4 1114.8 919.3 1124.8 918.3 1128.2 918.1 1129.9 918.1 1134.9 918.4 1143.3 919.4 1146.6 919.6 1148.3 919.6 1153.3 919.5 1165.1 918.9 1170.1 918.7 1175.2 918.8 1185.2 919.5 1188.6 919.6 1193.6 919.6 1207 919.1 1212.1 919 1222.1 919.2 1232.2 919.6" stroke="#2ca02c"/></g><path d="M728.9 919.9 978.9 919.9 980.6 771 983.9 782.5 985.6 788 988.9 798.5 992.3 808.2 994 812.9 997.3 821.6 1000.7 829.8 1002.4 833.7 1005.7 841 1009.1 847.8 1010.7 850.9 1014.1 857 1017.5 862.5 1019.1 865.1 1022.5 870 1024.2 872.3 1027.5 876.7 1029.2 878.7 1032.6 882.5 1034.2 884.3 1037.6 887.6 1039.3 889.1 1042.6 892 1047.7 895.9 1051 898.2 1054.4 900.3 1059.4 903 1062.8 904.7 1066.1 906.2 1071.1 908.1 1074.5 909.3 1077.9 910.3 1084.6 912.1 1087.9 912.9 1093 913.9 1101.3 915.3 1109.7 916.4 1119.8 917.3 1129.9 918 1141.6 918.6 1153.3 919 1168.4 919.3 1185.2 919.6 1232.2 919.8" fill="none" stroke="#000" stroke-width="2.9" stroke-linecap="square" stroke-linejoin="round"/>
<path d="M728.9 927.4v3.2M812.78 927.4v3.2M896.67 927.4v3.2M980.55 927.4v3.2M1064.43 927.4v3.2M1148.32 927.4v3.2M1232.2 927.4v3.2M703.6 919.9h-3.2M703.6 845.45h-3.2M703.6 771h-3.2" stroke="#000" stroke-opacity="0.42" stroke-width="1.0" fill="none"/>
<path d="M703.6 763.9V927.4H1257.2V763.9" fill="none" stroke="#000" stroke-opacity="0.42" stroke-width="1.0"/>
<path d="M703.6 763.9H1257.2" fill="none" stroke="#000" stroke-opacity=".22" stroke-width="1.0"/>
<text x="728.8" y="948.2" font-size="21.2">−3</text>
<text x="812.68" y="948.2" font-size="21.2">−2</text>
<text x="896.57" y="948.2" font-size="21.2">−1</text>
<text x="980.45" y="948.2" font-size="21.2">0</text>
<text x="1064.33" y="948.2" font-size="21.2">1</text>
<text x="1148.22" y="948.2" font-size="21.2">2</text>
<text x="1232.1" y="948.2" font-size="21.2">3</text>
<text x="699.55" y="928.9" font-size="21.2" class="e">0.0</text>
<text x="699.55" y="854.45" font-size="21.2" class="e">0.5</text>
<text x="699.55" y="780" font-size="21.2" class="e">1.0</text>
<text x="981" y="971" font-size="21.2">z-axis (um)</text>
<text transform="translate(658.1 845.65) rotate(-90) scale(1 1)" font-size="21.2">normalized intensity</text>
<text transform="translate(980.35 759.9) scale(1 1.025)" font-size="25.47">PSF Profiles with MUVE A = 2.0</text>
<rect x="712.3" y="772.6" width="202.5" height="110" rx="3" fill="#fff" fill-opacity=".8" stroke="#ccc" stroke-opacity=".8" stroke-width="1"/>
<path d="M719.3 786.8h35.6" stroke="#1f77b4" stroke-width="2.14" stroke-dasharray="7.9 3.4" fill="none"/>
<text x="769.3" y="793.3" font-size="17.62" class="s">confocal, 0.4NA</text>
<path d="M719.3 812.95h35.6" stroke="#ff7f0e" stroke-width="2.14" stroke-dasharray="7.9 3.4" fill="none"/>
<text x="769.3" y="819.45" font-size="17.62" class="s">confocal, 0.8NA</text>
<path d="M719.3 839.1h35.6" stroke="#2ca02c" stroke-width="2.14" stroke-dasharray="7.9 3.4" fill="none"/>
<text x="769.3" y="845.6" font-size="17.62" class="s">confocal, 1.0NA</text>
<path d="M719.3 865.25h35.6" stroke="#000" stroke-width="2.9" stroke-linecap="square" fill="none"/>
<text x="769.3" y="871.75" font-size="17.62" class="s">MUVE</text>
</g>
<g id="ax32">
<rect x="1346.4" y="763.9" width="553.6" height="163.5" fill="#fff"/>
<g fill="none" stroke-width="2.14" stroke-dasharray="7.9 3.4" stroke-linejoin="round"><path d="M1371.7 917.1 1380.1 916.5 1386.8 916.1 1393.5 915.9 1413.6 915.5 1432.1 914.3 1448.9 913.8 1455.6 913.5 1460.6 913 1470.7 911.5 1475.7 910.9 1487.5 909.8 1495.8 909.3 1499.2 909 1500.9 908.7 1502.6 908.3 1504.2 907.8 1514.3 904.2 1517.7 903.1 1521 902.1 1524.4 901.4 1536.1 899.1 1539.5 898.4 1541.1 897.9 1544.5 896.6 1546.2 895.8 1547.9 894.9 1551.2 892.8 1552.9 891.4 1557.9 886.8 1563 881.6 1564.6 880.1 1566.3 878.8 1571.3 875.1 1576.4 871.9 1581.4 868.5 1583.1 867.1 1584.8 865.4 1586.4 863.2 1588.1 860.5 1589.8 857.3 1593.2 849.7 1594.8 846.1 1596.5 842 1598.2 837.4 1599.9 832.2 1601.5 826.3 1609.9 794.5 1611.6 788.7 1613.3 783.7 1615 779.2 1616.6 776 1618.3 773.6 1620 772.3 1621.7 771.4 1623.4 771 1625 771.4 1626.7 772.3 1628.4 773.6 1630.1 776 1631.7 779.2 1633.4 783.7 1635.1 788.7 1636.8 794.5 1645.2 826.3 1646.8 832.2 1648.5 837.4 1650.2 842 1651.9 846.1 1653.5 849.7 1656.9 857.3 1658.6 860.5 1660.3 863.2 1661.9 865.4 1663.6 867.1 1665.3 868.5 1670.3 871.9 1675.4 875.1 1680.4 878.8 1682.1 880.1 1683.7 881.6 1688.8 886.8 1693.8 891.4 1695.5 892.8 1698.8 894.9 1700.5 895.8 1702.2 896.6 1705.6 897.9 1707.2 898.4 1710.6 899.1 1722.3 901.4 1725.7 902.1 1729 903.1 1732.4 904.2 1742.5 907.8 1744.1 908.3 1745.8 908.7 1747.5 909 1750.9 909.3 1759.2 909.8 1771 910.9 1776 911.5 1786.1 913 1791.1 913.5 1797.8 913.8 1814.6 914.3 1833.1 915.5 1853.2 915.9 1859.9 916.1 1866.6 916.5 1875 917.1" stroke="#1f77b4"/><path d="M1371.7 919.6 1381.8 919.2 1391.8 919 1396.9 919.1 1410.3 919.6 1415.3 919.6 1418.7 919.5 1428.7 918.8 1433.8 918.7 1438.8 918.9 1450.6 919.5 1455.6 919.6 1457.3 919.6 1460.6 919.4 1469 918.4 1474 918.1 1475.7 918.1 1479.1 918.3 1489.1 919.2 1492.5 919.4 1494.2 919.4 1495.8 919.2 1499.2 918.7 1510.9 916.4 1512.6 916.1 1516 915.9 1519.3 915.8 1522.7 915.9 1524.4 916 1531.1 917 1536.1 918 1537.8 918.1 1539.5 918 1542.8 917.6 1544.5 917.2 1546.2 916.6 1551.2 914.2 1554.6 912.3 1559.6 909.9 1561.3 909.2 1563 908.6 1564.6 908.3 1566.3 908.2 1568 908.4 1571.3 909 1573 909.6 1579.7 913.1 1581.4 913.6 1583.1 913.2 1584.8 912.1 1586.4 910.7 1588.1 908.1 1589.8 905 1591.5 901.2 1593.2 896.5 1594.8 889.9 1596.5 882.8 1599.9 867.8 1603.2 849.8 1611.6 802.7 1613.3 793.9 1615 786.5 1616.6 780.3 1618.3 775.6 1620 772.9 1621.7 771.6 1623.4 771 1625 771.6 1626.7 772.9 1628.4 775.6 1630.1 780.3 1631.7 786.5 1633.4 793.9 1635.1 802.7 1643.5 849.8 1646.8 867.8 1650.2 882.8 1651.9 889.9 1653.5 896.5 1655.2 901.2 1656.9 905 1658.6 908.1 1660.3 910.7 1661.9 912.1 1663.6 913.2 1665.3 913.6 1667 913.1 1673.7 909.6 1675.4 909 1678.7 908.4 1680.4 908.2 1682.1 908.3 1683.7 908.6 1685.4 909.2 1687.1 909.9 1692.1 912.3 1695.5 914.2 1700.5 916.6 1702.2 917.2 1703.9 917.6 1707.2 918 1708.9 918.1 1710.6 918 1715.6 917 1722.3 916 1724 915.9 1727.4 915.8 1730.7 915.9 1734.1 916.1 1735.8 916.4 1747.5 918.7 1750.9 919.2 1752.5 919.4 1754.2 919.4 1757.6 919.2 1767.6 918.3 1771 918.1 1772.7 918.1 1777.7 918.4 1786.1 919.4 1789.4 919.6 1791.1 919.6 1796.1 919.5 1807.9 918.9 1812.9 918.7 1818 918.8 1828 919.5 1831.4 919.6 1836.4 919.6 1849.8 919.1 1854.9 919 1864.9 919.2 1875 919.6" stroke="#ff7f0e" stroke-dashoffset="5.6"/><path d="M1371.7 919.6 1381.8 919.2 1391.8 919 1396.9 919.1 1410.3 919.6 1415.3 919.6 1418.7 919.5 1428.7 918.8 1433.8 918.7 1438.8 918.9 1450.6 919.5 1455.6 919.6 1457.3 919.6 1460.6 919.4 1469 918.4 1474 918.1 1475.7 918.1 1479.1 918.3 1489.1 919.3 1492.5 919.4 1494.2 919.4 1495.8 919.3 1499.2 918.9 1510.9 916.9 1512.6 916.7 1516 916.5 1521 916.4 1522.7 916.4 1526 916.7 1531.1 917.3 1536.1 918.2 1537.8 918.3 1539.5 918.2 1541.1 917.9 1544.5 917.3 1546.2 916.7 1547.9 915.9 1551.2 914.4 1554.6 912.7 1556.2 912 1559.6 910.8 1561.3 910.3 1563 910 1564.6 910 1566.3 910.2 1568 910.6 1571.3 911.6 1573 912.3 1576.4 913.8 1579.7 915.1 1581.4 915.3 1583.1 914.6 1584.8 913.3 1586.4 911.5 1588.1 908.7 1589.8 905.4 1591.5 901.6 1593.2 896.7 1594.8 890 1596.5 882.9 1599.9 867.8 1603.2 849.8 1611.6 802.7 1613.3 793.9 1615 786.5 1616.6 780.3 1618.3 775.6 1620 772.9 1621.7 771.6 1623.4 771 1625 771.6 1626.7 772.9 1628.4 775.6 1630.1 780.3 1631.7 786.5 1633.4 793.9 1635.1 802.7 1643.5 849.8 1646.8 867.8 1650.2 882.9 1651.9 890 1653.5 896.7 1655.2 901.6 1656.9 905.4 1658.6 908.7 1660.3 911.5 1661.9 913.3 1663.6 914.6 1665.3 915.3 1667 915.1 1670.3 913.8 1673.7 912.3 1675.4 911.6 1678.7 910.6 1680.4 910.2 1682.1 910 1683.7 910 1685.4 910.3 1687.1 910.8 1690.5 912 1692.1 912.7 1695.5 914.4 1698.8 915.9 1700.5 916.7 1702.2 917.3 1705.6 917.9 1707.2 918.2 1708.9 918.3 1710.6 918.2 1715.6 917.3 1720.7 916.7 1724 916.4 1725.7 916.4 1730.7 916.5 1734.1 916.7 1735.8 916.9 1747.5 918.9 1750.9 919.3 1752.5 919.4 1754.2 919.4 1757.6 919.3 1767.6 918.3 1771 918.1 1772.7 918.1 1777.7 918.4 1786.1 919.4 1789.4 919.6 1791.1 919.6 1796.1 919.5 1807.9 918.9 1812.9 918.7 1818 918.8 1828 919.5 1831.4 919.6 1836.4 919.6 1849.8 919.1 1854.9 919 1864.9 919.2 1875 919.6" stroke="#2ca02c"/></g><path d="M1371.7 919.9 1621.7 919.9 1623.4 771 1625 782.5 1626.7 793.1 1628.4 802.9 1630.1 812 1631.7 820.5 1633.4 828.3 1635.1 835.5 1636.8 842.2 1638.4 848.3 1640.1 854 1641.8 859.3 1643.5 864.2 1645.2 868.6 1646.8 872.8 1648.5 876.6 1650.2 880.1 1651.9 883.3 1653.5 886.3 1655.2 889.1 1656.9 891.6 1658.6 894 1660.3 896.1 1661.9 898.1 1663.6 899.9 1667 903.1 1670.3 905.8 1672 907 1675.4 909.1 1678.7 910.8 1680.4 911.6 1683.7 913 1688.8 914.6 1693.8 915.9 1698.8 916.8 1705.6 917.8 1712.3 918.4 1719 918.9 1727.4 919.2 1735.8 919.5 1757.6 919.8 1791.1 919.9 1875 919.9" fill="none" stroke="#000" stroke-width="2.9" stroke-linecap="square" stroke-linejoin="round"/>
<path d="M1371.7 927.4v3.2M1455.58 927.4v3.2M1539.47 927.4v3.2M1623.35 927.4v3.2M1707.23 927.4v3.2M1791.12 927.4v3.2M1875 927.4v3.2M1346.4 919.9h-3.2M1346.4 845.45h-3.2M1346.4 771h-3.2" stroke="#000" stroke-opacity="0.42" stroke-width="1.0" fill="none"/>
<path d="M1346.4 763.9V927.4H1900V763.9" fill="none" stroke="#000" stroke-opacity="0.42" stroke-width="1.0"/>
<path d="M1346.4 763.9H1900" fill="none" stroke="#000" stroke-opacity=".22" stroke-width="1.0"/>
<text x="1371" y="948.2" font-size="21.2">−3</text>
<text x="1454.88" y="948.2" font-size="21.2">−2</text>
<text x="1538.77" y="948.2" font-size="21.2">−1</text>
<text x="1622.65" y="948.2" font-size="21.2">0</text>
<text x="1706.53" y="948.2" font-size="21.2">1</text>
<text x="1790.42" y="948.2" font-size="21.2">2</text>
<text x="1874.3" y="948.2" font-size="21.2">3</text>
<text x="1341.6" y="928.9" font-size="21.2" class="e">0.0</text>
<text x="1341.6" y="854.45" font-size="21.2" class="e">0.5</text>
<text x="1341.6" y="780" font-size="21.2" class="e">1.0</text>
<text x="1623.8" y="971" font-size="21.2">z-axis (um)</text>
<text transform="translate(1301.05 845.65) rotate(-90) scale(1 1)" font-size="21.2">normalized intensity</text>
<text transform="translate(1622.7 759.9) scale(1 1.025)" font-size="25.47">PSF Profiles with MUVE A = 4.0</text>
<rect x="1355.1" y="772.6" width="203" height="110" rx="3" fill="#fff" fill-opacity=".8" stroke="#ccc" stroke-opacity=".8" stroke-width="1"/>
<path d="M1362.1 786.8h35.6" stroke="#1f77b4" stroke-width="2.14" stroke-dasharray="7.9 3.4" fill="none"/>
<text x="1411.5" y="792.9" font-size="17.62" class="s">confocal, 0.4NA</text>
<path d="M1362.1 812.95h35.6" stroke="#ff7f0e" stroke-width="2.14" stroke-dasharray="7.9 3.4" fill="none"/>
<text x="1411.5" y="819.05" font-size="17.62" class="s">confocal, 0.8NA</text>
<path d="M1362.1 839.1h35.6" stroke="#2ca02c" stroke-width="2.14" stroke-dasharray="7.9 3.4" fill="none"/>
<text x="1411.5" y="845.2" font-size="17.62" class="s">confocal, 1.0NA</text>
<path d="M1362.1 865.25h35.6" stroke="#000" stroke-width="2.9" stroke-linecap="square" fill="none"/>
<text x="1411.5" y="871.35" font-size="17.62" class="s">MUVE</text>
</g>
</svg></body></html>
